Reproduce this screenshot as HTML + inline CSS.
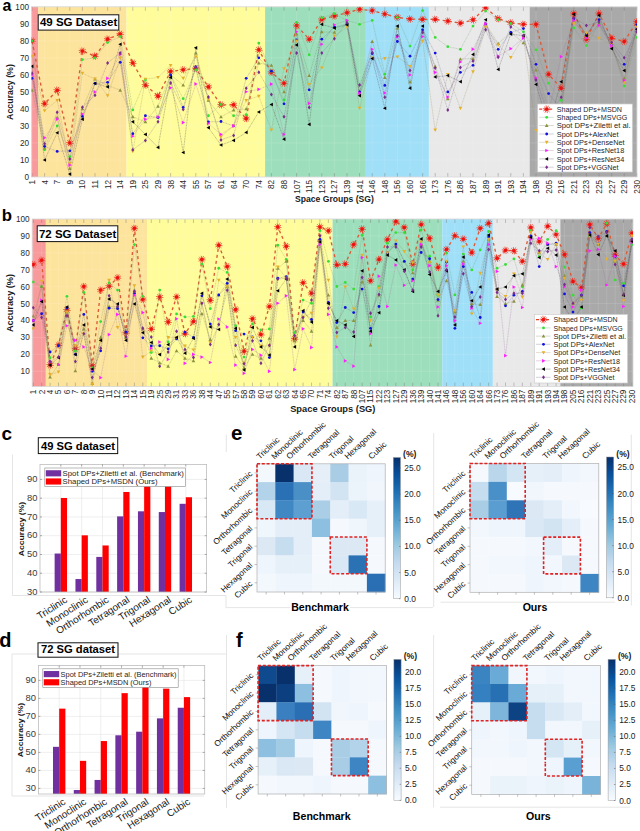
<!DOCTYPE html><html><head><meta charset="utf-8"><style>html,body{margin:0;padding:0;background:#fff;width:640px;height:831px;overflow:hidden}svg{display:block}</style></head><body>
<svg width="640" height="831" viewBox="0 0 640 831" font-family='"Liberation Sans", sans-serif'>
<rect width="640" height="831" fill="#fff"/>
<path d="M12.5 454.5V595.5H226V607.6H290M350 607.6H433M226.3 434.5V452M433.7 433V607M440.6 602.2H615M631.3 434.5V605.5M12 654H226M12 654V796H204M226.5 635V808M433.6 635V807.4M440 807.2H630" fill="none" stroke="#dedede" stroke-width="0.8"/>
<text x="2.5" y="10.8" font-size="16" font-weight="bold" fill="#000">a</text>
<text x="1.8" y="220.6" font-size="16.8" font-weight="bold" fill="#000">b</text>
<clipPath id="clipa"><rect x="31.5" y="6.8" width="605.5" height="170.2"/></clipPath>
<rect x="31.50" y="6.8" width="6.80" height="170.2" fill="#f89a9c"/>
<rect x="38.30" y="6.8" width="88.20" height="170.2" fill="#fde49c"/>
<rect x="126.50" y="6.8" width="138.60" height="170.2" fill="#fefc9b"/>
<rect x="265.10" y="6.8" width="100.80" height="170.2" fill="#9ddfbc"/>
<rect x="365.90" y="6.8" width="63.00" height="170.2" fill="#9fdff8"/>
<rect x="428.90" y="6.8" width="100.80" height="170.2" fill="#e9e9e9"/>
<rect x="529.70" y="6.8" width="107.30" height="170.2" fill="#a9a9a9"/>
<path d="M32.00 6.8V177M44.60 6.8V177M57.20 6.8V177M69.80 6.8V177M82.40 6.8V177M95.00 6.8V177M107.60 6.8V177M120.20 6.8V177M132.80 6.8V177M145.40 6.8V177M158.00 6.8V177M170.60 6.8V177M183.20 6.8V177M195.80 6.8V177M208.40 6.8V177M221.00 6.8V177M233.60 6.8V177M246.20 6.8V177M258.80 6.8V177M271.40 6.8V177M284.00 6.8V177M296.60 6.8V177M309.20 6.8V177M321.80 6.8V177M334.40 6.8V177M347.00 6.8V177M359.60 6.8V177M372.20 6.8V177M384.80 6.8V177M397.40 6.8V177M410.00 6.8V177M422.60 6.8V177M435.20 6.8V177M447.80 6.8V177M460.40 6.8V177M473.00 6.8V177M485.60 6.8V177M498.20 6.8V177M510.80 6.8V177M523.40 6.8V177M536.00 6.8V177M548.60 6.8V177M561.20 6.8V177M573.80 6.8V177M586.40 6.8V177M599.00 6.8V177M611.60 6.8V177M624.20 6.8V177M636.80 6.8V177M31.5 177.00H637M31.5 159.98H637M31.5 142.96H637M31.5 125.94H637M31.5 108.92H637M31.5 91.90H637M31.5 74.88H637M31.5 57.86H637M31.5 40.84H637M31.5 23.82H637M31.5 6.80H637" stroke="#ffffff" stroke-opacity="0.2" stroke-width="0.6" fill="none"/>
<path d="M32.00 6.8v4M32.00 177v-4M44.60 6.8v4M44.60 177v-4M57.20 6.8v4M57.20 177v-4M69.80 6.8v4M69.80 177v-4M82.40 6.8v4M82.40 177v-4M95.00 6.8v4M95.00 177v-4M107.60 6.8v4M107.60 177v-4M120.20 6.8v4M120.20 177v-4M132.80 6.8v4M132.80 177v-4M145.40 6.8v4M145.40 177v-4M158.00 6.8v4M158.00 177v-4M170.60 6.8v4M170.60 177v-4M183.20 6.8v4M183.20 177v-4M195.80 6.8v4M195.80 177v-4M208.40 6.8v4M208.40 177v-4M221.00 6.8v4M221.00 177v-4M233.60 6.8v4M233.60 177v-4M246.20 6.8v4M246.20 177v-4M258.80 6.8v4M258.80 177v-4M271.40 6.8v4M271.40 177v-4M284.00 6.8v4M284.00 177v-4M296.60 6.8v4M296.60 177v-4M309.20 6.8v4M309.20 177v-4M321.80 6.8v4M321.80 177v-4M334.40 6.8v4M334.40 177v-4M347.00 6.8v4M347.00 177v-4M359.60 6.8v4M359.60 177v-4M372.20 6.8v4M372.20 177v-4M384.80 6.8v4M384.80 177v-4M397.40 6.8v4M397.40 177v-4M410.00 6.8v4M410.00 177v-4M422.60 6.8v4M422.60 177v-4M435.20 6.8v4M435.20 177v-4M447.80 6.8v4M447.80 177v-4M460.40 6.8v4M460.40 177v-4M473.00 6.8v4M473.00 177v-4M485.60 6.8v4M485.60 177v-4M498.20 6.8v4M498.20 177v-4M510.80 6.8v4M510.80 177v-4M523.40 6.8v4M523.40 177v-4M536.00 6.8v4M536.00 177v-4M548.60 6.8v4M548.60 177v-4M561.20 6.8v4M561.20 177v-4M573.80 6.8v4M573.80 177v-4M586.40 6.8v4M586.40 177v-4M599.00 6.8v4M599.00 177v-4M611.60 6.8v4M611.60 177v-4M624.20 6.8v4M624.20 177v-4M636.80 6.8v4M636.80 177v-4" stroke="#555" stroke-opacity="0.55" stroke-width="0.6" fill="none"/>
<rect x="31.5" y="6.8" width="605.5" height="170.2" fill="none" stroke="#d6d6d6" stroke-width="0.8"/>
<g clip-path="url(#clipa)">
<polyline points="32.00,40.84 44.60,103.81 57.20,90.20 69.80,142.96 82.40,51.05 95.00,56.16 107.60,39.14 120.20,34.03 132.80,62.97 145.40,85.09 158.00,96.16 170.60,71.48 183.20,69.77 195.80,68.58 208.40,86.79 221.00,104.84 233.60,104.84 246.20,118.62 258.80,49.86 271.40,72.33 284.00,83.22 296.60,25.52 309.20,39.31 321.80,19.39 334.40,15.99 347.00,12.76 359.60,9.35 372.20,10.54 384.80,14.12 397.40,17.35 410.00,19.05 422.60,19.39 435.20,19.39 447.80,21.10 460.40,23.14 473.00,19.91 485.60,7.65 498.20,18.71 510.80,22.80 523.40,24.33 536.00,24.33 548.60,74.37 561.20,88.16 573.80,13.61 586.40,39.31 599.00,13.61 611.60,38.12 624.20,41.52 636.80,21.78" fill="none" stroke="#dc5a36" stroke-width="1.35" stroke-dasharray="3 3.1"/>
<path d="M32.79 40.96L35.66 41.39M32.57 41.40L34.63 43.44M32.13 41.63L32.60 44.49M31.64 41.56L30.34 44.15M31.29 41.21L28.72 42.54M31.21 40.72L28.34 40.29M31.43 40.28L29.37 38.24M31.87 40.05L31.40 37.19M32.36 40.12L33.66 37.53M32.71 40.47L35.28 39.14" stroke="#ee3a2a" stroke-width="0.95" stroke-opacity="0.85"/><circle cx="32.00" cy="40.84" r="1.80" fill="#ee1010"/>
<path d="M45.39 103.93L48.26 104.37M45.17 104.38L47.23 106.41M44.73 104.60L45.20 107.46M44.24 104.53L42.94 107.12M43.89 104.18L41.32 105.52M43.81 103.69L40.94 103.26M44.03 103.25L41.97 101.22M44.47 103.02L44.00 100.16M44.96 103.10L46.26 100.51M45.31 103.45L47.88 102.11" stroke="#ee3a2a" stroke-width="0.95" stroke-opacity="0.85"/><circle cx="44.60" cy="103.81" r="1.80" fill="#ee1010"/>
<path d="M57.99 90.32L60.86 90.75M57.77 90.76L59.83 92.80M57.33 90.99L57.80 93.85M56.84 90.91L55.54 93.51M56.49 90.57L53.92 91.90M56.41 90.08L53.54 89.65M56.63 89.64L54.57 87.60M57.07 89.41L56.60 86.55M57.56 89.48L58.86 86.89M57.91 89.83L60.48 88.49" stroke="#ee3a2a" stroke-width="0.95" stroke-opacity="0.85"/><circle cx="57.20" cy="90.20" r="1.80" fill="#ee1010"/>
<path d="M70.59 143.08L73.46 143.51M70.37 143.52L72.43 145.56M69.93 143.75L70.40 146.61M69.44 143.68L68.14 146.27M69.09 143.33L66.52 144.66M69.01 142.84L66.14 142.41M69.23 142.40L67.17 140.36M69.67 142.17L69.20 139.31M70.16 142.24L71.46 139.65M70.51 142.59L73.08 141.26" stroke="#ee3a2a" stroke-width="0.95" stroke-opacity="0.85"/><circle cx="69.80" cy="142.96" r="1.80" fill="#ee1010"/>
<path d="M83.19 51.17L86.06 51.60M82.97 51.61L85.03 53.65M82.53 51.84L83.00 54.70M82.04 51.77L80.74 54.36M81.69 51.42L79.12 52.76M81.61 50.93L78.74 50.50M81.83 50.49L79.77 48.45M82.27 50.26L81.80 47.40M82.76 50.34L84.06 47.74M83.11 50.68L85.68 49.35" stroke="#ee3a2a" stroke-width="0.95" stroke-opacity="0.85"/><circle cx="82.40" cy="51.05" r="1.80" fill="#ee1010"/>
<path d="M95.79 56.28L98.66 56.71M95.57 56.72L97.63 58.76M95.13 56.95L95.60 59.81M94.64 56.87L93.34 59.47M94.29 56.53L91.72 57.86M94.21 56.04L91.34 55.61M94.43 55.60L92.37 53.56M94.87 55.37L94.40 52.51M95.36 55.44L96.66 52.85M95.71 55.79L98.28 54.45" stroke="#ee3a2a" stroke-width="0.95" stroke-opacity="0.85"/><circle cx="95.00" cy="56.16" r="1.80" fill="#ee1010"/>
<path d="M108.39 39.26L111.26 39.69M108.17 39.70L110.23 41.74M107.73 39.93L108.20 42.79M107.24 39.85L105.94 42.45M106.89 39.51L104.32 40.84M106.81 39.02L103.94 38.59M107.03 38.58L104.97 36.54M107.47 38.35L107.00 35.49M107.96 38.42L109.26 35.83M108.31 38.77L110.88 37.43" stroke="#ee3a2a" stroke-width="0.95" stroke-opacity="0.85"/><circle cx="107.60" cy="39.14" r="1.80" fill="#ee1010"/>
<path d="M120.99 34.15L123.86 34.58M120.77 34.59L122.83 36.63M120.33 34.82L120.80 37.68M119.84 34.75L118.54 37.34M119.49 34.40L116.92 35.74M119.41 33.91L116.54 33.48M119.63 33.47L117.57 31.43M120.07 33.24L119.60 30.38M120.56 33.32L121.86 30.72M120.91 33.66L123.48 32.33" stroke="#ee3a2a" stroke-width="0.95" stroke-opacity="0.85"/><circle cx="120.20" cy="34.03" r="1.80" fill="#ee1010"/>
<path d="M133.59 63.09L136.46 63.52M133.37 63.53L135.43 65.56M132.93 63.76L133.40 66.62M132.44 63.68L131.14 66.27M132.09 63.33L129.52 64.67M132.01 62.85L129.14 62.41M132.23 62.40L130.17 60.37M132.67 62.18L132.20 59.32M133.16 62.25L134.46 59.66M133.51 62.60L136.08 61.26" stroke="#ee3a2a" stroke-width="0.95" stroke-opacity="0.85"/><circle cx="132.80" cy="62.97" r="1.80" fill="#ee1010"/>
<path d="M146.19 85.21L149.06 85.64M145.97 85.65L148.03 87.69M145.53 85.88L146.00 88.74M145.04 85.81L143.74 88.40M144.69 85.46L142.12 86.80M144.61 84.97L141.74 84.54M144.83 84.53L142.77 82.49M145.27 84.30L144.80 81.44M145.76 84.38L147.06 81.78M146.11 84.72L148.68 83.39" stroke="#ee3a2a" stroke-width="0.95" stroke-opacity="0.85"/><circle cx="145.40" cy="85.09" r="1.80" fill="#ee1010"/>
<path d="M158.79 96.27L161.66 96.71M158.57 96.72L160.63 98.75M158.13 96.94L158.60 99.81M157.64 96.87L156.34 99.46M157.29 96.52L154.72 97.86M157.21 96.04L154.34 95.60M157.43 95.59L155.37 93.56M157.87 95.37L157.40 92.50M158.36 95.44L159.66 92.85M158.71 95.79L161.28 94.45" stroke="#ee3a2a" stroke-width="0.95" stroke-opacity="0.85"/><circle cx="158.00" cy="96.16" r="1.80" fill="#ee1010"/>
<path d="M171.39 71.60L174.26 72.03M171.17 72.04L173.23 74.07M170.73 72.27L171.20 75.13M170.24 72.19L168.94 74.78M169.89 71.84L167.32 73.18M169.81 71.36L166.94 70.92M170.03 70.91L167.97 68.88M170.47 70.69L170.00 67.83M170.96 70.76L172.26 68.17M171.31 71.11L173.88 69.77" stroke="#ee3a2a" stroke-width="0.95" stroke-opacity="0.85"/><circle cx="170.60" cy="71.48" r="1.80" fill="#ee1010"/>
<path d="M183.99 69.89L186.86 70.33M183.77 70.34L185.83 72.37M183.33 70.56L183.80 73.42M182.84 70.49L181.54 73.08M182.49 70.14L179.92 71.48M182.41 69.65L179.54 69.22M182.63 69.21L180.57 67.18M183.07 68.98L182.60 66.12M183.56 69.06L184.86 66.47M183.91 69.41L186.48 68.07" stroke="#ee3a2a" stroke-width="0.95" stroke-opacity="0.85"/><circle cx="183.20" cy="69.77" r="1.80" fill="#ee1010"/>
<path d="M196.59 68.70L199.46 69.14M196.37 69.14L198.43 71.18M195.93 69.37L196.40 72.23M195.44 69.30L194.14 71.89M195.09 68.95L192.52 70.29M195.01 68.46L192.14 68.03M195.23 68.02L193.17 65.98M195.67 67.79L195.20 64.93M196.16 67.87L197.46 65.27M196.51 68.21L199.08 66.88" stroke="#ee3a2a" stroke-width="0.95" stroke-opacity="0.85"/><circle cx="195.80" cy="68.58" r="1.80" fill="#ee1010"/>
<path d="M209.19 86.91L212.06 87.35M208.97 87.36L211.03 89.39M208.53 87.58L209.00 90.44M208.04 87.51L206.74 90.10M207.69 87.16L205.12 88.50M207.61 86.67L204.74 86.24M207.83 86.23L205.77 84.20M208.27 86.00L207.80 83.14M208.76 86.08L210.06 83.49M209.11 86.43L211.68 85.09" stroke="#ee3a2a" stroke-width="0.95" stroke-opacity="0.85"/><circle cx="208.40" cy="86.79" r="1.80" fill="#ee1010"/>
<path d="M221.79 104.95L224.66 105.39M221.57 105.40L223.63 107.43M221.13 105.62L221.60 108.49M220.64 105.55L219.34 108.14M220.29 105.20L217.72 106.54M220.21 104.72L217.34 104.28M220.43 104.27L218.37 102.24M220.87 104.05L220.40 101.18M221.36 104.12L222.66 101.53M221.71 104.47L224.28 103.13" stroke="#ee3a2a" stroke-width="0.95" stroke-opacity="0.85"/><circle cx="221.00" cy="104.84" r="1.80" fill="#ee1010"/>
<path d="M234.39 104.95L237.26 105.39M234.17 105.40L236.23 107.43M233.73 105.62L234.20 108.49M233.24 105.55L231.94 108.14M232.89 105.20L230.32 106.54M232.81 104.72L229.94 104.28M233.03 104.27L230.97 102.24M233.47 104.05L233.00 101.18M233.96 104.12L235.26 101.53M234.31 104.47L236.88 103.13" stroke="#ee3a2a" stroke-width="0.95" stroke-opacity="0.85"/><circle cx="233.60" cy="104.84" r="1.80" fill="#ee1010"/>
<path d="M246.99 118.74L249.86 119.17M246.77 119.18L248.83 121.22M246.33 119.41L246.80 122.27M245.84 119.34L244.54 121.93M245.49 118.99L242.92 120.32M245.41 118.50L242.54 118.07M245.63 118.06L243.57 116.02M246.07 117.83L245.60 114.97M246.56 117.91L247.86 115.31M246.91 118.25L249.48 116.92" stroke="#ee3a2a" stroke-width="0.95" stroke-opacity="0.85"/><circle cx="246.20" cy="118.62" r="1.80" fill="#ee1010"/>
<path d="M259.59 49.98L262.46 50.41M259.37 50.42L261.43 52.46M258.93 50.65L259.40 53.51M258.44 50.58L257.14 53.17M258.09 50.23L255.52 51.56M258.01 49.74L255.14 49.31M258.23 49.30L256.17 47.26M258.67 49.07L258.20 46.21M259.16 49.15L260.46 46.55M259.51 49.49L262.08 48.16" stroke="#ee3a2a" stroke-width="0.95" stroke-opacity="0.85"/><circle cx="258.80" cy="49.86" r="1.80" fill="#ee1010"/>
<path d="M272.19 72.45L275.06 72.88M271.97 72.89L274.03 74.92M271.53 73.12L272.00 75.98M271.04 73.04L269.74 75.64M270.69 72.70L268.12 74.03M270.61 72.21L267.74 71.77M270.83 71.77L268.77 69.73M271.27 71.54L270.80 68.68M271.76 71.61L273.06 69.02M272.11 71.96L274.68 70.62" stroke="#ee3a2a" stroke-width="0.95" stroke-opacity="0.85"/><circle cx="271.40" cy="72.33" r="1.80" fill="#ee1010"/>
<path d="M284.79 83.34L287.66 83.77M284.57 83.78L286.63 85.82M284.13 84.01L284.60 86.87M283.64 83.94L282.34 86.53M283.29 83.59L280.72 84.92M283.21 83.10L280.34 82.67M283.43 82.66L281.37 80.62M283.87 82.43L283.40 79.57M284.36 82.50L285.66 79.91M284.71 82.85L287.28 81.52" stroke="#ee3a2a" stroke-width="0.95" stroke-opacity="0.85"/><circle cx="284.00" cy="83.22" r="1.80" fill="#ee1010"/>
<path d="M297.39 25.64L300.26 26.07M297.17 26.08L299.23 28.12M296.73 26.31L297.20 29.17M296.24 26.24L294.94 28.83M295.89 25.89L293.32 27.23M295.81 25.40L292.94 24.97M296.03 24.96L293.97 22.92M296.47 24.73L296.00 21.87M296.96 24.81L298.26 22.21M297.31 25.15L299.88 23.82" stroke="#ee3a2a" stroke-width="0.95" stroke-opacity="0.85"/><circle cx="296.60" cy="25.52" r="1.80" fill="#ee1010"/>
<path d="M309.99 39.43L312.86 39.86M309.77 39.87L311.83 41.91M309.33 40.10L309.80 42.96M308.84 40.02L307.54 42.62M308.49 39.68L305.92 41.01M308.41 39.19L305.54 38.76M308.63 38.75L306.57 36.71M309.07 38.52L308.60 35.66M309.56 38.59L310.86 36.00M309.91 38.94L312.48 37.61" stroke="#ee3a2a" stroke-width="0.95" stroke-opacity="0.85"/><circle cx="309.20" cy="39.31" r="1.80" fill="#ee1010"/>
<path d="M322.59 19.51L325.46 19.95M322.37 19.96L324.43 21.99M321.93 20.18L322.40 23.05M321.44 20.11L320.14 22.70M321.09 19.76L318.52 21.10M321.01 19.28L318.14 18.84M321.23 18.83L319.17 16.80M321.67 18.61L321.20 15.74M322.16 18.68L323.46 16.09M322.51 19.03L325.08 17.69" stroke="#ee3a2a" stroke-width="0.95" stroke-opacity="0.85"/><circle cx="321.80" cy="19.39" r="1.80" fill="#ee1010"/>
<path d="M335.19 16.11L338.06 16.54M334.97 16.55L337.03 18.59M334.53 16.78L335.00 19.64M334.04 16.71L332.74 19.30M333.69 16.36L331.12 17.69M333.61 15.87L330.74 15.44M333.83 15.43L331.77 13.39M334.27 15.20L333.80 12.34M334.76 15.28L336.06 12.68M335.11 15.62L337.68 14.29" stroke="#ee3a2a" stroke-width="0.95" stroke-opacity="0.85"/><circle cx="334.40" cy="15.99" r="1.80" fill="#ee1010"/>
<path d="M347.79 12.88L350.66 13.31M347.57 13.32L349.63 15.35M347.13 13.55L347.60 16.41M346.64 13.47L345.34 16.07M346.29 13.13L343.72 14.46M346.21 12.64L343.34 12.20M346.43 12.20L344.37 10.16M346.87 11.97L346.40 9.11M347.36 12.04L348.66 9.45M347.71 12.39L350.28 11.05" stroke="#ee3a2a" stroke-width="0.95" stroke-opacity="0.85"/><circle cx="347.00" cy="12.76" r="1.80" fill="#ee1010"/>
<path d="M360.39 9.47L363.26 9.91M360.17 9.91L362.23 11.95M359.73 10.14L360.20 13.00M359.24 10.07L357.94 12.66M358.89 9.72L356.32 11.06M358.81 9.23L355.94 8.80M359.03 8.79L356.97 6.76M359.47 8.56L359.00 5.70M359.96 8.64L361.26 6.04M360.31 8.98L362.88 7.65" stroke="#ee3a2a" stroke-width="0.95" stroke-opacity="0.85"/><circle cx="359.60" cy="9.35" r="1.80" fill="#ee1010"/>
<path d="M372.99 10.66L375.86 11.10M372.77 11.11L374.83 13.14M372.33 11.33L372.80 14.19M371.84 11.26L370.54 13.85M371.49 10.91L368.92 12.25M371.41 10.42L368.54 9.99M371.63 9.98L369.57 7.95M372.07 9.76L371.60 6.89M372.56 9.83L373.86 7.24M372.91 10.18L375.48 8.84" stroke="#ee3a2a" stroke-width="0.95" stroke-opacity="0.85"/><circle cx="372.20" cy="10.54" r="1.80" fill="#ee1010"/>
<path d="M385.59 14.24L388.46 14.67M385.37 14.68L387.43 16.72M384.93 14.91L385.40 17.77M384.44 14.83L383.14 17.43M384.09 14.49L381.52 15.82M384.01 14.00L381.14 13.57M384.23 13.56L382.17 11.52M384.67 13.33L384.20 10.47M385.16 13.40L386.46 10.81M385.51 13.75L388.08 12.42" stroke="#ee3a2a" stroke-width="0.95" stroke-opacity="0.85"/><circle cx="384.80" cy="14.12" r="1.80" fill="#ee1010"/>
<path d="M398.19 17.47L401.06 17.91M397.97 17.91L400.03 19.95M397.53 18.14L398.00 21.00M397.04 18.07L395.74 20.66M396.69 17.72L394.12 19.06M396.61 17.23L393.74 16.80M396.83 16.79L394.77 14.75M397.27 16.56L396.80 13.70M397.76 16.64L399.06 14.04M398.11 16.98L400.68 15.65" stroke="#ee3a2a" stroke-width="0.95" stroke-opacity="0.85"/><circle cx="397.40" cy="17.35" r="1.80" fill="#ee1010"/>
<path d="M410.79 19.17L413.66 19.61M410.57 19.62L412.63 21.65M410.13 19.84L410.60 22.70M409.64 19.77L408.34 22.36M409.29 19.42L406.72 20.76M409.21 18.93L406.34 18.50M409.43 18.49L407.37 16.46M409.87 18.27L409.40 15.40M410.36 18.34L411.66 15.75M410.71 18.69L413.28 17.35" stroke="#ee3a2a" stroke-width="0.95" stroke-opacity="0.85"/><circle cx="410.00" cy="19.05" r="1.80" fill="#ee1010"/>
<path d="M423.39 19.51L426.26 19.95M423.17 19.96L425.23 21.99M422.73 20.18L423.20 23.05M422.24 20.11L420.94 22.70M421.89 19.76L419.32 21.10M421.81 19.28L418.94 18.84M422.03 18.83L419.97 16.80M422.47 18.61L422.00 15.74M422.96 18.68L424.26 16.09M423.31 19.03L425.88 17.69" stroke="#ee3a2a" stroke-width="0.95" stroke-opacity="0.85"/><circle cx="422.60" cy="19.39" r="1.80" fill="#ee1010"/>
<path d="M435.99 19.51L438.86 19.95M435.77 19.96L437.83 21.99M435.33 20.18L435.80 23.05M434.84 20.11L433.54 22.70M434.49 19.76L431.92 21.10M434.41 19.28L431.54 18.84M434.63 18.83L432.57 16.80M435.07 18.61L434.60 15.74M435.56 18.68L436.86 16.09M435.91 19.03L438.48 17.69" stroke="#ee3a2a" stroke-width="0.95" stroke-opacity="0.85"/><circle cx="435.20" cy="19.39" r="1.80" fill="#ee1010"/>
<path d="M448.59 21.22L451.46 21.65M448.37 21.66L450.43 23.69M447.93 21.89L448.40 24.75M447.44 21.81L446.14 24.41M447.09 21.47L444.52 22.80M447.01 20.98L444.14 20.54M447.23 20.54L445.17 18.50M447.67 20.31L447.20 17.45M448.16 20.38L449.46 17.79M448.51 20.73L451.08 19.39" stroke="#ee3a2a" stroke-width="0.95" stroke-opacity="0.85"/><circle cx="447.80" cy="21.10" r="1.80" fill="#ee1010"/>
<path d="M461.19 23.26L464.06 23.69M460.97 23.70L463.03 25.74M460.53 23.93L461.00 26.79M460.04 23.85L458.74 26.45M459.69 23.51L457.12 24.84M459.61 23.02L456.74 22.59M459.83 22.58L457.77 20.54M460.27 22.35L459.80 19.49M460.76 22.42L462.06 19.83M461.11 22.77L463.68 21.44" stroke="#ee3a2a" stroke-width="0.95" stroke-opacity="0.85"/><circle cx="460.40" cy="23.14" r="1.80" fill="#ee1010"/>
<path d="M473.79 20.02L476.66 20.46M473.57 20.47L475.63 22.50M473.13 20.69L473.60 23.56M472.64 20.62L471.34 23.21M472.29 20.27L469.72 21.61M472.21 19.79L469.34 19.35M472.43 19.34L470.37 17.31M472.87 19.12L472.40 16.26M473.36 19.19L474.66 16.60M473.71 19.54L476.28 18.20" stroke="#ee3a2a" stroke-width="0.95" stroke-opacity="0.85"/><circle cx="473.00" cy="19.91" r="1.80" fill="#ee1010"/>
<path d="M486.39 7.77L489.26 8.20M486.17 8.21L488.23 10.25M485.73 8.44L486.20 11.30M485.24 8.37L483.94 10.96M484.89 8.02L482.32 9.35M484.81 7.53L481.94 7.10M485.03 7.09L482.97 5.05M485.47 6.86L485.00 4.00M485.96 6.94L487.26 4.34M486.31 7.28L488.88 5.95" stroke="#ee3a2a" stroke-width="0.95" stroke-opacity="0.85"/><circle cx="485.60" cy="7.65" r="1.80" fill="#ee1010"/>
<path d="M498.99 18.83L501.86 19.27M498.77 19.28L500.83 21.31M498.33 19.50L498.80 22.36M497.84 19.43L496.54 22.02M497.49 19.08L494.92 20.42M497.41 18.59L494.54 18.16M497.63 18.15L495.57 16.12M498.07 17.92L497.60 15.06M498.56 18.00L499.86 15.41M498.91 18.35L501.48 17.01" stroke="#ee3a2a" stroke-width="0.95" stroke-opacity="0.85"/><circle cx="498.20" cy="18.71" r="1.80" fill="#ee1010"/>
<path d="M511.59 22.92L514.46 23.35M511.37 23.36L513.43 25.40M510.93 23.59L511.40 26.45M510.44 23.51L509.14 26.11M510.09 23.17L507.52 24.50M510.01 22.68L507.14 22.25M510.23 22.24L508.17 20.20M510.67 22.01L510.20 19.15M511.16 22.08L512.46 19.49M511.51 22.43L514.08 21.10" stroke="#ee3a2a" stroke-width="0.95" stroke-opacity="0.85"/><circle cx="510.80" cy="22.80" r="1.80" fill="#ee1010"/>
<path d="M524.19 24.45L527.06 24.88M523.97 24.89L526.03 26.93M523.53 25.12L524.00 27.98M523.04 25.05L521.74 27.64M522.69 24.70L520.12 26.03M522.61 24.21L519.74 23.78M522.83 23.77L520.77 21.73M523.27 23.54L522.80 20.68M523.76 23.62L525.06 21.02M524.11 23.96L526.68 22.63" stroke="#ee3a2a" stroke-width="0.95" stroke-opacity="0.85"/><circle cx="523.40" cy="24.33" r="1.80" fill="#ee1010"/>
<path d="M536.79 24.45L539.66 24.88M536.57 24.89L538.63 26.93M536.13 25.12L536.60 27.98M535.64 25.05L534.34 27.64M535.29 24.70L532.72 26.03M535.21 24.21L532.34 23.78M535.43 23.77L533.37 21.73M535.87 23.54L535.40 20.68M536.36 23.62L537.66 21.02M536.71 23.96L539.28 22.63" stroke="#ee3a2a" stroke-width="0.95" stroke-opacity="0.85"/><circle cx="536.00" cy="24.33" r="1.80" fill="#ee1010"/>
<path d="M549.39 74.49L552.26 74.92M549.17 74.93L551.23 76.97M548.73 75.16L549.20 78.02M548.24 75.08L546.94 77.68M547.89 74.74L545.32 76.07M547.81 74.25L544.94 73.82M548.03 73.81L545.97 71.77M548.47 73.58L548.00 70.72M548.96 73.65L550.26 71.06M549.31 74.00L551.88 72.67" stroke="#ee3a2a" stroke-width="0.95" stroke-opacity="0.85"/><circle cx="548.60" cy="74.37" r="1.80" fill="#ee1010"/>
<path d="M561.99 88.28L564.86 88.71M561.77 88.72L563.83 90.75M561.33 88.94L561.80 91.81M560.84 88.87L559.54 91.46M560.49 88.52L557.92 89.86M560.41 88.04L557.54 87.60M560.63 87.59L558.57 85.56M561.07 87.37L560.60 84.51M561.56 87.44L562.86 84.85M561.91 87.79L564.48 86.45" stroke="#ee3a2a" stroke-width="0.95" stroke-opacity="0.85"/><circle cx="561.20" cy="88.16" r="1.80" fill="#ee1010"/>
<path d="M574.59 13.73L577.46 14.16M574.37 14.17L576.43 16.21M573.93 14.40L574.40 17.26M573.44 14.32L572.14 16.92M573.09 13.98L570.52 15.31M573.01 13.49L570.14 13.06M573.23 13.05L571.17 11.01M573.67 12.82L573.20 9.96M574.16 12.89L575.46 10.30M574.51 13.24L577.08 11.90" stroke="#ee3a2a" stroke-width="0.95" stroke-opacity="0.85"/><circle cx="573.80" cy="13.61" r="1.80" fill="#ee1010"/>
<path d="M587.19 39.43L590.06 39.86M586.97 39.87L589.03 41.91M586.53 40.10L587.00 42.96M586.04 40.02L584.74 42.62M585.69 39.68L583.12 41.01M585.61 39.19L582.74 38.76M585.83 38.75L583.77 36.71M586.27 38.52L585.80 35.66M586.76 38.59L588.06 36.00M587.11 38.94L589.68 37.61" stroke="#ee3a2a" stroke-width="0.95" stroke-opacity="0.85"/><circle cx="586.40" cy="39.31" r="1.80" fill="#ee1010"/>
<path d="M599.79 13.73L602.66 14.16M599.57 14.17L601.63 16.21M599.13 14.40L599.60 17.26M598.64 14.32L597.34 16.92M598.29 13.98L595.72 15.31M598.21 13.49L595.34 13.06M598.43 13.05L596.37 11.01M598.87 12.82L598.40 9.96M599.36 12.89L600.66 10.30M599.71 13.24L602.28 11.90" stroke="#ee3a2a" stroke-width="0.95" stroke-opacity="0.85"/><circle cx="599.00" cy="13.61" r="1.80" fill="#ee1010"/>
<path d="M612.39 38.24L615.26 38.67M612.17 38.68L614.23 40.71M611.73 38.91L612.20 41.77M611.24 38.83L609.94 41.43M610.89 38.49L608.32 39.82M610.81 38.00L607.94 37.56M611.03 37.56L608.97 35.52M611.47 37.33L611.00 34.47M611.96 37.40L613.26 34.81M612.31 37.75L614.88 36.41" stroke="#ee3a2a" stroke-width="0.95" stroke-opacity="0.85"/><circle cx="611.60" cy="38.12" r="1.80" fill="#ee1010"/>
<path d="M624.99 41.64L627.86 42.07M624.77 42.08L626.83 44.12M624.33 42.31L624.80 45.17M623.84 42.24L622.54 44.83M623.49 41.89L620.92 43.22M623.41 41.40L620.54 40.97M623.63 40.96L621.57 38.92M624.07 40.73L623.60 37.87M624.56 40.81L625.86 38.21M624.91 41.15L627.48 39.82" stroke="#ee3a2a" stroke-width="0.95" stroke-opacity="0.85"/><circle cx="624.20" cy="41.52" r="1.80" fill="#ee1010"/>
<path d="M637.59 21.90L640.46 22.33M637.37 22.34L639.43 24.38M636.93 22.57L637.40 25.43M636.44 22.49L635.14 25.09M636.09 22.15L633.52 23.48M636.01 21.66L633.14 21.22M636.23 21.22L634.17 19.18M636.67 20.99L636.20 18.13M637.16 21.06L638.46 18.47M637.51 21.41L640.08 20.07" stroke="#ee3a2a" stroke-width="0.95" stroke-opacity="0.85"/><circle cx="636.80" cy="21.78" r="1.80" fill="#ee1010"/>
<polyline points="32.00,40.84 44.60,149.77 57.20,125.94 69.80,156.58 82.40,59.56 95.00,57.86 107.60,42.54 120.20,36.59 132.80,109.94 145.40,79.99 158.00,117.43 170.60,74.88 183.20,98.71 195.80,69.77 208.40,115.73 221.00,104.49 233.60,115.73 246.20,114.54 258.80,43.05 271.40,71.48 284.00,99.90 296.60,22.29 309.20,54.80 321.80,17.86 334.40,13.61 347.00,20.42 359.60,24.33 372.20,20.42 384.80,74.20 397.40,17.35 410.00,46.12 422.60,10.54 435.20,37.44 447.80,46.63 460.40,49.35 473.00,26.03 485.60,11.06 498.20,19.74 510.80,23.48 523.40,31.82 536.00,49.86 548.60,83.22 561.20,100.41 573.80,27.90 586.40,45.61 599.00,23.82 611.60,44.24 624.20,86.11 636.80,37.44" fill="none" stroke="#70a070" stroke-width="0.5" stroke-opacity="0.7" stroke-dasharray="1 0.6"/>
<polyline points="32.00,90.20 44.60,148.07 57.20,117.43 69.80,168.49 82.40,108.92 95.00,79.14 107.60,85.43 120.20,90.20 132.80,116.75 145.40,121.86 158.00,106.20 170.60,74.88 183.20,85.09 195.80,53.09 208.40,100.41 221.00,116.92 233.60,109.94 246.20,108.92 258.80,62.97 271.40,65.35 284.00,91.90 296.60,34.03 309.20,75.56 321.80,31.82 334.40,32.33 347.00,23.82 359.60,91.90 372.20,41.52 384.80,77.43 397.40,28.08 410.00,81.86 422.60,32.33 435.20,66.37 447.80,98.71 460.40,59.05 473.00,58.54 485.60,23.82 498.20,43.56 510.80,32.33 523.40,42.88 536.00,69.94 548.60,108.92 561.20,105.52 573.80,20.42 586.40,37.44 599.00,23.82 611.60,45.95 624.20,78.28 636.80,30.63" fill="none" stroke="#808060" stroke-width="0.5" stroke-opacity="0.7" stroke-dasharray="1 0.6"/>
<polyline points="32.00,78.28 44.60,146.36 57.20,151.47 69.80,150.79 82.40,116.41 95.00,83.39 107.60,82.37 120.20,62.29 132.80,133.77 145.40,115.73 158.00,117.43 170.60,74.88 183.20,107.39 195.80,66.88 208.40,121.86 221.00,121.51 233.60,125.94 246.20,78.28 258.80,57.86 271.40,71.14 284.00,103.81 296.60,39.82 309.20,89.86 321.80,39.14 334.40,27.22 347.00,23.82 359.60,91.90 372.20,53.61 384.80,85.43 397.40,41.52 410.00,56.16 422.60,29.78 435.20,53.09 447.80,91.90 460.40,72.33 473.00,65.35 485.60,23.82 498.20,49.35 510.80,32.33 523.40,28.59 536.00,64.33 548.60,93.60 561.20,108.92 573.80,18.71 586.40,34.03 599.00,19.74 611.60,44.24 624.20,64.33 636.80,24.84" fill="none" stroke="#606090" stroke-width="0.5" stroke-opacity="0.7" stroke-dasharray="1 0.6"/>
<polyline points="32.00,56.16 44.60,110.62 57.20,100.41 69.80,163.38 82.40,73.18 95.00,78.96 107.60,95.64 120.20,57.86 132.80,151.47 145.40,79.14 158.00,77.43 170.60,65.35 183.20,78.28 195.80,56.84 208.40,99.22 221.00,136.66 233.60,125.94 246.20,100.41 258.80,96.16 271.40,130.02 284.00,68.58 296.60,40.84 309.20,84.41 321.80,67.90 334.40,36.07 347.00,27.22 359.60,108.24 372.20,57.86 384.80,58.54 397.40,56.84 410.00,66.37 422.60,41.01 435.20,130.02 447.80,74.37 460.40,108.24 473.00,71.82 485.60,27.22 498.20,44.92 510.80,57.35 523.40,37.44 536.00,130.37 548.60,117.43 561.20,112.32 573.80,23.82 586.40,32.84 599.00,38.12 611.60,44.24 624.20,82.54 636.80,27.22" fill="none" stroke="#a09060" stroke-width="0.5" stroke-opacity="0.7" stroke-dasharray="1 0.6"/>
<polyline points="32.00,74.88 44.60,137.85 57.20,119.13 69.80,165.09 82.40,114.03 95.00,91.90 107.60,78.28 120.20,54.46 132.80,136.15 145.40,119.13 158.00,116.92 170.60,87.82 183.20,122.54 195.80,83.90 208.40,123.39 221.00,134.45 233.60,125.94 246.20,91.73 258.80,89.35 271.40,84.07 284.00,134.28 296.60,31.82 309.20,103.47 321.80,44.24 334.40,24.84 347.00,20.42 359.60,93.09 372.20,49.35 384.80,92.92 397.40,36.76 410.00,74.88 422.60,36.59 435.20,72.33 447.80,97.01 460.40,61.94 473.00,49.18 485.60,23.82 498.20,56.16 510.80,48.67 523.40,38.12 536.00,77.94 548.60,112.32 561.20,56.67 573.80,20.42 586.40,38.12 599.00,25.52 611.60,45.95 624.20,80.33 636.80,28.93" fill="none" stroke="#a070a0" stroke-width="0.5" stroke-opacity="0.7" stroke-dasharray="1 0.6"/>
<polyline points="32.00,66.37 44.60,159.98 57.20,132.75 69.80,174.11 82.40,119.13 95.00,83.39 107.60,86.96 120.20,44.24 132.80,121.86 145.40,134.45 158.00,147.39 170.60,77.43 183.20,152.49 195.80,47.82 208.40,127.64 221.00,145.00 233.60,140.41 246.20,132.41 258.80,111.98 271.40,104.49 284.00,139.22 296.60,44.92 309.20,124.41 321.80,24.33 334.40,28.08 347.00,24.84 359.60,95.64 372.20,58.54 384.80,108.24 397.40,26.03 410.00,88.16 422.60,26.03 435.20,76.92 447.80,75.56 460.40,81.69 473.00,54.46 485.60,19.74 498.20,69.43 510.80,34.03 523.40,35.73 536.00,84.41 548.60,125.94 561.20,81.69 573.80,14.29 586.40,35.73 599.00,15.31 611.60,48.67 624.20,70.62 636.80,29.27" fill="none" stroke="#404040" stroke-width="0.5" stroke-opacity="0.7" stroke-dasharray="1 0.6"/>
<polyline points="32.00,73.18 44.60,143.81 57.20,112.32 69.80,158.96 82.40,107.22 95.00,95.30 107.60,62.97 120.20,53.09 132.80,149.77 145.40,140.41 158.00,121.69 170.60,82.88 183.20,109.43 195.80,66.88 208.40,97.01 221.00,139.90 233.60,135.47 246.20,88.16 258.80,72.33 271.40,94.45 284.00,116.75 296.60,52.92 309.20,107.39 321.80,52.92 334.40,38.63 347.00,22.80 359.60,85.09 372.20,52.41 384.80,97.18 397.40,35.73 410.00,70.45 422.60,32.33 435.20,67.90 447.80,109.94 460.40,67.39 473.00,60.92 485.60,29.78 498.20,57.35 510.80,26.88 523.40,35.39 536.00,79.99 548.60,115.73 561.20,97.35 573.80,17.86 586.40,25.52 599.00,22.12 611.60,42.54 624.20,57.86 636.80,31.82" fill="none" stroke="#706080" stroke-width="0.5" stroke-opacity="0.7" stroke-dasharray="1 0.6"/>
<circle cx="32.00" cy="40.84" r="1.40" fill="#35e035"/>
<circle cx="44.60" cy="149.77" r="1.40" fill="#35e035"/>
<circle cx="57.20" cy="125.94" r="1.40" fill="#35e035"/>
<circle cx="69.80" cy="156.58" r="1.40" fill="#35e035"/>
<circle cx="82.40" cy="59.56" r="1.40" fill="#35e035"/>
<circle cx="95.00" cy="57.86" r="1.40" fill="#35e035"/>
<circle cx="107.60" cy="42.54" r="1.40" fill="#35e035"/>
<circle cx="120.20" cy="36.59" r="1.40" fill="#35e035"/>
<circle cx="132.80" cy="109.94" r="1.40" fill="#35e035"/>
<circle cx="145.40" cy="79.99" r="1.40" fill="#35e035"/>
<circle cx="158.00" cy="117.43" r="1.40" fill="#35e035"/>
<circle cx="170.60" cy="74.88" r="1.40" fill="#35e035"/>
<circle cx="183.20" cy="98.71" r="1.40" fill="#35e035"/>
<circle cx="195.80" cy="69.77" r="1.40" fill="#35e035"/>
<circle cx="208.40" cy="115.73" r="1.40" fill="#35e035"/>
<circle cx="221.00" cy="104.49" r="1.40" fill="#35e035"/>
<circle cx="233.60" cy="115.73" r="1.40" fill="#35e035"/>
<circle cx="246.20" cy="114.54" r="1.40" fill="#35e035"/>
<circle cx="258.80" cy="43.05" r="1.40" fill="#35e035"/>
<circle cx="271.40" cy="71.48" r="1.40" fill="#35e035"/>
<circle cx="284.00" cy="99.90" r="1.40" fill="#35e035"/>
<circle cx="296.60" cy="22.29" r="1.40" fill="#35e035"/>
<circle cx="309.20" cy="54.80" r="1.40" fill="#35e035"/>
<circle cx="321.80" cy="17.86" r="1.40" fill="#35e035"/>
<circle cx="334.40" cy="13.61" r="1.40" fill="#35e035"/>
<circle cx="347.00" cy="20.42" r="1.40" fill="#35e035"/>
<circle cx="359.60" cy="24.33" r="1.40" fill="#35e035"/>
<circle cx="372.20" cy="20.42" r="1.40" fill="#35e035"/>
<circle cx="384.80" cy="74.20" r="1.40" fill="#35e035"/>
<circle cx="397.40" cy="17.35" r="1.40" fill="#35e035"/>
<circle cx="410.00" cy="46.12" r="1.40" fill="#35e035"/>
<circle cx="422.60" cy="10.54" r="1.40" fill="#35e035"/>
<circle cx="435.20" cy="37.44" r="1.40" fill="#35e035"/>
<circle cx="447.80" cy="46.63" r="1.40" fill="#35e035"/>
<circle cx="460.40" cy="49.35" r="1.40" fill="#35e035"/>
<circle cx="473.00" cy="26.03" r="1.40" fill="#35e035"/>
<circle cx="485.60" cy="11.06" r="1.40" fill="#35e035"/>
<circle cx="498.20" cy="19.74" r="1.40" fill="#35e035"/>
<circle cx="510.80" cy="23.48" r="1.40" fill="#35e035"/>
<circle cx="523.40" cy="31.82" r="1.40" fill="#35e035"/>
<circle cx="536.00" cy="49.86" r="1.40" fill="#35e035"/>
<circle cx="548.60" cy="83.22" r="1.40" fill="#35e035"/>
<circle cx="561.20" cy="100.41" r="1.40" fill="#35e035"/>
<circle cx="573.80" cy="27.90" r="1.40" fill="#35e035"/>
<circle cx="586.40" cy="45.61" r="1.40" fill="#35e035"/>
<circle cx="599.00" cy="23.82" r="1.40" fill="#35e035"/>
<circle cx="611.60" cy="44.24" r="1.40" fill="#35e035"/>
<circle cx="624.20" cy="86.11" r="1.40" fill="#35e035"/>
<circle cx="636.80" cy="37.44" r="1.40" fill="#35e035"/>
<polygon points="32.00,88.30 30.15,91.65 33.85,91.65" fill="#8c9440"/>
<polygon points="44.60,146.17 42.75,149.52 46.45,149.52" fill="#8c9440"/>
<polygon points="57.20,115.53 55.35,118.88 59.05,118.88" fill="#8c9440"/>
<polygon points="69.80,166.59 67.95,169.94 71.65,169.94" fill="#8c9440"/>
<polygon points="82.40,107.02 80.55,110.37 84.25,110.37" fill="#8c9440"/>
<polygon points="95.00,77.23 93.15,80.59 96.85,80.59" fill="#8c9440"/>
<polygon points="107.60,83.53 105.75,86.88 109.45,86.88" fill="#8c9440"/>
<polygon points="120.20,88.30 118.35,91.65 122.05,91.65" fill="#8c9440"/>
<polygon points="132.80,114.85 130.95,118.20 134.65,118.20" fill="#8c9440"/>
<polygon points="145.40,119.96 143.55,123.31 147.25,123.31" fill="#8c9440"/>
<polygon points="158.00,104.30 156.15,107.65 159.85,107.65" fill="#8c9440"/>
<polygon points="170.60,72.98 168.75,76.33 172.45,76.33" fill="#8c9440"/>
<polygon points="183.20,83.19 181.35,86.54 185.05,86.54" fill="#8c9440"/>
<polygon points="195.80,51.19 193.95,54.54 197.65,54.54" fill="#8c9440"/>
<polygon points="208.40,98.51 206.55,101.86 210.25,101.86" fill="#8c9440"/>
<polygon points="221.00,115.02 219.15,118.37 222.85,118.37" fill="#8c9440"/>
<polygon points="233.60,108.04 231.75,111.39 235.45,111.39" fill="#8c9440"/>
<polygon points="246.20,107.02 244.35,110.37 248.05,110.37" fill="#8c9440"/>
<polygon points="258.80,61.07 256.95,64.42 260.65,64.42" fill="#8c9440"/>
<polygon points="271.40,63.45 269.55,66.80 273.25,66.80" fill="#8c9440"/>
<polygon points="284.00,90.00 282.15,93.35 285.85,93.35" fill="#8c9440"/>
<polygon points="296.60,32.13 294.75,35.48 298.45,35.48" fill="#8c9440"/>
<polygon points="309.20,73.66 307.35,77.01 311.05,77.01" fill="#8c9440"/>
<polygon points="321.80,29.92 319.95,33.27 323.65,33.27" fill="#8c9440"/>
<polygon points="334.40,30.43 332.55,33.78 336.25,33.78" fill="#8c9440"/>
<polygon points="347.00,21.92 345.15,25.27 348.85,25.27" fill="#8c9440"/>
<polygon points="359.60,90.00 357.75,93.35 361.45,93.35" fill="#8c9440"/>
<polygon points="372.20,39.62 370.35,42.97 374.05,42.97" fill="#8c9440"/>
<polygon points="384.80,75.53 382.95,78.88 386.65,78.88" fill="#8c9440"/>
<polygon points="397.40,26.18 395.55,29.53 399.25,29.53" fill="#8c9440"/>
<polygon points="410.00,79.96 408.15,83.31 411.85,83.31" fill="#8c9440"/>
<polygon points="422.60,30.43 420.75,33.78 424.45,33.78" fill="#8c9440"/>
<polygon points="435.20,64.47 433.35,67.82 437.05,67.82" fill="#8c9440"/>
<polygon points="447.80,96.81 445.95,100.16 449.65,100.16" fill="#8c9440"/>
<polygon points="460.40,57.15 458.55,60.50 462.25,60.50" fill="#8c9440"/>
<polygon points="473.00,56.64 471.15,59.99 474.85,59.99" fill="#8c9440"/>
<polygon points="485.60,21.92 483.75,25.27 487.45,25.27" fill="#8c9440"/>
<polygon points="498.20,41.66 496.35,45.01 500.05,45.01" fill="#8c9440"/>
<polygon points="510.80,30.43 508.95,33.78 512.65,33.78" fill="#8c9440"/>
<polygon points="523.40,40.98 521.55,44.33 525.25,44.33" fill="#8c9440"/>
<polygon points="536.00,68.04 534.15,71.39 537.85,71.39" fill="#8c9440"/>
<polygon points="548.60,107.02 546.75,110.37 550.45,110.37" fill="#8c9440"/>
<polygon points="561.20,103.62 559.35,106.97 563.05,106.97" fill="#8c9440"/>
<polygon points="573.80,18.52 571.95,21.87 575.65,21.87" fill="#8c9440"/>
<polygon points="586.40,35.54 584.55,38.89 588.25,38.89" fill="#8c9440"/>
<polygon points="599.00,21.92 597.15,25.27 600.85,25.27" fill="#8c9440"/>
<polygon points="611.60,44.05 609.75,47.40 613.45,47.40" fill="#8c9440"/>
<polygon points="624.20,76.38 622.35,79.73 626.05,79.73" fill="#8c9440"/>
<polygon points="636.80,28.73 634.95,32.08 638.65,32.08" fill="#8c9440"/>
<circle cx="32.00" cy="78.28" r="1.40" fill="#1010e0"/>
<circle cx="44.60" cy="146.36" r="1.40" fill="#1010e0"/>
<circle cx="57.20" cy="151.47" r="1.40" fill="#1010e0"/>
<circle cx="69.80" cy="150.79" r="1.40" fill="#1010e0"/>
<circle cx="82.40" cy="116.41" r="1.40" fill="#1010e0"/>
<circle cx="95.00" cy="83.39" r="1.40" fill="#1010e0"/>
<circle cx="107.60" cy="82.37" r="1.40" fill="#1010e0"/>
<circle cx="120.20" cy="62.29" r="1.40" fill="#1010e0"/>
<circle cx="132.80" cy="133.77" r="1.40" fill="#1010e0"/>
<circle cx="145.40" cy="115.73" r="1.40" fill="#1010e0"/>
<circle cx="158.00" cy="117.43" r="1.40" fill="#1010e0"/>
<circle cx="170.60" cy="74.88" r="1.40" fill="#1010e0"/>
<circle cx="183.20" cy="107.39" r="1.40" fill="#1010e0"/>
<circle cx="195.80" cy="66.88" r="1.40" fill="#1010e0"/>
<circle cx="208.40" cy="121.86" r="1.40" fill="#1010e0"/>
<circle cx="221.00" cy="121.51" r="1.40" fill="#1010e0"/>
<circle cx="233.60" cy="125.94" r="1.40" fill="#1010e0"/>
<circle cx="246.20" cy="78.28" r="1.40" fill="#1010e0"/>
<circle cx="258.80" cy="57.86" r="1.40" fill="#1010e0"/>
<circle cx="271.40" cy="71.14" r="1.40" fill="#1010e0"/>
<circle cx="284.00" cy="103.81" r="1.40" fill="#1010e0"/>
<circle cx="296.60" cy="39.82" r="1.40" fill="#1010e0"/>
<circle cx="309.20" cy="89.86" r="1.40" fill="#1010e0"/>
<circle cx="321.80" cy="39.14" r="1.40" fill="#1010e0"/>
<circle cx="334.40" cy="27.22" r="1.40" fill="#1010e0"/>
<circle cx="347.00" cy="23.82" r="1.40" fill="#1010e0"/>
<circle cx="359.60" cy="91.90" r="1.40" fill="#1010e0"/>
<circle cx="372.20" cy="53.61" r="1.40" fill="#1010e0"/>
<circle cx="384.80" cy="85.43" r="1.40" fill="#1010e0"/>
<circle cx="397.40" cy="41.52" r="1.40" fill="#1010e0"/>
<circle cx="410.00" cy="56.16" r="1.40" fill="#1010e0"/>
<circle cx="422.60" cy="29.78" r="1.40" fill="#1010e0"/>
<circle cx="435.20" cy="53.09" r="1.40" fill="#1010e0"/>
<circle cx="447.80" cy="91.90" r="1.40" fill="#1010e0"/>
<circle cx="460.40" cy="72.33" r="1.40" fill="#1010e0"/>
<circle cx="473.00" cy="65.35" r="1.40" fill="#1010e0"/>
<circle cx="485.60" cy="23.82" r="1.40" fill="#1010e0"/>
<circle cx="498.20" cy="49.35" r="1.40" fill="#1010e0"/>
<circle cx="510.80" cy="32.33" r="1.40" fill="#1010e0"/>
<circle cx="523.40" cy="28.59" r="1.40" fill="#1010e0"/>
<circle cx="536.00" cy="64.33" r="1.40" fill="#1010e0"/>
<circle cx="548.60" cy="93.60" r="1.40" fill="#1010e0"/>
<circle cx="561.20" cy="108.92" r="1.40" fill="#1010e0"/>
<circle cx="573.80" cy="18.71" r="1.40" fill="#1010e0"/>
<circle cx="586.40" cy="34.03" r="1.40" fill="#1010e0"/>
<circle cx="599.00" cy="19.74" r="1.40" fill="#1010e0"/>
<circle cx="611.60" cy="44.24" r="1.40" fill="#1010e0"/>
<circle cx="624.20" cy="64.33" r="1.40" fill="#1010e0"/>
<circle cx="636.80" cy="24.84" r="1.40" fill="#1010e0"/>
<polygon points="32.00,58.06 30.15,54.71 33.85,54.71" fill="#e6b02a"/>
<polygon points="44.60,112.52 42.75,109.17 46.45,109.17" fill="#e6b02a"/>
<polygon points="57.20,102.31 55.35,98.96 59.05,98.96" fill="#e6b02a"/>
<polygon points="69.80,165.28 67.95,161.93 71.65,161.93" fill="#e6b02a"/>
<polygon points="82.40,75.08 80.55,71.73 84.25,71.73" fill="#e6b02a"/>
<polygon points="95.00,80.86 93.15,77.51 96.85,77.51" fill="#e6b02a"/>
<polygon points="107.60,97.54 105.75,94.19 109.45,94.19" fill="#e6b02a"/>
<polygon points="120.20,59.76 118.35,56.41 122.05,56.41" fill="#e6b02a"/>
<polygon points="132.80,153.37 130.95,150.02 134.65,150.02" fill="#e6b02a"/>
<polygon points="145.40,81.04 143.55,77.69 147.25,77.69" fill="#e6b02a"/>
<polygon points="158.00,79.33 156.15,75.98 159.85,75.98" fill="#e6b02a"/>
<polygon points="170.60,67.25 168.75,63.90 172.45,63.90" fill="#e6b02a"/>
<polygon points="183.20,80.18 181.35,76.83 185.05,76.83" fill="#e6b02a"/>
<polygon points="195.80,58.74 193.95,55.39 197.65,55.39" fill="#e6b02a"/>
<polygon points="208.40,101.12 206.55,97.77 210.25,97.77" fill="#e6b02a"/>
<polygon points="221.00,138.56 219.15,135.21 222.85,135.21" fill="#e6b02a"/>
<polygon points="233.60,127.84 231.75,124.49 235.45,124.49" fill="#e6b02a"/>
<polygon points="246.20,102.31 244.35,98.96 248.05,98.96" fill="#e6b02a"/>
<polygon points="258.80,98.06 256.95,94.71 260.65,94.71" fill="#e6b02a"/>
<polygon points="271.40,131.92 269.55,128.57 273.25,128.57" fill="#e6b02a"/>
<polygon points="284.00,70.48 282.15,67.13 285.85,67.13" fill="#e6b02a"/>
<polygon points="296.60,42.74 294.75,39.39 298.45,39.39" fill="#e6b02a"/>
<polygon points="309.20,86.31 307.35,82.96 311.05,82.96" fill="#e6b02a"/>
<polygon points="321.80,69.80 319.95,66.45 323.65,66.45" fill="#e6b02a"/>
<polygon points="334.40,37.97 332.55,34.62 336.25,34.62" fill="#e6b02a"/>
<polygon points="347.00,29.12 345.15,25.77 348.85,25.77" fill="#e6b02a"/>
<polygon points="359.60,110.14 357.75,106.79 361.45,106.79" fill="#e6b02a"/>
<polygon points="372.20,59.76 370.35,56.41 374.05,56.41" fill="#e6b02a"/>
<polygon points="384.80,60.44 382.95,57.09 386.65,57.09" fill="#e6b02a"/>
<polygon points="397.40,58.74 395.55,55.39 399.25,55.39" fill="#e6b02a"/>
<polygon points="410.00,68.27 408.15,64.92 411.85,64.92" fill="#e6b02a"/>
<polygon points="422.60,42.91 420.75,39.56 424.45,39.56" fill="#e6b02a"/>
<polygon points="435.20,131.92 433.35,128.57 437.05,128.57" fill="#e6b02a"/>
<polygon points="447.80,76.27 445.95,72.92 449.65,72.92" fill="#e6b02a"/>
<polygon points="460.40,110.14 458.55,106.79 462.25,106.79" fill="#e6b02a"/>
<polygon points="473.00,73.72 471.15,70.37 474.85,70.37" fill="#e6b02a"/>
<polygon points="485.60,29.12 483.75,25.77 487.45,25.77" fill="#e6b02a"/>
<polygon points="498.20,46.82 496.35,43.47 500.05,43.47" fill="#e6b02a"/>
<polygon points="510.80,59.25 508.95,55.90 512.65,55.90" fill="#e6b02a"/>
<polygon points="523.40,39.34 521.55,35.99 525.25,35.99" fill="#e6b02a"/>
<polygon points="536.00,132.27 534.15,128.92 537.85,128.92" fill="#e6b02a"/>
<polygon points="548.60,119.33 546.75,115.98 550.45,115.98" fill="#e6b02a"/>
<polygon points="561.20,114.22 559.35,110.87 563.05,110.87" fill="#e6b02a"/>
<polygon points="573.80,25.72 571.95,22.37 575.65,22.37" fill="#e6b02a"/>
<polygon points="586.40,34.74 584.55,31.39 588.25,31.39" fill="#e6b02a"/>
<polygon points="599.00,40.02 597.15,36.67 600.85,36.67" fill="#e6b02a"/>
<polygon points="611.60,46.14 609.75,42.79 613.45,42.79" fill="#e6b02a"/>
<polygon points="624.20,84.44 622.35,81.09 626.05,81.09" fill="#e6b02a"/>
<polygon points="636.80,29.12 634.95,25.77 638.65,25.77" fill="#e6b02a"/>
<polygon points="33.90,74.88 30.55,73.03 30.55,76.73" fill="#ff20ff"/>
<polygon points="46.50,137.85 43.15,136.00 43.15,139.70" fill="#ff20ff"/>
<polygon points="59.10,119.13 55.75,117.28 55.75,120.98" fill="#ff20ff"/>
<polygon points="71.70,165.09 68.35,163.24 68.35,166.94" fill="#ff20ff"/>
<polygon points="84.30,114.03 80.95,112.18 80.95,115.88" fill="#ff20ff"/>
<polygon points="96.90,91.90 93.55,90.05 93.55,93.75" fill="#ff20ff"/>
<polygon points="109.50,78.28 106.15,76.43 106.15,80.13" fill="#ff20ff"/>
<polygon points="122.10,54.46 118.75,52.61 118.75,56.31" fill="#ff20ff"/>
<polygon points="134.70,136.15 131.35,134.30 131.35,138.00" fill="#ff20ff"/>
<polygon points="147.30,119.13 143.95,117.28 143.95,120.98" fill="#ff20ff"/>
<polygon points="159.90,116.92 156.55,115.07 156.55,118.77" fill="#ff20ff"/>
<polygon points="172.50,87.82 169.15,85.97 169.15,89.67" fill="#ff20ff"/>
<polygon points="185.10,122.54 181.75,120.69 181.75,124.39" fill="#ff20ff"/>
<polygon points="197.70,83.90 194.35,82.05 194.35,85.75" fill="#ff20ff"/>
<polygon points="210.30,123.39 206.95,121.54 206.95,125.24" fill="#ff20ff"/>
<polygon points="222.90,134.45 219.55,132.60 219.55,136.30" fill="#ff20ff"/>
<polygon points="235.50,125.94 232.15,124.09 232.15,127.79" fill="#ff20ff"/>
<polygon points="248.10,91.73 244.75,89.88 244.75,93.58" fill="#ff20ff"/>
<polygon points="260.70,89.35 257.35,87.50 257.35,91.20" fill="#ff20ff"/>
<polygon points="273.30,84.07 269.95,82.22 269.95,85.92" fill="#ff20ff"/>
<polygon points="285.90,134.28 282.55,132.43 282.55,136.13" fill="#ff20ff"/>
<polygon points="298.50,31.82 295.15,29.97 295.15,33.67" fill="#ff20ff"/>
<polygon points="311.10,103.47 307.75,101.62 307.75,105.32" fill="#ff20ff"/>
<polygon points="323.70,44.24 320.35,42.39 320.35,46.09" fill="#ff20ff"/>
<polygon points="336.30,24.84 332.95,22.99 332.95,26.69" fill="#ff20ff"/>
<polygon points="348.90,20.42 345.55,18.57 345.55,22.27" fill="#ff20ff"/>
<polygon points="361.50,93.09 358.15,91.24 358.15,94.94" fill="#ff20ff"/>
<polygon points="374.10,49.35 370.75,47.50 370.75,51.20" fill="#ff20ff"/>
<polygon points="386.70,92.92 383.35,91.07 383.35,94.77" fill="#ff20ff"/>
<polygon points="399.30,36.76 395.95,34.91 395.95,38.61" fill="#ff20ff"/>
<polygon points="411.90,74.88 408.55,73.03 408.55,76.73" fill="#ff20ff"/>
<polygon points="424.50,36.59 421.15,34.74 421.15,38.44" fill="#ff20ff"/>
<polygon points="437.10,72.33 433.75,70.48 433.75,74.18" fill="#ff20ff"/>
<polygon points="449.70,97.01 446.35,95.16 446.35,98.86" fill="#ff20ff"/>
<polygon points="462.30,61.94 458.95,60.09 458.95,63.79" fill="#ff20ff"/>
<polygon points="474.90,49.18 471.55,47.33 471.55,51.03" fill="#ff20ff"/>
<polygon points="487.50,23.82 484.15,21.97 484.15,25.67" fill="#ff20ff"/>
<polygon points="500.10,56.16 496.75,54.31 496.75,58.01" fill="#ff20ff"/>
<polygon points="512.70,48.67 509.35,46.82 509.35,50.52" fill="#ff20ff"/>
<polygon points="525.30,38.12 521.95,36.27 521.95,39.97" fill="#ff20ff"/>
<polygon points="537.90,77.94 534.55,76.09 534.55,79.79" fill="#ff20ff"/>
<polygon points="550.50,112.32 547.15,110.47 547.15,114.17" fill="#ff20ff"/>
<polygon points="563.10,56.67 559.75,54.82 559.75,58.52" fill="#ff20ff"/>
<polygon points="575.70,20.42 572.35,18.57 572.35,22.27" fill="#ff20ff"/>
<polygon points="588.30,38.12 584.95,36.27 584.95,39.97" fill="#ff20ff"/>
<polygon points="600.90,25.52 597.55,23.67 597.55,27.37" fill="#ff20ff"/>
<polygon points="613.50,45.95 610.15,44.10 610.15,47.80" fill="#ff20ff"/>
<polygon points="626.10,80.33 622.75,78.48 622.75,82.18" fill="#ff20ff"/>
<polygon points="638.70,28.93 635.35,27.08 635.35,30.78" fill="#ff20ff"/>
<polygon points="30.10,66.37 33.45,64.52 33.45,68.22" fill="#000"/>
<polygon points="42.70,159.98 46.05,158.13 46.05,161.83" fill="#000"/>
<polygon points="55.30,132.75 58.65,130.90 58.65,134.60" fill="#000"/>
<polygon points="67.90,174.11 71.25,172.26 71.25,175.96" fill="#000"/>
<polygon points="80.50,119.13 83.85,117.28 83.85,120.98" fill="#000"/>
<polygon points="93.10,83.39 96.45,81.54 96.45,85.24" fill="#000"/>
<polygon points="105.70,86.96 109.05,85.11 109.05,88.81" fill="#000"/>
<polygon points="118.30,44.24 121.65,42.39 121.65,46.09" fill="#000"/>
<polygon points="130.90,121.86 134.25,120.01 134.25,123.71" fill="#000"/>
<polygon points="143.50,134.45 146.85,132.60 146.85,136.30" fill="#000"/>
<polygon points="156.10,147.39 159.45,145.54 159.45,149.24" fill="#000"/>
<polygon points="168.70,77.43 172.05,75.58 172.05,79.28" fill="#000"/>
<polygon points="181.30,152.49 184.65,150.64 184.65,154.34" fill="#000"/>
<polygon points="193.90,47.82 197.25,45.97 197.25,49.67" fill="#000"/>
<polygon points="206.50,127.64 209.85,125.79 209.85,129.49" fill="#000"/>
<polygon points="219.10,145.00 222.45,143.15 222.45,146.85" fill="#000"/>
<polygon points="231.70,140.41 235.05,138.56 235.05,142.26" fill="#000"/>
<polygon points="244.30,132.41 247.65,130.56 247.65,134.26" fill="#000"/>
<polygon points="256.90,111.98 260.25,110.13 260.25,113.83" fill="#000"/>
<polygon points="269.50,104.49 272.85,102.64 272.85,106.34" fill="#000"/>
<polygon points="282.10,139.22 285.45,137.37 285.45,141.07" fill="#000"/>
<polygon points="294.70,44.92 298.05,43.07 298.05,46.77" fill="#000"/>
<polygon points="307.30,124.41 310.65,122.56 310.65,126.26" fill="#000"/>
<polygon points="319.90,24.33 323.25,22.48 323.25,26.18" fill="#000"/>
<polygon points="332.50,28.08 335.85,26.23 335.85,29.93" fill="#000"/>
<polygon points="345.10,24.84 348.45,22.99 348.45,26.69" fill="#000"/>
<polygon points="357.70,95.64 361.05,93.79 361.05,97.49" fill="#000"/>
<polygon points="370.30,58.54 373.65,56.69 373.65,60.39" fill="#000"/>
<polygon points="382.90,108.24 386.25,106.39 386.25,110.09" fill="#000"/>
<polygon points="395.50,26.03 398.85,24.18 398.85,27.88" fill="#000"/>
<polygon points="408.10,88.16 411.45,86.31 411.45,90.01" fill="#000"/>
<polygon points="420.70,26.03 424.05,24.18 424.05,27.88" fill="#000"/>
<polygon points="433.30,76.92 436.65,75.07 436.65,78.77" fill="#000"/>
<polygon points="445.90,75.56 449.25,73.71 449.25,77.41" fill="#000"/>
<polygon points="458.50,81.69 461.85,79.84 461.85,83.54" fill="#000"/>
<polygon points="471.10,54.46 474.45,52.61 474.45,56.31" fill="#000"/>
<polygon points="483.70,19.74 487.05,17.89 487.05,21.59" fill="#000"/>
<polygon points="496.30,69.43 499.65,67.58 499.65,71.28" fill="#000"/>
<polygon points="508.90,34.03 512.25,32.18 512.25,35.88" fill="#000"/>
<polygon points="521.50,35.73 524.85,33.88 524.85,37.58" fill="#000"/>
<polygon points="534.10,84.41 537.45,82.56 537.45,86.26" fill="#000"/>
<polygon points="546.70,125.94 550.05,124.09 550.05,127.79" fill="#000"/>
<polygon points="559.30,81.69 562.65,79.84 562.65,83.54" fill="#000"/>
<polygon points="571.90,14.29 575.25,12.44 575.25,16.14" fill="#000"/>
<polygon points="584.50,35.73 587.85,33.88 587.85,37.58" fill="#000"/>
<polygon points="597.10,15.31 600.45,13.46 600.45,17.16" fill="#000"/>
<polygon points="609.70,48.67 613.05,46.82 613.05,50.52" fill="#000"/>
<polygon points="622.30,70.62 625.65,68.78 625.65,72.47" fill="#000"/>
<polygon points="634.90,29.27 638.25,27.42 638.25,31.12" fill="#000"/>
<polygon points="32.00,71.18 33.50,73.18 32.00,75.18 30.50,73.18" fill="#7a2e8c"/>
<polygon points="44.60,141.81 46.10,143.81 44.60,145.81 43.10,143.81" fill="#7a2e8c"/>
<polygon points="57.20,110.32 58.70,112.32 57.20,114.32 55.70,112.32" fill="#7a2e8c"/>
<polygon points="69.80,156.96 71.30,158.96 69.80,160.96 68.30,158.96" fill="#7a2e8c"/>
<polygon points="82.40,105.22 83.90,107.22 82.40,109.22 80.90,107.22" fill="#7a2e8c"/>
<polygon points="95.00,93.30 96.50,95.30 95.00,97.30 93.50,95.30" fill="#7a2e8c"/>
<polygon points="107.60,60.97 109.10,62.97 107.60,64.97 106.10,62.97" fill="#7a2e8c"/>
<polygon points="120.20,51.09 121.70,53.09 120.20,55.09 118.70,53.09" fill="#7a2e8c"/>
<polygon points="132.80,147.77 134.30,149.77 132.80,151.77 131.30,149.77" fill="#7a2e8c"/>
<polygon points="145.40,138.41 146.90,140.41 145.40,142.41 143.90,140.41" fill="#7a2e8c"/>
<polygon points="158.00,119.69 159.50,121.69 158.00,123.69 156.50,121.69" fill="#7a2e8c"/>
<polygon points="170.60,80.88 172.10,82.88 170.60,84.88 169.10,82.88" fill="#7a2e8c"/>
<polygon points="183.20,107.43 184.70,109.43 183.20,111.43 181.70,109.43" fill="#7a2e8c"/>
<polygon points="195.80,64.88 197.30,66.88 195.80,68.88 194.30,66.88" fill="#7a2e8c"/>
<polygon points="208.40,95.01 209.90,97.01 208.40,99.01 206.90,97.01" fill="#7a2e8c"/>
<polygon points="221.00,137.90 222.50,139.90 221.00,141.90 219.50,139.90" fill="#7a2e8c"/>
<polygon points="233.60,133.47 235.10,135.47 233.60,137.47 232.10,135.47" fill="#7a2e8c"/>
<polygon points="246.20,86.16 247.70,88.16 246.20,90.16 244.70,88.16" fill="#7a2e8c"/>
<polygon points="258.80,70.33 260.30,72.33 258.80,74.33 257.30,72.33" fill="#7a2e8c"/>
<polygon points="271.40,92.45 272.90,94.45 271.40,96.45 269.90,94.45" fill="#7a2e8c"/>
<polygon points="284.00,114.75 285.50,116.75 284.00,118.75 282.50,116.75" fill="#7a2e8c"/>
<polygon points="296.60,50.92 298.10,52.92 296.60,54.92 295.10,52.92" fill="#7a2e8c"/>
<polygon points="309.20,105.39 310.70,107.39 309.20,109.39 307.70,107.39" fill="#7a2e8c"/>
<polygon points="321.80,50.92 323.30,52.92 321.80,54.92 320.30,52.92" fill="#7a2e8c"/>
<polygon points="334.40,36.63 335.90,38.63 334.40,40.63 332.90,38.63" fill="#7a2e8c"/>
<polygon points="347.00,20.80 348.50,22.80 347.00,24.80 345.50,22.80" fill="#7a2e8c"/>
<polygon points="359.60,83.09 361.10,85.09 359.60,87.09 358.10,85.09" fill="#7a2e8c"/>
<polygon points="372.20,50.41 373.70,52.41 372.20,54.41 370.70,52.41" fill="#7a2e8c"/>
<polygon points="384.80,95.18 386.30,97.18 384.80,99.18 383.30,97.18" fill="#7a2e8c"/>
<polygon points="397.40,33.73 398.90,35.73 397.40,37.73 395.90,35.73" fill="#7a2e8c"/>
<polygon points="410.00,68.45 411.50,70.45 410.00,72.45 408.50,70.45" fill="#7a2e8c"/>
<polygon points="422.60,30.33 424.10,32.33 422.60,34.33 421.10,32.33" fill="#7a2e8c"/>
<polygon points="435.20,65.90 436.70,67.90 435.20,69.90 433.70,67.90" fill="#7a2e8c"/>
<polygon points="447.80,107.94 449.30,109.94 447.80,111.94 446.30,109.94" fill="#7a2e8c"/>
<polygon points="460.40,65.39 461.90,67.39 460.40,69.39 458.90,67.39" fill="#7a2e8c"/>
<polygon points="473.00,58.92 474.50,60.92 473.00,62.92 471.50,60.92" fill="#7a2e8c"/>
<polygon points="485.60,27.78 487.10,29.78 485.60,31.78 484.10,29.78" fill="#7a2e8c"/>
<polygon points="498.20,55.35 499.70,57.35 498.20,59.35 496.70,57.35" fill="#7a2e8c"/>
<polygon points="510.80,24.88 512.30,26.88 510.80,28.88 509.30,26.88" fill="#7a2e8c"/>
<polygon points="523.40,33.39 524.90,35.39 523.40,37.39 521.90,35.39" fill="#7a2e8c"/>
<polygon points="536.00,77.99 537.50,79.99 536.00,81.99 534.50,79.99" fill="#7a2e8c"/>
<polygon points="548.60,113.73 550.10,115.73 548.60,117.73 547.10,115.73" fill="#7a2e8c"/>
<polygon points="561.20,95.35 562.70,97.35 561.20,99.35 559.70,97.35" fill="#7a2e8c"/>
<polygon points="573.80,15.86 575.30,17.86 573.80,19.86 572.30,17.86" fill="#7a2e8c"/>
<polygon points="586.40,23.52 587.90,25.52 586.40,27.52 584.90,25.52" fill="#7a2e8c"/>
<polygon points="599.00,20.12 600.50,22.12 599.00,24.12 597.50,22.12" fill="#7a2e8c"/>
<polygon points="611.60,40.54 613.10,42.54 611.60,44.54 610.10,42.54" fill="#7a2e8c"/>
<polygon points="624.20,55.86 625.70,57.86 624.20,59.86 622.70,57.86" fill="#7a2e8c"/>
<polygon points="636.80,29.82 638.30,31.82 636.80,33.82 635.30,31.82" fill="#7a2e8c"/>
</g>
<text x="29.0" y="179.90" font-size="8.2" fill="#2a2a2a" text-anchor="end">0</text>
<text x="29.0" y="162.88" font-size="8.2" fill="#2a2a2a" text-anchor="end">10</text>
<text x="29.0" y="145.86" font-size="8.2" fill="#2a2a2a" text-anchor="end">20</text>
<text x="29.0" y="128.84" font-size="8.2" fill="#2a2a2a" text-anchor="end">30</text>
<text x="29.0" y="111.82" font-size="8.2" fill="#2a2a2a" text-anchor="end">40</text>
<text x="29.0" y="94.80" font-size="8.2" fill="#2a2a2a" text-anchor="end">50</text>
<text x="29.0" y="77.78" font-size="8.2" fill="#2a2a2a" text-anchor="end">60</text>
<text x="29.0" y="60.76" font-size="8.2" fill="#2a2a2a" text-anchor="end">70</text>
<text x="29.0" y="43.74" font-size="8.2" fill="#2a2a2a" text-anchor="end">80</text>
<text x="29.0" y="26.72" font-size="8.2" fill="#2a2a2a" text-anchor="end">90</text>
<text x="29.0" y="9.70" font-size="8.2" fill="#2a2a2a" text-anchor="end">100</text>
<text transform="translate(34.90,180) rotate(-90)" font-size="8.2" fill="#2a2a2a" text-anchor="end">1</text>
<text transform="translate(47.50,180) rotate(-90)" font-size="8.2" fill="#2a2a2a" text-anchor="end">4</text>
<text transform="translate(60.10,180) rotate(-90)" font-size="8.2" fill="#2a2a2a" text-anchor="end">7</text>
<text transform="translate(72.70,180) rotate(-90)" font-size="8.2" fill="#2a2a2a" text-anchor="end">9</text>
<text transform="translate(85.30,180) rotate(-90)" font-size="8.2" fill="#2a2a2a" text-anchor="end">10</text>
<text transform="translate(97.90,180) rotate(-90)" font-size="8.2" fill="#2a2a2a" text-anchor="end">11</text>
<text transform="translate(110.50,180) rotate(-90)" font-size="8.2" fill="#2a2a2a" text-anchor="end">12</text>
<text transform="translate(123.10,180) rotate(-90)" font-size="8.2" fill="#2a2a2a" text-anchor="end">14</text>
<text transform="translate(135.70,180) rotate(-90)" font-size="8.2" fill="#2a2a2a" text-anchor="end">19</text>
<text transform="translate(148.30,180) rotate(-90)" font-size="8.2" fill="#2a2a2a" text-anchor="end">25</text>
<text transform="translate(160.90,180) rotate(-90)" font-size="8.2" fill="#2a2a2a" text-anchor="end">29</text>
<text transform="translate(173.50,180) rotate(-90)" font-size="8.2" fill="#2a2a2a" text-anchor="end">38</text>
<text transform="translate(186.10,180) rotate(-90)" font-size="8.2" fill="#2a2a2a" text-anchor="end">44</text>
<text transform="translate(198.70,180) rotate(-90)" font-size="8.2" fill="#2a2a2a" text-anchor="end">55</text>
<text transform="translate(211.30,180) rotate(-90)" font-size="8.2" fill="#2a2a2a" text-anchor="end">57</text>
<text transform="translate(223.90,180) rotate(-90)" font-size="8.2" fill="#2a2a2a" text-anchor="end">61</text>
<text transform="translate(236.50,180) rotate(-90)" font-size="8.2" fill="#2a2a2a" text-anchor="end">64</text>
<text transform="translate(249.10,180) rotate(-90)" font-size="8.2" fill="#2a2a2a" text-anchor="end">70</text>
<text transform="translate(261.70,180) rotate(-90)" font-size="8.2" fill="#2a2a2a" text-anchor="end">74</text>
<text transform="translate(274.30,180) rotate(-90)" font-size="8.2" fill="#2a2a2a" text-anchor="end">82</text>
<text transform="translate(286.90,180) rotate(-90)" font-size="8.2" fill="#2a2a2a" text-anchor="end">88</text>
<text transform="translate(299.50,180) rotate(-90)" font-size="8.2" fill="#2a2a2a" text-anchor="end">107</text>
<text transform="translate(312.10,180) rotate(-90)" font-size="8.2" fill="#2a2a2a" text-anchor="end">115</text>
<text transform="translate(324.70,180) rotate(-90)" font-size="8.2" fill="#2a2a2a" text-anchor="end">123</text>
<text transform="translate(337.30,180) rotate(-90)" font-size="8.2" fill="#2a2a2a" text-anchor="end">127</text>
<text transform="translate(349.90,180) rotate(-90)" font-size="8.2" fill="#2a2a2a" text-anchor="end">139</text>
<text transform="translate(362.50,180) rotate(-90)" font-size="8.2" fill="#2a2a2a" text-anchor="end">141</text>
<text transform="translate(375.10,180) rotate(-90)" font-size="8.2" fill="#2a2a2a" text-anchor="end">146</text>
<text transform="translate(387.70,180) rotate(-90)" font-size="8.2" fill="#2a2a2a" text-anchor="end">148</text>
<text transform="translate(400.30,180) rotate(-90)" font-size="8.2" fill="#2a2a2a" text-anchor="end">156</text>
<text transform="translate(412.90,180) rotate(-90)" font-size="8.2" fill="#2a2a2a" text-anchor="end">160</text>
<text transform="translate(425.50,180) rotate(-90)" font-size="8.2" fill="#2a2a2a" text-anchor="end">166</text>
<text transform="translate(438.10,180) rotate(-90)" font-size="8.2" fill="#2a2a2a" text-anchor="end">173</text>
<text transform="translate(450.70,180) rotate(-90)" font-size="8.2" fill="#2a2a2a" text-anchor="end">176</text>
<text transform="translate(463.30,180) rotate(-90)" font-size="8.2" fill="#2a2a2a" text-anchor="end">186</text>
<text transform="translate(475.90,180) rotate(-90)" font-size="8.2" fill="#2a2a2a" text-anchor="end">187</text>
<text transform="translate(488.50,180) rotate(-90)" font-size="8.2" fill="#2a2a2a" text-anchor="end">189</text>
<text transform="translate(501.10,180) rotate(-90)" font-size="8.2" fill="#2a2a2a" text-anchor="end">191</text>
<text transform="translate(513.70,180) rotate(-90)" font-size="8.2" fill="#2a2a2a" text-anchor="end">193</text>
<text transform="translate(526.30,180) rotate(-90)" font-size="8.2" fill="#2a2a2a" text-anchor="end">194</text>
<text transform="translate(538.90,180) rotate(-90)" font-size="8.2" fill="#2a2a2a" text-anchor="end">198</text>
<text transform="translate(551.50,180) rotate(-90)" font-size="8.2" fill="#2a2a2a" text-anchor="end">205</text>
<text transform="translate(564.10,180) rotate(-90)" font-size="8.2" fill="#2a2a2a" text-anchor="end">216</text>
<text transform="translate(576.70,180) rotate(-90)" font-size="8.2" fill="#2a2a2a" text-anchor="end">221</text>
<text transform="translate(589.30,180) rotate(-90)" font-size="8.2" fill="#2a2a2a" text-anchor="end">223</text>
<text transform="translate(601.90,180) rotate(-90)" font-size="8.2" fill="#2a2a2a" text-anchor="end">225</text>
<text transform="translate(614.50,180) rotate(-90)" font-size="8.2" fill="#2a2a2a" text-anchor="end">227</text>
<text transform="translate(627.10,180) rotate(-90)" font-size="8.2" fill="#2a2a2a" text-anchor="end">229</text>
<text transform="translate(639.70,180) rotate(-90)" font-size="8.2" fill="#2a2a2a" text-anchor="end">230</text>
<text transform="translate(13.2,92) rotate(-90)" font-size="8.8" font-weight="bold" fill="#1a1a1a" text-anchor="middle">Accuracy (%)</text>
<text x="334.4" y="201.6" font-size="8.6" font-weight="bold" fill="#1a1a1a" text-anchor="middle">Space Groups (SG)</text>
<rect x="38.2" y="14.8" width="80.6" height="15.3" fill="#fff" stroke="#111" stroke-width="1"/>
<text x="78.6" y="26.400000000000002" font-size="11.5" font-weight="bold" fill="#000" text-anchor="middle">49 SG Dataset</text>
<rect x="537.7" y="104" width="94.6" height="68" fill="#fff" stroke="#cfcfcf" stroke-width="0.7"/>
<path d="M539.2 109.2H553.7" stroke="#e0402a" stroke-width="1.3" stroke-dasharray="3 2"/>
<path d="M547.49 109.32L550.56 109.78M547.27 109.76L549.48 111.94M546.83 109.99L547.34 113.05M546.34 109.92L544.95 112.69M545.99 109.57L543.24 111.00M545.91 109.08L542.84 108.62M546.13 108.64L543.92 106.46M546.57 108.41L546.06 105.35M547.06 108.48L548.45 105.71M547.41 108.83L550.16 107.40" stroke="#ee3a2a" stroke-width="0.95" stroke-opacity="0.85"/><circle cx="546.70" cy="109.20" r="1.80" fill="#ee1010"/>
<text x="556.7" y="111.9" font-size="7.6" fill="#262626" textLength="65.3" lengthAdjust="spacingAndGlyphs">Shaped DPs+MSDN</text>
<path d="M539.2 117.3H553.7" stroke="#70a070" stroke-width="0.5" stroke-opacity="0.6"/>
<circle cx="546.70" cy="117.30" r="1.40" fill="#35e035"/>
<text x="556.7" y="120.0" font-size="7.6" fill="#262626" textLength="70.5" lengthAdjust="spacingAndGlyphs">Shaped DPs+MSVGG</text>
<path d="M539.2 125.5H553.7" stroke="#808060" stroke-width="0.5" stroke-opacity="0.6"/>
<polygon points="546.70,123.60 544.85,126.95 548.55,126.95" fill="#8c9440"/>
<text x="556.7" y="128.2" font-size="7.6" fill="#262626" textLength="73.9" lengthAdjust="spacingAndGlyphs">Spot DPs+Ziletti et al.</text>
<path d="M539.2 134.0H553.7" stroke="#606090" stroke-width="0.5" stroke-opacity="0.6"/>
<circle cx="546.70" cy="134.00" r="1.40" fill="#1010e0"/>
<text x="556.7" y="136.7" font-size="7.6" fill="#262626" textLength="61.9" lengthAdjust="spacingAndGlyphs">Spot DPs+AlexNet</text>
<path d="M539.2 142.3H553.7" stroke="#a09060" stroke-width="0.5" stroke-opacity="0.6"/>
<polygon points="546.70,144.20 544.85,140.85 548.55,140.85" fill="#e6b02a"/>
<text x="556.7" y="145.0" font-size="7.6" fill="#262626" textLength="67.9" lengthAdjust="spacingAndGlyphs">Spot DPs+DenseNet</text>
<path d="M539.2 150.5H553.7" stroke="#a070a0" stroke-width="0.5" stroke-opacity="0.6"/>
<polygon points="548.60,150.50 545.25,148.65 545.25,152.35" fill="#ff20ff"/>
<text x="556.7" y="153.2" font-size="7.6" fill="#262626" textLength="67.5" lengthAdjust="spacingAndGlyphs">Spot DPs+ResNet18</text>
<path d="M539.2 158.9H553.7" stroke="#404040" stroke-width="0.5" stroke-opacity="0.6"/>
<polygon points="544.80,158.90 548.15,157.05 548.15,160.75" fill="#000"/>
<text x="556.7" y="161.6" font-size="7.6" fill="#262626" textLength="67.5" lengthAdjust="spacingAndGlyphs">Spot DPs+ResNet34</text>
<path d="M539.2 167.2H553.7" stroke="#706080" stroke-width="0.5" stroke-opacity="0.6"/>
<polygon points="546.70,165.20 548.20,167.20 546.70,169.20 545.20,167.20" fill="#7a2e8c"/>
<text x="556.7" y="169.89999999999998" font-size="7.6" fill="#262626" textLength="61.9" lengthAdjust="spacingAndGlyphs">Spot DPs+VGGNet</text>
<clipPath id="clipb"><rect x="32.2" y="219" width="600.8" height="167.60000000000002"/></clipPath>
<rect x="32.20" y="219" width="13.65" height="167.60000000000002" fill="#f89a9c"/>
<rect x="45.85" y="219" width="101.21" height="167.60000000000002" fill="#fde49c"/>
<rect x="147.06" y="219" width="185.55" height="167.60000000000002" fill="#fefc9b"/>
<rect x="332.61" y="219" width="109.64" height="167.60000000000002" fill="#9ddfbc"/>
<rect x="442.25" y="219" width="50.60" height="167.60000000000002" fill="#9fdff8"/>
<rect x="492.85" y="219" width="67.47" height="167.60000000000002" fill="#e9e9e9"/>
<rect x="560.33" y="219" width="72.67" height="167.60000000000002" fill="#a9a9a9"/>
<path d="M33.20 219V386.6M41.63 219V386.6M50.07 219V386.6M58.50 219V386.6M66.94 219V386.6M75.37 219V386.6M83.80 219V386.6M92.24 219V386.6M100.67 219V386.6M109.11 219V386.6M117.54 219V386.6M125.97 219V386.6M134.41 219V386.6M142.84 219V386.6M151.28 219V386.6M159.71 219V386.6M168.14 219V386.6M176.58 219V386.6M185.01 219V386.6M193.45 219V386.6M201.88 219V386.6M210.31 219V386.6M218.75 219V386.6M227.18 219V386.6M235.62 219V386.6M244.05 219V386.6M252.48 219V386.6M260.92 219V386.6M269.35 219V386.6M277.79 219V386.6M286.22 219V386.6M294.65 219V386.6M303.09 219V386.6M311.52 219V386.6M319.96 219V386.6M328.39 219V386.6M336.82 219V386.6M345.26 219V386.6M353.69 219V386.6M362.13 219V386.6M370.56 219V386.6M378.99 219V386.6M387.43 219V386.6M395.86 219V386.6M404.30 219V386.6M412.73 219V386.6M421.16 219V386.6M429.60 219V386.6M438.03 219V386.6M446.47 219V386.6M454.90 219V386.6M463.33 219V386.6M471.77 219V386.6M480.20 219V386.6M488.64 219V386.6M497.07 219V386.6M505.50 219V386.6M513.94 219V386.6M522.37 219V386.6M530.81 219V386.6M539.24 219V386.6M547.67 219V386.6M556.11 219V386.6M564.54 219V386.6M572.98 219V386.6M581.41 219V386.6M589.84 219V386.6M598.28 219V386.6M606.71 219V386.6M615.15 219V386.6M623.58 219V386.6M632.01 219V386.6M32.2 371.29H633M32.2 354.37H633M32.2 337.45H633M32.2 320.52H633M32.2 303.60H633M32.2 286.68H633M32.2 269.76H633M32.2 252.84H633M32.2 235.92H633M32.2 219.00H633" stroke="#ffffff" stroke-opacity="0.2" stroke-width="0.6" fill="none"/>
<path d="M33.20 219v4M33.20 386.6v-4M41.63 219v4M41.63 386.6v-4M50.07 219v4M50.07 386.6v-4M58.50 219v4M58.50 386.6v-4M66.94 219v4M66.94 386.6v-4M75.37 219v4M75.37 386.6v-4M83.80 219v4M83.80 386.6v-4M92.24 219v4M92.24 386.6v-4M100.67 219v4M100.67 386.6v-4M109.11 219v4M109.11 386.6v-4M117.54 219v4M117.54 386.6v-4M125.97 219v4M125.97 386.6v-4M134.41 219v4M134.41 386.6v-4M142.84 219v4M142.84 386.6v-4M151.28 219v4M151.28 386.6v-4M159.71 219v4M159.71 386.6v-4M168.14 219v4M168.14 386.6v-4M176.58 219v4M176.58 386.6v-4M185.01 219v4M185.01 386.6v-4M193.45 219v4M193.45 386.6v-4M201.88 219v4M201.88 386.6v-4M210.31 219v4M210.31 386.6v-4M218.75 219v4M218.75 386.6v-4M227.18 219v4M227.18 386.6v-4M235.62 219v4M235.62 386.6v-4M244.05 219v4M244.05 386.6v-4M252.48 219v4M252.48 386.6v-4M260.92 219v4M260.92 386.6v-4M269.35 219v4M269.35 386.6v-4M277.79 219v4M277.79 386.6v-4M286.22 219v4M286.22 386.6v-4M294.65 219v4M294.65 386.6v-4M303.09 219v4M303.09 386.6v-4M311.52 219v4M311.52 386.6v-4M319.96 219v4M319.96 386.6v-4M328.39 219v4M328.39 386.6v-4M336.82 219v4M336.82 386.6v-4M345.26 219v4M345.26 386.6v-4M353.69 219v4M353.69 386.6v-4M362.13 219v4M362.13 386.6v-4M370.56 219v4M370.56 386.6v-4M378.99 219v4M378.99 386.6v-4M387.43 219v4M387.43 386.6v-4M395.86 219v4M395.86 386.6v-4M404.30 219v4M404.30 386.6v-4M412.73 219v4M412.73 386.6v-4M421.16 219v4M421.16 386.6v-4M429.60 219v4M429.60 386.6v-4M438.03 219v4M438.03 386.6v-4M446.47 219v4M446.47 386.6v-4M454.90 219v4M454.90 386.6v-4M463.33 219v4M463.33 386.6v-4M471.77 219v4M471.77 386.6v-4M480.20 219v4M480.20 386.6v-4M488.64 219v4M488.64 386.6v-4M497.07 219v4M497.07 386.6v-4M505.50 219v4M505.50 386.6v-4M513.94 219v4M513.94 386.6v-4M522.37 219v4M522.37 386.6v-4M530.81 219v4M530.81 386.6v-4M539.24 219v4M539.24 386.6v-4M547.67 219v4M547.67 386.6v-4M556.11 219v4M556.11 386.6v-4M564.54 219v4M564.54 386.6v-4M572.98 219v4M572.98 386.6v-4M581.41 219v4M581.41 386.6v-4M589.84 219v4M589.84 386.6v-4M598.28 219v4M598.28 386.6v-4M606.71 219v4M606.71 386.6v-4M615.15 219v4M615.15 386.6v-4M623.58 219v4M623.58 386.6v-4M632.01 219v4M632.01 386.6v-4" stroke="#555" stroke-opacity="0.55" stroke-width="0.6" fill="none"/>
<rect x="32.2" y="219" width="600.8" height="167.60000000000002" fill="none" stroke="#d6d6d6" stroke-width="0.8"/>
<g clip-path="url(#clipb)">
<polyline points="33.20,264.52 41.63,260.29 50.07,365.03 58.50,345.06 66.94,310.03 75.37,348.95 83.80,286.51 92.24,365.70 100.67,290.07 109.11,286.18 117.54,277.71 125.97,332.71 134.41,228.31 142.84,299.54 151.28,328.98 159.71,297.00 168.14,322.05 176.58,297.00 185.01,333.72 193.45,321.54 201.88,259.44 210.31,300.22 218.75,245.23 227.18,266.55 235.62,309.53 244.05,351.32 252.48,318.83 260.92,334.57 269.35,306.48 277.79,226.95 286.22,246.24 294.65,338.80 303.09,282.79 311.52,293.28 319.96,226.95 328.39,230.68 336.82,265.02 345.26,264.01 353.69,244.55 362.13,228.98 370.56,280.76 378.99,259.44 387.43,239.47 395.86,221.54 404.30,227.46 412.73,264.01 421.16,224.58 429.60,238.29 438.03,267.56 446.47,249.46 454.90,235.75 463.33,238.97 471.77,252.67 480.20,228.31 488.64,223.23 497.07,258.26 505.50,250.30 513.94,250.81 522.37,261.30 530.81,227.46 539.24,241.50 547.67,226.28 556.11,234.57 564.54,254.53 572.98,281.44 581.41,287.53 589.84,224.58 598.28,238.29 606.71,223.74 615.15,255.04 623.58,264.01 632.01,233.21" fill="none" stroke="#dc5a36" stroke-width="1.35" stroke-dasharray="3 3.1"/>
<path d="M33.99 264.64L36.86 265.07M33.77 265.08L35.83 267.11M33.33 265.31L33.80 268.17M32.84 265.23L31.54 267.83M32.49 264.89L29.92 266.22M32.41 264.40L29.54 263.96M32.63 263.96L30.57 261.92M33.07 263.73L32.60 260.87M33.56 263.80L34.86 261.21M33.91 264.15L36.48 262.81" stroke="#ee3a2a" stroke-width="0.95" stroke-opacity="0.85"/><circle cx="33.20" cy="264.52" r="1.80" fill="#ee1010"/>
<path d="M42.43 260.41L45.29 260.84M42.20 260.85L44.27 262.88M41.76 261.08L42.24 263.94M41.28 261.00L39.98 263.60M40.92 260.65L38.35 261.99M40.84 260.17L37.98 259.73M41.06 259.72L39.00 257.69M41.50 259.50L41.03 256.64M41.99 259.57L43.29 256.98M42.34 259.92L44.92 258.58" stroke="#ee3a2a" stroke-width="0.95" stroke-opacity="0.85"/><circle cx="41.63" cy="260.29" r="1.80" fill="#ee1010"/>
<path d="M50.86 365.15L53.73 365.58M50.64 365.59L52.70 367.62M50.20 365.82L50.67 368.68M49.71 365.74L48.41 368.33M49.36 365.39L46.78 366.73M49.28 364.91L46.41 364.47M49.50 364.46L47.43 362.43M49.94 364.24L49.46 361.38M50.43 364.31L51.72 361.72M50.78 364.66L53.35 363.32" stroke="#ee3a2a" stroke-width="0.95" stroke-opacity="0.85"/><circle cx="50.07" cy="365.03" r="1.80" fill="#ee1010"/>
<path d="M59.29 345.18L62.16 345.61M59.07 345.62L61.14 347.66M58.63 345.85L59.11 348.71M58.14 345.77L56.85 348.37M57.79 345.43L55.22 346.76M57.71 344.94L54.84 344.51M57.93 344.50L55.87 342.46M58.37 344.27L57.90 341.41M58.86 344.34L60.16 341.75M59.21 344.69L61.79 343.36" stroke="#ee3a2a" stroke-width="0.95" stroke-opacity="0.85"/><circle cx="58.50" cy="345.06" r="1.80" fill="#ee1010"/>
<path d="M67.73 310.15L70.59 310.59M67.51 310.60L69.57 312.63M67.07 310.82L67.54 313.68M66.58 310.75L65.28 313.34M66.23 310.40L63.65 311.74M66.14 309.91L63.28 309.48M66.37 309.47L64.30 307.44M66.81 309.24L66.33 306.38M67.29 309.32L68.59 306.73M67.65 309.67L70.22 308.33" stroke="#ee3a2a" stroke-width="0.95" stroke-opacity="0.85"/><circle cx="66.94" cy="310.03" r="1.80" fill="#ee1010"/>
<path d="M76.16 349.07L79.03 349.50M75.94 349.51L78.00 351.55M75.50 349.74L75.97 352.60M75.01 349.67L73.71 352.26M74.66 349.32L72.09 350.65M74.58 348.83L71.71 348.40M74.80 348.39L72.74 346.35M75.24 348.16L74.77 345.30M75.73 348.24L77.03 345.64M76.08 348.58L78.65 347.25" stroke="#ee3a2a" stroke-width="0.95" stroke-opacity="0.85"/><circle cx="75.37" cy="348.95" r="1.80" fill="#ee1010"/>
<path d="M84.60 286.63L87.46 287.07M84.37 287.08L86.44 289.11M83.93 287.30L84.41 290.16M83.45 287.23L82.15 289.82M83.09 286.88L80.52 288.22M83.01 286.39L80.15 285.96M83.23 285.95L81.17 283.92M83.67 285.72L83.20 282.86M84.16 285.80L85.46 283.21M84.51 286.15L87.09 284.81" stroke="#ee3a2a" stroke-width="0.95" stroke-opacity="0.85"/><circle cx="83.80" cy="286.51" r="1.80" fill="#ee1010"/>
<path d="M93.03 365.82L95.90 366.26M92.81 366.26L94.87 368.30M92.37 366.49L92.84 369.35M91.88 366.42L90.58 369.01M91.53 366.07L88.95 367.41M91.45 365.58L88.58 365.15M91.67 365.14L89.60 363.11M92.11 364.91L91.63 362.05M92.60 364.99L93.89 362.39M92.95 365.33L95.52 364.00" stroke="#ee3a2a" stroke-width="0.95" stroke-opacity="0.85"/><circle cx="92.24" cy="365.70" r="1.80" fill="#ee1010"/>
<path d="M101.46 290.19L104.33 290.62M101.24 290.63L103.31 292.66M100.80 290.86L101.28 293.72M100.31 290.78L99.02 293.38M99.96 290.44L97.39 291.77M99.88 289.95L97.01 289.51M100.10 289.51L98.04 287.47M100.54 289.28L100.07 286.42M101.03 289.35L102.33 286.76M101.38 289.70L103.96 288.36" stroke="#ee3a2a" stroke-width="0.95" stroke-opacity="0.85"/><circle cx="100.67" cy="290.07" r="1.80" fill="#ee1010"/>
<path d="M109.90 286.29L112.76 286.73M109.68 286.74L111.74 288.77M109.24 286.96L109.71 289.83M108.75 286.89L107.45 289.48M108.40 286.54L105.82 287.88M108.31 286.06L105.45 285.62M108.54 285.61L106.47 283.58M108.98 285.39L108.50 282.53M109.46 285.46L110.76 282.87M109.82 285.81L112.39 284.47" stroke="#ee3a2a" stroke-width="0.95" stroke-opacity="0.85"/><circle cx="109.11" cy="286.18" r="1.80" fill="#ee1010"/>
<path d="M118.33 277.83L121.20 278.27M118.11 278.28L120.17 280.31M117.67 278.50L118.14 281.37M117.18 278.43L115.88 281.02M116.83 278.08L114.26 279.42M116.75 277.60L113.88 277.16M116.97 277.15L114.91 275.12M117.41 276.93L116.94 274.06M117.90 277.00L119.20 274.41M118.25 277.35L120.82 276.01" stroke="#ee3a2a" stroke-width="0.95" stroke-opacity="0.85"/><circle cx="117.54" cy="277.71" r="1.80" fill="#ee1010"/>
<path d="M126.77 332.83L129.63 333.26M126.54 333.27L128.61 335.31M126.10 333.50L126.58 336.36M125.62 333.42L124.32 336.02M125.26 333.08L122.69 334.41M125.18 332.59L122.32 332.15M125.40 332.15L123.34 330.11M125.84 331.92L125.37 329.06M126.33 331.99L127.63 329.40M126.68 332.34L129.26 331.00" stroke="#ee3a2a" stroke-width="0.95" stroke-opacity="0.85"/><circle cx="125.97" cy="332.71" r="1.80" fill="#ee1010"/>
<path d="M135.20 228.43L138.07 228.86M134.98 228.87L137.04 230.90M134.54 229.10L135.01 231.96M134.05 229.02L132.75 231.61M133.70 228.67L131.12 230.01M133.62 228.19L130.75 227.75M133.84 227.74L131.77 225.71M134.28 227.52L133.80 224.66M134.77 227.59L136.06 225.00M135.12 227.94L137.69 226.60" stroke="#ee3a2a" stroke-width="0.95" stroke-opacity="0.85"/><circle cx="134.41" cy="228.31" r="1.80" fill="#ee1010"/>
<path d="M143.63 299.66L146.50 300.10M143.41 300.10L145.48 302.14M142.97 300.33L143.45 303.19M142.48 300.26L141.19 302.85M142.13 299.91L139.56 301.25M142.05 299.42L139.18 298.99M142.27 298.98L140.21 296.95M142.71 298.75L142.24 295.89M143.20 298.83L144.50 296.23M143.55 299.17L146.13 297.84" stroke="#ee3a2a" stroke-width="0.95" stroke-opacity="0.85"/><circle cx="142.84" cy="299.54" r="1.80" fill="#ee1010"/>
<path d="M152.07 329.10L154.93 329.54M151.85 329.55L153.91 331.58M151.41 329.77L151.88 332.64M150.92 329.70L149.62 332.29M150.57 329.35L147.99 330.69M150.48 328.87L147.62 328.43M150.71 328.42L148.64 326.39M151.15 328.20L150.67 325.33M151.63 328.27L152.93 325.68M151.99 328.62L154.56 327.28" stroke="#ee3a2a" stroke-width="0.95" stroke-opacity="0.85"/><circle cx="151.28" cy="328.98" r="1.80" fill="#ee1010"/>
<path d="M160.50 297.12L163.37 297.56M160.28 297.57L162.34 299.60M159.84 297.79L160.31 300.65M159.35 297.72L158.05 300.31M159.00 297.37L156.43 298.71M158.92 296.89L156.05 296.45M159.14 296.44L157.08 294.41M159.58 296.22L159.11 293.35M160.07 296.29L161.37 293.70M160.42 296.64L162.99 295.30" stroke="#ee3a2a" stroke-width="0.95" stroke-opacity="0.85"/><circle cx="159.71" cy="297.00" r="1.80" fill="#ee1010"/>
<path d="M168.94 322.17L171.80 322.60M168.71 322.61L170.78 324.65M168.27 322.84L168.75 325.70M167.79 322.76L166.49 325.36M167.43 322.42L164.86 323.75M167.35 321.93L164.49 321.49M167.57 321.49L165.51 319.45M168.01 321.26L167.54 318.40M168.50 321.33L169.80 318.74M168.85 321.68L171.43 320.34" stroke="#ee3a2a" stroke-width="0.95" stroke-opacity="0.85"/><circle cx="168.14" cy="322.05" r="1.80" fill="#ee1010"/>
<path d="M177.37 297.12L180.24 297.56M177.15 297.57L179.21 299.60M176.71 297.79L177.18 300.65M176.22 297.72L174.92 300.31M175.87 297.37L173.29 298.71M175.79 296.89L172.92 296.45M176.01 296.44L173.94 294.41M176.45 296.22L175.97 293.35M176.94 296.29L178.23 293.70M177.29 296.64L179.86 295.30" stroke="#ee3a2a" stroke-width="0.95" stroke-opacity="0.85"/><circle cx="176.58" cy="297.00" r="1.80" fill="#ee1010"/>
<path d="M185.80 333.84L188.67 334.28M185.58 334.28L187.65 336.32M185.14 334.51L185.62 337.37M184.65 334.44L183.36 337.03M184.30 334.09L181.73 335.43M184.22 333.60L181.35 333.17M184.44 333.16L182.38 331.12M184.88 332.93L184.41 330.07M185.37 333.01L186.67 330.41M185.72 333.35L188.30 332.02" stroke="#ee3a2a" stroke-width="0.95" stroke-opacity="0.85"/><circle cx="185.01" cy="333.72" r="1.80" fill="#ee1010"/>
<path d="M194.24 321.66L197.10 322.09M194.02 322.10L196.08 324.14M193.58 322.33L194.05 325.19M193.09 322.26L191.79 324.85M192.74 321.91L190.16 323.24M192.65 321.42L189.79 320.99M192.88 320.98L190.81 318.94M193.32 320.75L192.84 317.89M193.80 320.82L195.10 318.23M194.16 321.17L196.73 319.84" stroke="#ee3a2a" stroke-width="0.95" stroke-opacity="0.85"/><circle cx="193.45" cy="321.54" r="1.80" fill="#ee1010"/>
<path d="M202.67 259.56L205.54 259.99M202.45 260.00L204.51 262.04M202.01 260.23L202.48 263.09M201.52 260.16L200.22 262.75M201.17 259.81L198.60 261.14M201.09 259.32L198.22 258.89M201.31 258.88L199.25 256.84M201.75 258.65L201.28 255.79M202.24 258.73L203.54 256.13M202.59 259.07L205.16 257.74" stroke="#ee3a2a" stroke-width="0.95" stroke-opacity="0.85"/><circle cx="201.88" cy="259.44" r="1.80" fill="#ee1010"/>
<path d="M211.11 300.34L213.97 300.77M210.88 300.78L212.95 302.82M210.44 301.01L210.92 303.87M209.96 300.93L208.66 303.53M209.60 300.59L207.03 301.92M209.52 300.10L206.66 299.67M209.74 299.66L207.68 297.62M210.18 299.43L209.71 296.57M210.67 299.50L211.97 296.91M211.02 299.85L213.60 298.52" stroke="#ee3a2a" stroke-width="0.95" stroke-opacity="0.85"/><circle cx="210.31" cy="300.22" r="1.80" fill="#ee1010"/>
<path d="M219.54 245.35L222.41 245.78M219.32 245.79L221.38 247.82M218.88 246.02L219.35 248.88M218.39 245.94L217.09 248.54M218.04 245.60L215.46 246.93M217.96 245.11L215.09 244.67M218.18 244.67L216.11 242.63M218.62 244.44L218.14 241.58M219.11 244.51L220.40 241.92M219.46 244.86L222.03 243.52" stroke="#ee3a2a" stroke-width="0.95" stroke-opacity="0.85"/><circle cx="218.75" cy="245.23" r="1.80" fill="#ee1010"/>
<path d="M227.97 266.67L230.84 267.10M227.75 267.11L229.82 269.15M227.31 267.34L227.79 270.20M226.82 267.26L225.53 269.86M226.47 266.92L223.90 268.25M226.39 266.43L223.52 265.99M226.61 265.99L224.55 263.95M227.05 265.76L226.58 262.90M227.54 265.83L228.84 263.24M227.89 266.18L230.47 264.84" stroke="#ee3a2a" stroke-width="0.95" stroke-opacity="0.85"/><circle cx="227.18" cy="266.55" r="1.80" fill="#ee1010"/>
<path d="M236.41 309.65L239.27 310.08M236.19 310.09L238.25 312.12M235.75 310.32L236.22 313.18M235.26 310.24L233.96 312.83M234.91 309.89L232.33 311.23M234.82 309.41L231.96 308.97M235.05 308.96L232.98 306.93M235.49 308.74L235.01 305.88M235.97 308.81L237.27 306.22M236.33 309.16L238.90 307.82" stroke="#ee3a2a" stroke-width="0.95" stroke-opacity="0.85"/><circle cx="235.62" cy="309.53" r="1.80" fill="#ee1010"/>
<path d="M244.84 351.44L247.71 351.87M244.62 351.88L246.68 353.92M244.18 352.11L244.65 354.97M243.69 352.04L242.39 354.63M243.34 351.69L240.77 353.02M243.26 351.20L240.39 350.77M243.48 350.76L241.42 348.72M243.92 350.53L243.45 347.67M244.41 350.60L245.71 348.01M244.76 350.95L247.33 349.62" stroke="#ee3a2a" stroke-width="0.95" stroke-opacity="0.85"/><circle cx="244.05" cy="351.32" r="1.80" fill="#ee1010"/>
<path d="M253.28 318.95L256.14 319.39M253.05 319.39L255.12 321.43M252.61 319.62L253.09 322.48M252.13 319.55L250.83 322.14M251.77 319.20L249.20 320.54M251.69 318.71L248.83 318.28M251.91 318.27L249.85 316.23M252.35 318.04L251.88 315.18M252.84 318.12L254.14 315.52M253.19 318.46L255.77 317.13" stroke="#ee3a2a" stroke-width="0.95" stroke-opacity="0.85"/><circle cx="252.48" cy="318.83" r="1.80" fill="#ee1010"/>
<path d="M261.71 334.69L264.58 335.12M261.49 335.13L263.55 337.17M261.05 335.36L261.52 338.22M260.56 335.28L259.26 337.88M260.21 334.94L257.63 336.27M260.13 334.45L257.26 334.02M260.35 334.01L258.28 331.97M260.79 333.78L260.31 330.92M261.28 333.85L262.57 331.26M261.63 334.20L264.20 332.87" stroke="#ee3a2a" stroke-width="0.95" stroke-opacity="0.85"/><circle cx="260.92" cy="334.57" r="1.80" fill="#ee1010"/>
<path d="M270.14 306.60L273.01 307.03M269.92 307.04L271.99 309.08M269.48 307.27L269.96 310.13M268.99 307.20L267.70 309.79M268.64 306.85L266.07 308.18M268.56 306.36L265.69 305.93M268.78 305.92L266.72 303.88M269.22 305.69L268.75 302.83M269.71 305.76L271.01 303.17M270.06 306.11L272.64 304.78" stroke="#ee3a2a" stroke-width="0.95" stroke-opacity="0.85"/><circle cx="269.35" cy="306.48" r="1.80" fill="#ee1010"/>
<path d="M278.58 227.07L281.44 227.51M278.36 227.51L280.42 229.55M277.92 227.74L278.39 230.60M277.43 227.67L276.13 230.26M277.08 227.32L274.50 228.66M276.99 226.83L274.13 226.40M277.22 226.39L275.15 224.36M277.66 226.16L277.18 223.30M278.14 226.24L279.44 223.64M278.50 226.58L281.07 225.25" stroke="#ee3a2a" stroke-width="0.95" stroke-opacity="0.85"/><circle cx="277.79" cy="226.95" r="1.80" fill="#ee1010"/>
<path d="M287.01 246.36L289.88 246.80M286.79 246.80L288.85 248.84M286.35 247.03L286.82 249.89M285.86 246.96L284.56 249.55M285.51 246.61L282.94 247.95M285.43 246.12L282.56 245.69M285.65 245.68L283.59 243.64M286.09 245.45L285.62 242.59M286.58 245.53L287.88 242.93M286.93 245.87L289.50 244.54" stroke="#ee3a2a" stroke-width="0.95" stroke-opacity="0.85"/><circle cx="286.22" cy="246.24" r="1.80" fill="#ee1010"/>
<path d="M295.45 338.92L298.31 339.35M295.22 339.36L297.29 341.40M294.78 339.59L295.26 342.45M294.30 339.51L293.00 342.11M293.94 339.17L291.37 340.50M293.86 338.68L291.00 338.25M294.08 338.24L292.02 336.20M294.52 338.01L294.05 335.15M295.01 338.08L296.31 335.49M295.36 338.43L297.94 337.10" stroke="#ee3a2a" stroke-width="0.95" stroke-opacity="0.85"/><circle cx="294.65" cy="338.80" r="1.80" fill="#ee1010"/>
<path d="M303.88 282.91L306.75 283.34M303.66 283.35L305.72 285.39M303.22 283.58L303.69 286.44M302.73 283.51L301.43 286.10M302.38 283.16L299.80 284.49M302.30 282.67L299.43 282.24M302.52 282.23L300.45 280.19M302.96 282.00L302.48 279.14M303.45 282.08L304.74 279.48M303.80 282.42L306.37 281.09" stroke="#ee3a2a" stroke-width="0.95" stroke-opacity="0.85"/><circle cx="303.09" cy="282.79" r="1.80" fill="#ee1010"/>
<path d="M312.31 293.40L315.18 293.84M312.09 293.84L314.16 295.88M311.65 294.07L312.13 296.93M311.16 294.00L309.87 296.59M310.81 293.65L308.24 294.99M310.73 293.16L307.86 292.73M310.95 292.72L308.89 290.68M311.39 292.49L310.92 289.63M311.88 292.57L313.18 289.97M312.23 292.91L314.81 291.58" stroke="#ee3a2a" stroke-width="0.95" stroke-opacity="0.85"/><circle cx="311.52" cy="293.28" r="1.80" fill="#ee1010"/>
<path d="M320.75 227.07L323.61 227.51M320.53 227.51L322.59 229.55M320.09 227.74L320.56 230.60M319.60 227.67L318.30 230.26M319.25 227.32L316.67 228.66M319.16 226.83L316.30 226.40M319.39 226.39L317.32 224.36M319.83 226.16L319.35 223.30M320.31 226.24L321.61 223.64M320.67 226.58L323.24 225.25" stroke="#ee3a2a" stroke-width="0.95" stroke-opacity="0.85"/><circle cx="319.96" cy="226.95" r="1.80" fill="#ee1010"/>
<path d="M329.18 230.79L332.05 231.23M328.96 231.24L331.02 233.27M328.52 231.46L328.99 234.33M328.03 231.39L326.73 233.98M327.68 231.04L325.11 232.38M327.60 230.56L324.73 230.12M327.82 230.11L325.76 228.08M328.26 229.89L327.79 227.03M328.75 229.96L330.05 227.37M329.10 230.31L331.67 228.97" stroke="#ee3a2a" stroke-width="0.95" stroke-opacity="0.85"/><circle cx="328.39" cy="230.68" r="1.80" fill="#ee1010"/>
<path d="M337.62 265.14L340.48 265.58M337.39 265.59L339.46 267.62M336.95 265.81L337.43 268.67M336.47 265.74L335.17 268.33M336.11 265.39L333.54 266.73M336.03 264.90L333.17 264.47M336.25 264.46L334.19 262.43M336.69 264.24L336.22 261.37M337.18 264.31L338.48 261.72M337.53 264.66L340.11 263.32" stroke="#ee3a2a" stroke-width="0.95" stroke-opacity="0.85"/><circle cx="336.82" cy="265.02" r="1.80" fill="#ee1010"/>
<path d="M346.05 264.13L348.92 264.56M345.83 264.57L347.89 266.61M345.39 264.80L345.86 267.66M344.90 264.72L343.60 267.32M344.55 264.38L341.97 265.71M344.47 263.89L341.60 263.46M344.69 263.45L342.62 261.41M345.13 263.22L344.65 260.36M345.62 263.29L346.91 260.70M345.97 263.64L348.54 262.31" stroke="#ee3a2a" stroke-width="0.95" stroke-opacity="0.85"/><circle cx="345.26" cy="264.01" r="1.80" fill="#ee1010"/>
<path d="M354.48 244.67L357.35 245.10M354.26 245.11L356.33 247.15M353.82 245.34L354.30 248.20M353.33 245.27L352.04 247.86M352.98 244.92L350.41 246.25M352.90 244.43L350.03 244.00M353.12 243.99L351.06 241.95M353.56 243.76L353.09 240.90M354.05 243.83L355.35 241.24M354.40 244.18L356.98 242.85" stroke="#ee3a2a" stroke-width="0.95" stroke-opacity="0.85"/><circle cx="353.69" cy="244.55" r="1.80" fill="#ee1010"/>
<path d="M362.92 229.10L365.78 229.54M362.70 229.54L364.76 231.58M362.26 229.77L362.73 232.63M361.77 229.70L360.47 232.29M361.42 229.35L358.84 230.69M361.33 228.86L358.47 228.43M361.56 228.42L359.49 226.39M362.00 228.19L361.52 225.33M362.48 228.27L363.78 225.67M362.84 228.62L365.41 227.28" stroke="#ee3a2a" stroke-width="0.95" stroke-opacity="0.85"/><circle cx="362.13" cy="228.98" r="1.80" fill="#ee1010"/>
<path d="M371.35 280.88L374.22 281.31M371.13 281.32L373.19 283.36M370.69 281.55L371.16 284.41M370.20 281.48L368.90 284.07M369.85 281.13L367.28 282.46M369.77 280.64L366.90 280.21M369.99 280.20L367.93 278.16M370.43 279.97L369.96 277.11M370.92 280.05L372.22 277.45M371.27 280.39L373.84 279.06" stroke="#ee3a2a" stroke-width="0.95" stroke-opacity="0.85"/><circle cx="370.56" cy="280.76" r="1.80" fill="#ee1010"/>
<path d="M379.79 259.56L382.65 259.99M379.56 260.00L381.63 262.04M379.12 260.23L379.60 263.09M378.64 260.16L377.34 262.75M378.28 259.81L375.71 261.14M378.20 259.32L375.34 258.89M378.42 258.88L376.36 256.84M378.86 258.65L378.39 255.79M379.35 258.73L380.65 256.13M379.70 259.07L382.28 257.74" stroke="#ee3a2a" stroke-width="0.95" stroke-opacity="0.85"/><circle cx="378.99" cy="259.44" r="1.80" fill="#ee1010"/>
<path d="M388.22 239.59L391.09 240.03M388.00 240.04L390.06 242.07M387.56 240.26L388.03 243.12M387.07 240.19L385.77 242.78M386.72 239.84L384.14 241.18M386.64 239.35L383.77 238.92M386.86 238.91L384.79 236.88M387.30 238.68L386.82 235.82M387.79 238.76L389.08 236.17M388.14 239.11L390.71 237.77" stroke="#ee3a2a" stroke-width="0.95" stroke-opacity="0.85"/><circle cx="387.43" cy="239.47" r="1.80" fill="#ee1010"/>
<path d="M396.65 221.66L399.52 222.09M396.43 222.10L398.50 224.14M395.99 222.33L396.47 225.19M395.50 222.25L394.21 224.85M395.15 221.91L392.58 223.24M395.07 221.42L392.20 220.99M395.29 220.98L393.23 218.94M395.73 220.75L395.26 217.89M396.22 220.82L397.52 218.23M396.57 221.17L399.15 219.84" stroke="#ee3a2a" stroke-width="0.95" stroke-opacity="0.85"/><circle cx="395.86" cy="221.54" r="1.80" fill="#ee1010"/>
<path d="M405.09 227.58L407.95 228.01M404.87 228.02L406.93 230.06M404.43 228.25L404.90 231.11M403.94 228.18L402.64 230.77M403.59 227.83L401.01 229.16M403.50 227.34L400.64 226.91M403.73 226.90L401.66 224.86M404.17 226.67L403.69 223.81M404.65 226.75L405.95 224.15M405.01 227.09L407.58 225.76" stroke="#ee3a2a" stroke-width="0.95" stroke-opacity="0.85"/><circle cx="404.30" cy="227.46" r="1.80" fill="#ee1010"/>
<path d="M413.52 264.13L416.39 264.56M413.30 264.57L415.36 266.61M412.86 264.80L413.33 267.66M412.37 264.72L411.07 267.32M412.02 264.38L409.45 265.71M411.94 263.89L409.07 263.46M412.16 263.45L410.10 261.41M412.60 263.22L412.13 260.36M413.09 263.29L414.39 260.70M413.44 263.64L416.01 262.31" stroke="#ee3a2a" stroke-width="0.95" stroke-opacity="0.85"/><circle cx="412.73" cy="264.01" r="1.80" fill="#ee1010"/>
<path d="M421.96 224.70L424.82 225.14M421.73 225.15L423.80 227.18M421.29 225.37L421.77 228.23M420.81 225.30L419.51 227.89M420.45 224.95L417.88 226.29M420.37 224.46L417.51 224.03M420.59 224.02L418.53 221.99M421.03 223.79L420.56 220.93M421.52 223.87L422.82 221.28M421.87 224.22L424.45 222.88" stroke="#ee3a2a" stroke-width="0.95" stroke-opacity="0.85"/><circle cx="421.16" cy="224.58" r="1.80" fill="#ee1010"/>
<path d="M430.39 238.41L433.26 238.84M430.17 238.85L432.23 240.89M429.73 239.08L430.20 241.94M429.24 239.01L427.94 241.60M428.89 238.66L426.31 239.99M428.81 238.17L425.94 237.74M429.03 237.73L426.96 235.69M429.47 237.50L428.99 234.64M429.96 237.57L431.25 234.98M430.31 237.92L432.88 236.59" stroke="#ee3a2a" stroke-width="0.95" stroke-opacity="0.85"/><circle cx="429.60" cy="238.29" r="1.80" fill="#ee1010"/>
<path d="M438.82 267.68L441.69 268.12M438.60 268.12L440.67 270.16M438.16 268.35L438.64 271.21M437.67 268.28L436.38 270.87M437.32 267.93L434.75 269.27M437.24 267.44L434.37 267.01M437.46 267.00L435.40 264.96M437.90 266.77L437.43 263.91M438.39 266.85L439.69 264.25M438.74 267.19L441.32 265.86" stroke="#ee3a2a" stroke-width="0.95" stroke-opacity="0.85"/><circle cx="438.03" cy="267.56" r="1.80" fill="#ee1010"/>
<path d="M447.26 249.58L450.12 250.01M447.04 250.02L449.10 252.06M446.60 250.25L447.07 253.11M446.11 250.17L444.81 252.77M445.76 249.83L443.18 251.16M445.67 249.34L442.81 248.90M445.90 248.90L443.83 246.86M446.34 248.67L445.86 245.81M446.82 248.74L448.12 246.15M447.18 249.09L449.75 247.75" stroke="#ee3a2a" stroke-width="0.95" stroke-opacity="0.85"/><circle cx="446.47" cy="249.46" r="1.80" fill="#ee1010"/>
<path d="M455.69 235.87L458.56 236.30M455.47 236.31L457.53 238.35M455.03 236.54L455.50 239.40M454.54 236.47L453.24 239.06M454.19 236.12L451.62 237.45M454.11 235.63L451.24 235.20M454.33 235.19L452.27 233.15M454.77 234.96L454.30 232.10M455.26 235.04L456.56 232.44M455.61 235.38L458.18 234.05" stroke="#ee3a2a" stroke-width="0.95" stroke-opacity="0.85"/><circle cx="454.90" cy="235.75" r="1.80" fill="#ee1010"/>
<path d="M464.13 239.09L466.99 239.52M463.90 239.53L465.97 241.56M463.46 239.76L463.94 242.62M462.98 239.68L461.68 242.28M462.62 239.33L460.05 240.67M462.54 238.85L459.68 238.41M462.76 238.40L460.70 236.37M463.20 238.18L462.73 235.32M463.69 238.25L464.99 235.66M464.04 238.60L466.62 237.26" stroke="#ee3a2a" stroke-width="0.95" stroke-opacity="0.85"/><circle cx="463.33" cy="238.97" r="1.80" fill="#ee1010"/>
<path d="M472.56 252.79L475.43 253.23M472.34 253.23L474.40 255.27M471.90 253.46L472.37 256.32M471.41 253.39L470.11 255.98M471.06 253.04L468.48 254.38M470.98 252.55L468.11 252.12M471.20 252.11L469.13 250.07M471.64 251.88L471.16 249.02M472.13 251.96L473.42 249.36M472.48 252.30L475.05 250.97" stroke="#ee3a2a" stroke-width="0.95" stroke-opacity="0.85"/><circle cx="471.77" cy="252.67" r="1.80" fill="#ee1010"/>
<path d="M480.99 228.43L483.86 228.86M480.77 228.87L482.84 230.90M480.33 229.10L480.81 231.96M479.84 229.02L478.55 231.61M479.49 228.67L476.92 230.01M479.41 228.19L476.54 227.75M479.63 227.74L477.57 225.71M480.07 227.52L479.60 224.66M480.56 227.59L481.86 225.00M480.91 227.94L483.49 226.60" stroke="#ee3a2a" stroke-width="0.95" stroke-opacity="0.85"/><circle cx="480.20" cy="228.31" r="1.80" fill="#ee1010"/>
<path d="M489.43 223.35L492.29 223.78M489.21 223.79L491.27 225.83M488.77 224.02L489.24 226.88M488.28 223.95L486.98 226.54M487.93 223.60L485.35 224.93M487.84 223.11L484.98 222.68M488.07 222.67L486.00 220.63M488.51 222.44L488.03 219.58M488.99 222.51L490.29 219.92M489.35 222.86L491.92 221.53" stroke="#ee3a2a" stroke-width="0.95" stroke-opacity="0.85"/><circle cx="488.64" cy="223.23" r="1.80" fill="#ee1010"/>
<path d="M497.86 258.38L500.73 258.81M497.64 258.82L499.70 260.85M497.20 259.05L497.67 261.91M496.71 258.97L495.41 261.56M496.36 258.62L493.79 259.96M496.28 258.14L493.41 257.70M496.50 257.69L494.44 255.66M496.94 257.47L496.47 254.61M497.43 257.54L498.73 254.95M497.78 257.89L500.35 256.55" stroke="#ee3a2a" stroke-width="0.95" stroke-opacity="0.85"/><circle cx="497.07" cy="258.26" r="1.80" fill="#ee1010"/>
<path d="M506.30 250.42L509.16 250.86M506.07 250.87L508.14 252.90M505.63 251.09L506.11 253.95M505.15 251.02L503.85 253.61M504.79 250.67L502.22 252.01M504.71 250.18L501.85 249.75M504.93 249.74L502.87 247.71M505.37 249.51L504.90 246.65M505.86 249.59L507.16 246.99M506.21 249.94L508.79 248.60" stroke="#ee3a2a" stroke-width="0.95" stroke-opacity="0.85"/><circle cx="505.50" cy="250.30" r="1.80" fill="#ee1010"/>
<path d="M514.73 250.93L517.60 251.36M514.51 251.37L516.57 253.41M514.07 251.60L514.54 254.46M513.58 251.53L512.28 254.12M513.23 251.18L510.65 252.51M513.15 250.69L510.28 250.26M513.37 250.25L511.30 248.21M513.81 250.02L513.33 247.16M514.30 250.10L515.59 247.50M514.65 250.44L517.22 249.11" stroke="#ee3a2a" stroke-width="0.95" stroke-opacity="0.85"/><circle cx="513.94" cy="250.81" r="1.80" fill="#ee1010"/>
<path d="M523.16 261.42L526.03 261.85M522.94 261.86L525.01 263.90M522.50 262.09L522.98 264.95M522.01 262.02L520.72 264.61M521.66 261.67L519.09 263.00M521.58 261.18L518.71 260.75M521.80 260.74L519.74 258.70M522.24 260.51L521.77 257.65M522.73 260.59L524.03 257.99M523.08 260.93L525.66 259.60" stroke="#ee3a2a" stroke-width="0.95" stroke-opacity="0.85"/><circle cx="522.37" cy="261.30" r="1.80" fill="#ee1010"/>
<path d="M531.60 227.58L534.46 228.01M531.38 228.02L533.44 230.06M530.94 228.25L531.41 231.11M530.45 228.18L529.15 230.77M530.10 227.83L527.52 229.16M530.01 227.34L527.15 226.91M530.24 226.90L528.17 224.86M530.68 226.67L530.20 223.81M531.16 226.75L532.46 224.15M531.52 227.09L534.09 225.76" stroke="#ee3a2a" stroke-width="0.95" stroke-opacity="0.85"/><circle cx="530.81" cy="227.46" r="1.80" fill="#ee1010"/>
<path d="M540.03 241.62L542.90 242.06M539.81 242.07L541.87 244.10M539.37 242.29L539.84 245.15M538.88 242.22L537.58 244.81M538.53 241.87L535.96 243.21M538.45 241.39L535.58 240.95M538.67 240.94L536.61 238.91M539.11 240.72L538.64 237.85M539.60 240.79L540.90 238.20M539.95 241.14L542.52 239.80" stroke="#ee3a2a" stroke-width="0.95" stroke-opacity="0.85"/><circle cx="539.24" cy="241.50" r="1.80" fill="#ee1010"/>
<path d="M548.47 226.40L551.33 226.83M548.24 226.84L550.31 228.87M547.80 227.07L548.28 229.93M547.32 226.99L546.02 229.58M546.96 226.64L544.39 227.98M546.88 226.16L544.02 225.72M547.10 225.71L545.04 223.68M547.54 225.49L547.07 222.63M548.03 225.56L549.33 222.97M548.38 225.91L550.96 224.57" stroke="#ee3a2a" stroke-width="0.95" stroke-opacity="0.85"/><circle cx="547.67" cy="226.28" r="1.80" fill="#ee1010"/>
<path d="M556.90 234.69L559.77 235.12M556.68 235.13L558.74 237.16M556.24 235.36L556.71 238.22M555.75 235.28L554.45 237.88M555.40 234.94L552.82 236.27M555.32 234.45L552.45 234.01M555.54 234.01L553.47 231.97M555.98 233.78L555.50 230.92M556.47 233.85L557.76 231.26M556.82 234.20L559.39 232.86" stroke="#ee3a2a" stroke-width="0.95" stroke-opacity="0.85"/><circle cx="556.11" cy="234.57" r="1.80" fill="#ee1010"/>
<path d="M565.33 254.65L568.20 255.09M565.11 255.10L567.18 257.13M564.67 255.32L565.15 258.18M564.18 255.25L562.89 257.84M563.83 254.90L561.26 256.24M563.75 254.41L560.88 253.98M563.97 253.97L561.91 251.94M564.41 253.74L563.94 250.88M564.90 253.82L566.20 251.23M565.25 254.17L567.83 252.83" stroke="#ee3a2a" stroke-width="0.95" stroke-opacity="0.85"/><circle cx="564.54" cy="254.53" r="1.80" fill="#ee1010"/>
<path d="M573.77 281.56L576.63 281.99M573.55 282.00L575.61 284.04M573.11 282.23L573.58 285.09M572.62 282.15L571.32 284.75M572.27 281.81L569.69 283.14M572.18 281.32L569.32 280.88M572.41 280.88L570.34 278.84M572.85 280.65L572.37 277.79M573.33 280.72L574.63 278.13M573.69 281.07L576.26 279.73" stroke="#ee3a2a" stroke-width="0.95" stroke-opacity="0.85"/><circle cx="572.98" cy="281.44" r="1.80" fill="#ee1010"/>
<path d="M582.20 287.65L585.07 288.08M581.98 288.09L584.04 290.13M581.54 288.32L582.01 291.18M581.05 288.24L579.75 290.84M580.70 287.90L578.13 289.23M580.62 287.41L577.75 286.98M580.84 286.97L578.78 284.93M581.28 286.74L580.81 283.88M581.77 286.81L583.07 284.22M582.12 287.16L584.69 285.83" stroke="#ee3a2a" stroke-width="0.95" stroke-opacity="0.85"/><circle cx="581.41" cy="287.53" r="1.80" fill="#ee1010"/>
<path d="M590.64 224.70L593.50 225.14M590.41 225.15L592.48 227.18M589.97 225.37L590.45 228.23M589.49 225.30L588.19 227.89M589.13 224.95L586.56 226.29M589.05 224.46L586.19 224.03M589.27 224.02L587.21 221.99M589.71 223.79L589.24 220.93M590.20 223.87L591.50 221.28M590.55 224.22L593.13 222.88" stroke="#ee3a2a" stroke-width="0.95" stroke-opacity="0.85"/><circle cx="589.84" cy="224.58" r="1.80" fill="#ee1010"/>
<path d="M599.07 238.41L601.94 238.84M598.85 238.85L600.91 240.89M598.41 239.08L598.88 241.94M597.92 239.01L596.62 241.60M597.57 238.66L594.99 239.99M597.49 238.17L594.62 237.74M597.71 237.73L595.64 235.69M598.15 237.50L597.67 234.64M598.64 237.57L599.93 234.98M598.99 237.92L601.56 236.59" stroke="#ee3a2a" stroke-width="0.95" stroke-opacity="0.85"/><circle cx="598.28" cy="238.29" r="1.80" fill="#ee1010"/>
<path d="M607.50 223.86L610.37 224.29M607.28 224.30L609.35 226.34M606.84 224.53L607.32 227.39M606.35 224.45L605.06 227.05M606.00 224.11L603.43 225.44M605.92 223.62L603.05 223.18M606.14 223.18L604.08 221.14M606.58 222.95L606.11 220.09M607.07 223.02L608.37 220.43M607.42 223.37L610.00 222.03" stroke="#ee3a2a" stroke-width="0.95" stroke-opacity="0.85"/><circle cx="606.71" cy="223.74" r="1.80" fill="#ee1010"/>
<path d="M615.94 255.16L618.80 255.59M615.72 255.60L617.78 257.64M615.28 255.83L615.75 258.69M614.79 255.76L613.49 258.35M614.44 255.41L611.86 256.74M614.35 254.92L611.49 254.49M614.58 254.48L612.51 252.44M615.02 254.25L614.54 251.39M615.50 254.33L616.80 251.73M615.86 254.67L618.43 253.34" stroke="#ee3a2a" stroke-width="0.95" stroke-opacity="0.85"/><circle cx="615.15" cy="255.04" r="1.80" fill="#ee1010"/>
<path d="M624.37 264.13L627.24 264.56M624.15 264.57L626.21 266.61M623.71 264.80L624.18 267.66M623.22 264.72L621.92 267.32M622.87 264.38L620.30 265.71M622.79 263.89L619.92 263.46M623.01 263.45L620.95 261.41M623.45 263.22L622.98 260.36M623.94 263.29L625.24 260.70M624.29 263.64L626.86 262.31" stroke="#ee3a2a" stroke-width="0.95" stroke-opacity="0.85"/><circle cx="623.58" cy="264.01" r="1.80" fill="#ee1010"/>
<path d="M632.81 233.33L635.67 233.77M632.58 233.78L634.65 235.81M632.14 234.00L632.62 236.86M631.66 233.93L630.36 236.52M631.30 233.58L628.73 234.92M631.22 233.09L628.36 232.66M631.44 232.65L629.38 230.62M631.88 232.42L631.41 229.56M632.37 232.50L633.67 229.90M632.72 232.85L635.30 231.51" stroke="#ee3a2a" stroke-width="0.95" stroke-opacity="0.85"/><circle cx="632.01" cy="233.21" r="1.80" fill="#ee1010"/>
<polyline points="33.20,281.95 41.63,286.68 50.07,357.75 58.50,345.91 66.94,296.33 75.37,350.98 83.80,292.44 92.24,367.90 100.67,321.54 109.11,282.79 117.54,290.07 125.97,337.45 134.41,244.55 142.84,296.33 151.28,352.50 159.71,290.07 168.14,342.01 176.58,313.93 185.01,316.97 193.45,316.46 201.88,264.01 210.31,308.68 218.75,268.24 227.18,272.47 235.62,325.77 244.05,357.07 252.48,323.91 260.92,330.00 269.35,328.98 277.79,245.23 286.22,259.44 294.65,332.54 303.09,300.05 311.52,303.27 319.96,230.68 328.39,261.30 336.82,286.51 345.26,282.45 353.69,289.05 362.13,235.24 370.56,316.97 378.99,286.68 387.43,243.20 395.86,232.54 404.30,232.54 412.73,269.76 421.16,230.00 429.60,256.23 438.03,295.14 446.47,253.18 454.90,294.97 463.33,254.03 471.77,269.93 480.20,249.96 488.64,231.52 497.07,268.24 505.50,264.52 513.94,258.93 522.37,286.68 530.81,230.68 539.24,256.56 547.67,239.47 556.11,230.68 564.54,267.05 572.98,295.14 581.41,308.17 589.84,235.92 598.28,244.38 606.71,223.23 615.15,280.08 623.58,283.30 632.01,244.38" fill="none" stroke="#70a070" stroke-width="0.5" stroke-opacity="0.7" stroke-dasharray="1 0.6"/>
<polyline points="33.20,316.13 41.63,286.51 50.07,377.04 58.50,364.52 66.94,312.06 75.37,370.78 83.80,328.98 92.24,383.30 100.67,337.45 109.11,306.48 117.54,306.99 125.97,337.45 134.41,290.07 142.84,328.98 151.28,358.26 159.71,362.83 168.14,366.21 176.58,350.81 185.01,358.26 193.45,360.80 201.88,313.76 210.31,339.48 218.75,295.14 227.18,286.68 235.62,356.23 244.05,367.90 252.48,354.37 260.92,358.26 269.35,338.29 277.79,268.24 286.22,261.30 294.65,340.83 303.09,320.52 311.52,331.18 319.96,239.30 328.39,295.14 336.82,327.46 345.26,320.52 353.69,320.52 362.13,281.95 370.56,345.06 378.99,295.14 387.43,252.84 395.86,244.38 404.30,261.30 412.73,272.81 421.16,244.38 429.60,261.30 438.03,300.22 446.47,280.76 454.90,312.06 463.33,261.30 471.77,303.60 480.20,304.45 488.64,239.30 497.07,296.50 505.50,303.60 513.94,301.23 522.37,284.99 530.81,235.92 539.24,252.84 547.67,244.38 556.11,244.38 564.54,275.68 572.98,303.60 581.41,295.82 589.84,235.92 598.28,244.38 606.71,235.92 615.15,261.30 623.58,295.14 632.01,239.30" fill="none" stroke="#808060" stroke-width="0.5" stroke-opacity="0.7" stroke-dasharray="1 0.6"/>
<polyline points="33.20,320.52 41.63,313.76 50.07,352.00 58.50,345.74 66.94,307.83 75.37,354.37 83.80,314.43 92.24,371.29 100.67,350.81 109.11,308.17 117.54,308.68 125.97,332.03 134.41,293.28 142.84,337.78 151.28,345.91 159.71,345.74 168.14,348.78 176.58,338.97 185.01,332.03 193.45,337.45 201.88,295.82 210.31,324.08 218.75,294.97 227.18,283.30 235.62,330.68 244.05,334.06 252.48,336.94 260.92,340.83 269.35,357.58 277.79,278.22 286.22,276.53 294.65,337.45 303.09,312.06 311.52,319.51 319.96,239.30 328.39,302.42 336.82,322.55 345.26,307.50 353.69,312.57 362.13,289.05 370.56,328.31 378.99,306.48 387.43,252.84 395.86,244.04 404.30,261.30 412.73,279.07 421.16,252.50 429.60,258.76 438.03,299.54 446.47,261.98 454.90,328.31 463.33,266.55 471.77,292.44 480.20,317.48 488.64,236.94 497.07,290.07 505.50,305.80 513.94,295.14 522.37,291.42 530.81,235.92 539.24,266.55 547.67,244.38 556.11,243.20 564.54,293.96 572.98,312.06 581.41,295.14 589.84,232.54 598.28,244.04 606.71,231.52 615.15,256.23 623.58,285.84 632.01,239.98" fill="none" stroke="#606090" stroke-width="0.5" stroke-opacity="0.7" stroke-dasharray="1 0.6"/>
<polyline points="33.20,328.82 41.63,281.27 50.07,374.50 58.50,371.96 66.94,312.06 75.37,345.91 83.80,334.06 92.24,383.98 100.67,340.83 109.11,280.08 117.54,327.46 125.97,337.45 134.41,285.67 142.84,357.07 151.28,350.98 159.71,354.37 168.14,337.45 176.58,337.45 185.01,345.91 193.45,349.97 201.88,303.60 210.31,342.52 218.75,280.08 227.18,286.68 235.62,337.45 244.05,362.83 252.48,337.45 260.92,345.91 269.35,345.91 277.79,267.05 286.22,278.22 294.65,337.45 303.09,317.14 311.52,313.25 319.96,235.92 328.39,280.08 336.82,336.94 345.26,287.02 353.69,309.02 362.13,255.21 370.56,320.52 378.99,288.21 387.43,252.84 395.86,240.83 404.30,251.49 412.73,262.82 421.16,242.01 429.60,262.82 438.03,295.14 446.47,261.30 454.90,310.71 463.33,246.92 471.77,313.93 480.20,273.32 488.64,239.30 497.07,290.07 505.50,296.50 513.94,273.99 522.37,297.00 530.81,232.54 539.24,252.84 547.67,259.44 556.11,244.38 564.54,278.22 572.98,303.60 581.41,300.22 589.84,235.92 598.28,244.38 606.71,258.93 615.15,261.30 623.58,300.73 632.01,235.92" fill="none" stroke="#a09060" stroke-width="0.5" stroke-opacity="0.7" stroke-dasharray="1 0.6"/>
<polyline points="33.20,320.52 41.63,300.22 50.07,361.98 58.50,364.52 66.94,325.77 75.37,340.32 83.80,346.92 92.24,369.93 100.67,377.72 109.11,334.57 117.54,314.43 125.97,356.23 134.41,295.14 142.84,312.57 151.28,348.27 159.71,342.01 168.14,359.44 176.58,318.83 185.01,363.33 193.45,354.37 201.88,357.07 210.31,362.49 218.75,319.00 227.18,326.95 235.62,365.03 244.05,373.32 252.48,349.46 260.92,355.21 269.35,371.29 277.79,303.27 286.22,295.82 294.65,369.59 303.09,328.82 311.52,347.60 319.96,244.38 328.39,314.43 336.82,346.92 345.26,360.80 353.69,366.21 362.13,257.58 370.56,333.72 378.99,276.19 387.43,306.48 395.86,265.02 404.30,285.33 412.73,280.76 421.16,244.38 429.60,265.70 438.03,306.99 446.47,265.70 454.90,320.69 463.33,264.01 471.77,308.17 480.20,323.23 488.64,244.38 497.07,271.45 505.50,355.72 513.94,287.02 522.37,307.50 530.81,239.30 539.24,238.29 547.67,243.20 556.11,266.55 564.54,286.68 572.98,306.99 581.41,290.07 589.84,250.81 598.28,249.46 606.71,284.99 615.15,256.23 623.58,306.48 632.01,242.69" fill="none" stroke="#a070a0" stroke-width="0.5" stroke-opacity="0.7" stroke-dasharray="1 0.6"/>
<polyline points="33.20,324.92 41.63,301.57 50.07,365.03 58.50,357.75 66.94,306.99 75.37,354.54 83.80,324.92 92.24,369.09 100.67,340.32 109.11,299.04 117.54,303.94 125.97,340.32 134.41,303.94 142.84,332.71 151.28,342.52 159.71,354.54 168.14,344.55 176.58,337.45 185.01,353.18 193.45,338.29 201.88,293.28 210.31,326.95 218.75,329.49 227.18,279.07 235.62,328.31 244.05,369.93 252.48,327.46 260.92,346.92 269.35,355.04 277.79,290.74 286.22,279.07 294.65,346.92 303.09,310.71 311.52,322.05 319.96,242.01 328.39,303.60 336.82,320.69 345.26,324.92 353.69,336.43 362.13,270.78 370.56,331.18 378.99,312.74 387.43,255.04 395.86,259.95 404.30,269.76 412.73,291.42 421.16,238.97 429.60,274.50 438.03,291.42 446.47,270.78 454.90,324.92 463.33,257.07 471.77,300.73 480.20,287.02 488.64,235.07 497.07,289.05 505.50,287.02 513.94,275.68 522.37,273.82 530.81,237.44 539.24,257.58 547.67,248.27 556.11,255.04 564.54,306.99 572.98,320.52 581.41,306.99 589.84,235.07 598.28,254.53 606.71,235.92 615.15,250.81 623.58,295.14 632.01,241.50" fill="none" stroke="#404040" stroke-width="0.5" stroke-opacity="0.7" stroke-dasharray="1 0.6"/>
<polyline points="33.20,307.66 41.63,317.48 50.07,361.47 58.50,357.07 66.94,315.79 75.37,361.47 83.80,333.72 92.24,377.55 100.67,348.27 109.11,295.82 117.54,306.48 125.97,336.94 134.41,291.42 142.84,328.31 151.28,336.94 159.71,366.21 168.14,352.00 176.58,331.18 185.01,349.46 193.45,357.58 201.88,303.27 210.31,344.55 218.75,324.59 227.18,290.24 235.62,345.23 244.05,363.67 252.48,340.83 260.92,363.33 269.35,345.23 277.79,279.07 286.22,278.22 294.65,335.75 303.09,317.48 311.52,300.05 319.96,235.75 328.39,308.17 336.82,332.54 345.26,327.46 353.69,332.03 362.13,277.55 370.56,313.25 378.99,294.47 387.43,246.92 395.86,246.92 404.30,271.29 412.73,290.07 421.16,246.92 429.60,271.96 438.03,315.79 446.47,269.76 454.90,316.97 463.33,273.82 471.77,306.48 480.20,297.00 488.64,249.46 497.07,292.44 505.50,299.54 513.94,293.28 522.37,293.28 530.81,243.20 539.24,250.81 547.67,251.49 556.11,249.96 564.54,284.48 572.98,303.27 581.41,295.14 589.84,227.46 598.28,236.43 606.71,232.54 615.15,264.52 623.58,294.47 632.01,239.30" fill="none" stroke="#706080" stroke-width="0.5" stroke-opacity="0.7" stroke-dasharray="1 0.6"/>
<circle cx="33.20" cy="281.95" r="1.40" fill="#35e035"/>
<circle cx="41.63" cy="286.68" r="1.40" fill="#35e035"/>
<circle cx="50.07" cy="357.75" r="1.40" fill="#35e035"/>
<circle cx="58.50" cy="345.91" r="1.40" fill="#35e035"/>
<circle cx="66.94" cy="296.33" r="1.40" fill="#35e035"/>
<circle cx="75.37" cy="350.98" r="1.40" fill="#35e035"/>
<circle cx="83.80" cy="292.44" r="1.40" fill="#35e035"/>
<circle cx="92.24" cy="367.90" r="1.40" fill="#35e035"/>
<circle cx="100.67" cy="321.54" r="1.40" fill="#35e035"/>
<circle cx="109.11" cy="282.79" r="1.40" fill="#35e035"/>
<circle cx="117.54" cy="290.07" r="1.40" fill="#35e035"/>
<circle cx="125.97" cy="337.45" r="1.40" fill="#35e035"/>
<circle cx="134.41" cy="244.55" r="1.40" fill="#35e035"/>
<circle cx="142.84" cy="296.33" r="1.40" fill="#35e035"/>
<circle cx="151.28" cy="352.50" r="1.40" fill="#35e035"/>
<circle cx="159.71" cy="290.07" r="1.40" fill="#35e035"/>
<circle cx="168.14" cy="342.01" r="1.40" fill="#35e035"/>
<circle cx="176.58" cy="313.93" r="1.40" fill="#35e035"/>
<circle cx="185.01" cy="316.97" r="1.40" fill="#35e035"/>
<circle cx="193.45" cy="316.46" r="1.40" fill="#35e035"/>
<circle cx="201.88" cy="264.01" r="1.40" fill="#35e035"/>
<circle cx="210.31" cy="308.68" r="1.40" fill="#35e035"/>
<circle cx="218.75" cy="268.24" r="1.40" fill="#35e035"/>
<circle cx="227.18" cy="272.47" r="1.40" fill="#35e035"/>
<circle cx="235.62" cy="325.77" r="1.40" fill="#35e035"/>
<circle cx="244.05" cy="357.07" r="1.40" fill="#35e035"/>
<circle cx="252.48" cy="323.91" r="1.40" fill="#35e035"/>
<circle cx="260.92" cy="330.00" r="1.40" fill="#35e035"/>
<circle cx="269.35" cy="328.98" r="1.40" fill="#35e035"/>
<circle cx="277.79" cy="245.23" r="1.40" fill="#35e035"/>
<circle cx="286.22" cy="259.44" r="1.40" fill="#35e035"/>
<circle cx="294.65" cy="332.54" r="1.40" fill="#35e035"/>
<circle cx="303.09" cy="300.05" r="1.40" fill="#35e035"/>
<circle cx="311.52" cy="303.27" r="1.40" fill="#35e035"/>
<circle cx="319.96" cy="230.68" r="1.40" fill="#35e035"/>
<circle cx="328.39" cy="261.30" r="1.40" fill="#35e035"/>
<circle cx="336.82" cy="286.51" r="1.40" fill="#35e035"/>
<circle cx="345.26" cy="282.45" r="1.40" fill="#35e035"/>
<circle cx="353.69" cy="289.05" r="1.40" fill="#35e035"/>
<circle cx="362.13" cy="235.24" r="1.40" fill="#35e035"/>
<circle cx="370.56" cy="316.97" r="1.40" fill="#35e035"/>
<circle cx="378.99" cy="286.68" r="1.40" fill="#35e035"/>
<circle cx="387.43" cy="243.20" r="1.40" fill="#35e035"/>
<circle cx="395.86" cy="232.54" r="1.40" fill="#35e035"/>
<circle cx="404.30" cy="232.54" r="1.40" fill="#35e035"/>
<circle cx="412.73" cy="269.76" r="1.40" fill="#35e035"/>
<circle cx="421.16" cy="230.00" r="1.40" fill="#35e035"/>
<circle cx="429.60" cy="256.23" r="1.40" fill="#35e035"/>
<circle cx="438.03" cy="295.14" r="1.40" fill="#35e035"/>
<circle cx="446.47" cy="253.18" r="1.40" fill="#35e035"/>
<circle cx="454.90" cy="294.97" r="1.40" fill="#35e035"/>
<circle cx="463.33" cy="254.03" r="1.40" fill="#35e035"/>
<circle cx="471.77" cy="269.93" r="1.40" fill="#35e035"/>
<circle cx="480.20" cy="249.96" r="1.40" fill="#35e035"/>
<circle cx="488.64" cy="231.52" r="1.40" fill="#35e035"/>
<circle cx="497.07" cy="268.24" r="1.40" fill="#35e035"/>
<circle cx="505.50" cy="264.52" r="1.40" fill="#35e035"/>
<circle cx="513.94" cy="258.93" r="1.40" fill="#35e035"/>
<circle cx="522.37" cy="286.68" r="1.40" fill="#35e035"/>
<circle cx="530.81" cy="230.68" r="1.40" fill="#35e035"/>
<circle cx="539.24" cy="256.56" r="1.40" fill="#35e035"/>
<circle cx="547.67" cy="239.47" r="1.40" fill="#35e035"/>
<circle cx="556.11" cy="230.68" r="1.40" fill="#35e035"/>
<circle cx="564.54" cy="267.05" r="1.40" fill="#35e035"/>
<circle cx="572.98" cy="295.14" r="1.40" fill="#35e035"/>
<circle cx="581.41" cy="308.17" r="1.40" fill="#35e035"/>
<circle cx="589.84" cy="235.92" r="1.40" fill="#35e035"/>
<circle cx="598.28" cy="244.38" r="1.40" fill="#35e035"/>
<circle cx="606.71" cy="223.23" r="1.40" fill="#35e035"/>
<circle cx="615.15" cy="280.08" r="1.40" fill="#35e035"/>
<circle cx="623.58" cy="283.30" r="1.40" fill="#35e035"/>
<circle cx="632.01" cy="244.38" r="1.40" fill="#35e035"/>
<polygon points="33.20,314.23 31.35,317.58 35.05,317.58" fill="#8c9440"/>
<polygon points="41.63,284.61 39.78,287.96 43.48,287.96" fill="#8c9440"/>
<polygon points="50.07,375.14 48.22,378.49 51.92,378.49" fill="#8c9440"/>
<polygon points="58.50,362.62 56.65,365.97 60.35,365.97" fill="#8c9440"/>
<polygon points="66.94,310.16 65.09,313.51 68.79,313.51" fill="#8c9440"/>
<polygon points="75.37,368.88 73.52,372.23 77.22,372.23" fill="#8c9440"/>
<polygon points="83.80,327.08 81.95,330.43 85.65,330.43" fill="#8c9440"/>
<polygon points="92.24,381.40 90.39,384.75 94.09,384.75" fill="#8c9440"/>
<polygon points="100.67,335.55 98.82,338.90 102.52,338.90" fill="#8c9440"/>
<polygon points="109.11,304.58 107.26,307.93 110.96,307.93" fill="#8c9440"/>
<polygon points="117.54,305.09 115.69,308.44 119.39,308.44" fill="#8c9440"/>
<polygon points="125.97,335.55 124.12,338.90 127.82,338.90" fill="#8c9440"/>
<polygon points="134.41,288.17 132.56,291.52 136.26,291.52" fill="#8c9440"/>
<polygon points="142.84,327.08 140.99,330.43 144.69,330.43" fill="#8c9440"/>
<polygon points="151.28,356.36 149.43,359.71 153.13,359.71" fill="#8c9440"/>
<polygon points="159.71,360.93 157.86,364.28 161.56,364.28" fill="#8c9440"/>
<polygon points="168.14,364.31 166.29,367.66 169.99,367.66" fill="#8c9440"/>
<polygon points="176.58,348.91 174.73,352.26 178.43,352.26" fill="#8c9440"/>
<polygon points="185.01,356.36 183.16,359.71 186.86,359.71" fill="#8c9440"/>
<polygon points="193.45,358.90 191.60,362.25 195.30,362.25" fill="#8c9440"/>
<polygon points="201.88,311.86 200.03,315.21 203.73,315.21" fill="#8c9440"/>
<polygon points="210.31,337.58 208.46,340.93 212.16,340.93" fill="#8c9440"/>
<polygon points="218.75,293.24 216.90,296.59 220.60,296.59" fill="#8c9440"/>
<polygon points="227.18,284.78 225.33,288.13 229.03,288.13" fill="#8c9440"/>
<polygon points="235.62,354.33 233.77,357.68 237.47,357.68" fill="#8c9440"/>
<polygon points="244.05,366.00 242.20,369.35 245.90,369.35" fill="#8c9440"/>
<polygon points="252.48,352.47 250.63,355.82 254.33,355.82" fill="#8c9440"/>
<polygon points="260.92,356.36 259.07,359.71 262.77,359.71" fill="#8c9440"/>
<polygon points="269.35,336.39 267.50,339.74 271.20,339.74" fill="#8c9440"/>
<polygon points="277.79,266.34 275.94,269.69 279.64,269.69" fill="#8c9440"/>
<polygon points="286.22,259.40 284.37,262.75 288.07,262.75" fill="#8c9440"/>
<polygon points="294.65,338.93 292.80,342.28 296.50,342.28" fill="#8c9440"/>
<polygon points="303.09,318.62 301.24,321.97 304.94,321.97" fill="#8c9440"/>
<polygon points="311.52,329.28 309.67,332.63 313.37,332.63" fill="#8c9440"/>
<polygon points="319.96,237.40 318.11,240.75 321.81,240.75" fill="#8c9440"/>
<polygon points="328.39,293.24 326.54,296.59 330.24,296.59" fill="#8c9440"/>
<polygon points="336.82,325.56 334.97,328.91 338.67,328.91" fill="#8c9440"/>
<polygon points="345.26,318.62 343.41,321.97 347.11,321.97" fill="#8c9440"/>
<polygon points="353.69,318.62 351.84,321.97 355.54,321.97" fill="#8c9440"/>
<polygon points="362.13,280.05 360.28,283.40 363.98,283.40" fill="#8c9440"/>
<polygon points="370.56,343.16 368.71,346.51 372.41,346.51" fill="#8c9440"/>
<polygon points="378.99,293.24 377.14,296.59 380.84,296.59" fill="#8c9440"/>
<polygon points="387.43,250.94 385.58,254.29 389.28,254.29" fill="#8c9440"/>
<polygon points="395.86,242.48 394.01,245.83 397.71,245.83" fill="#8c9440"/>
<polygon points="404.30,259.40 402.45,262.75 406.15,262.75" fill="#8c9440"/>
<polygon points="412.73,270.91 410.88,274.26 414.58,274.26" fill="#8c9440"/>
<polygon points="421.16,242.48 419.31,245.83 423.01,245.83" fill="#8c9440"/>
<polygon points="429.60,259.40 427.75,262.75 431.45,262.75" fill="#8c9440"/>
<polygon points="438.03,298.32 436.18,301.67 439.88,301.67" fill="#8c9440"/>
<polygon points="446.47,278.86 444.62,282.21 448.32,282.21" fill="#8c9440"/>
<polygon points="454.90,310.16 453.05,313.51 456.75,313.51" fill="#8c9440"/>
<polygon points="463.33,259.40 461.48,262.75 465.18,262.75" fill="#8c9440"/>
<polygon points="471.77,301.70 469.92,305.05 473.62,305.05" fill="#8c9440"/>
<polygon points="480.20,302.55 478.35,305.90 482.05,305.90" fill="#8c9440"/>
<polygon points="488.64,237.40 486.79,240.75 490.49,240.75" fill="#8c9440"/>
<polygon points="497.07,294.60 495.22,297.95 498.92,297.95" fill="#8c9440"/>
<polygon points="505.50,301.70 503.65,305.05 507.35,305.05" fill="#8c9440"/>
<polygon points="513.94,299.33 512.09,302.68 515.79,302.68" fill="#8c9440"/>
<polygon points="522.37,283.09 520.52,286.44 524.22,286.44" fill="#8c9440"/>
<polygon points="530.81,234.02 528.96,237.37 532.66,237.37" fill="#8c9440"/>
<polygon points="539.24,250.94 537.39,254.29 541.09,254.29" fill="#8c9440"/>
<polygon points="547.67,242.48 545.82,245.83 549.52,245.83" fill="#8c9440"/>
<polygon points="556.11,242.48 554.26,245.83 557.96,245.83" fill="#8c9440"/>
<polygon points="564.54,273.78 562.69,277.13 566.39,277.13" fill="#8c9440"/>
<polygon points="572.98,301.70 571.13,305.05 574.83,305.05" fill="#8c9440"/>
<polygon points="581.41,293.92 579.56,297.27 583.26,297.27" fill="#8c9440"/>
<polygon points="589.84,234.02 587.99,237.37 591.69,237.37" fill="#8c9440"/>
<polygon points="598.28,242.48 596.43,245.83 600.13,245.83" fill="#8c9440"/>
<polygon points="606.71,234.02 604.86,237.37 608.56,237.37" fill="#8c9440"/>
<polygon points="615.15,259.40 613.30,262.75 617.00,262.75" fill="#8c9440"/>
<polygon points="623.58,293.24 621.73,296.59 625.43,296.59" fill="#8c9440"/>
<polygon points="632.01,237.40 630.16,240.75 633.86,240.75" fill="#8c9440"/>
<circle cx="33.20" cy="320.52" r="1.40" fill="#1010e0"/>
<circle cx="41.63" cy="313.76" r="1.40" fill="#1010e0"/>
<circle cx="50.07" cy="352.00" r="1.40" fill="#1010e0"/>
<circle cx="58.50" cy="345.74" r="1.40" fill="#1010e0"/>
<circle cx="66.94" cy="307.83" r="1.40" fill="#1010e0"/>
<circle cx="75.37" cy="354.37" r="1.40" fill="#1010e0"/>
<circle cx="83.80" cy="314.43" r="1.40" fill="#1010e0"/>
<circle cx="92.24" cy="371.29" r="1.40" fill="#1010e0"/>
<circle cx="100.67" cy="350.81" r="1.40" fill="#1010e0"/>
<circle cx="109.11" cy="308.17" r="1.40" fill="#1010e0"/>
<circle cx="117.54" cy="308.68" r="1.40" fill="#1010e0"/>
<circle cx="125.97" cy="332.03" r="1.40" fill="#1010e0"/>
<circle cx="134.41" cy="293.28" r="1.40" fill="#1010e0"/>
<circle cx="142.84" cy="337.78" r="1.40" fill="#1010e0"/>
<circle cx="151.28" cy="345.91" r="1.40" fill="#1010e0"/>
<circle cx="159.71" cy="345.74" r="1.40" fill="#1010e0"/>
<circle cx="168.14" cy="348.78" r="1.40" fill="#1010e0"/>
<circle cx="176.58" cy="338.97" r="1.40" fill="#1010e0"/>
<circle cx="185.01" cy="332.03" r="1.40" fill="#1010e0"/>
<circle cx="193.45" cy="337.45" r="1.40" fill="#1010e0"/>
<circle cx="201.88" cy="295.82" r="1.40" fill="#1010e0"/>
<circle cx="210.31" cy="324.08" r="1.40" fill="#1010e0"/>
<circle cx="218.75" cy="294.97" r="1.40" fill="#1010e0"/>
<circle cx="227.18" cy="283.30" r="1.40" fill="#1010e0"/>
<circle cx="235.62" cy="330.68" r="1.40" fill="#1010e0"/>
<circle cx="244.05" cy="334.06" r="1.40" fill="#1010e0"/>
<circle cx="252.48" cy="336.94" r="1.40" fill="#1010e0"/>
<circle cx="260.92" cy="340.83" r="1.40" fill="#1010e0"/>
<circle cx="269.35" cy="357.58" r="1.40" fill="#1010e0"/>
<circle cx="277.79" cy="278.22" r="1.40" fill="#1010e0"/>
<circle cx="286.22" cy="276.53" r="1.40" fill="#1010e0"/>
<circle cx="294.65" cy="337.45" r="1.40" fill="#1010e0"/>
<circle cx="303.09" cy="312.06" r="1.40" fill="#1010e0"/>
<circle cx="311.52" cy="319.51" r="1.40" fill="#1010e0"/>
<circle cx="319.96" cy="239.30" r="1.40" fill="#1010e0"/>
<circle cx="328.39" cy="302.42" r="1.40" fill="#1010e0"/>
<circle cx="336.82" cy="322.55" r="1.40" fill="#1010e0"/>
<circle cx="345.26" cy="307.50" r="1.40" fill="#1010e0"/>
<circle cx="353.69" cy="312.57" r="1.40" fill="#1010e0"/>
<circle cx="362.13" cy="289.05" r="1.40" fill="#1010e0"/>
<circle cx="370.56" cy="328.31" r="1.40" fill="#1010e0"/>
<circle cx="378.99" cy="306.48" r="1.40" fill="#1010e0"/>
<circle cx="387.43" cy="252.84" r="1.40" fill="#1010e0"/>
<circle cx="395.86" cy="244.04" r="1.40" fill="#1010e0"/>
<circle cx="404.30" cy="261.30" r="1.40" fill="#1010e0"/>
<circle cx="412.73" cy="279.07" r="1.40" fill="#1010e0"/>
<circle cx="421.16" cy="252.50" r="1.40" fill="#1010e0"/>
<circle cx="429.60" cy="258.76" r="1.40" fill="#1010e0"/>
<circle cx="438.03" cy="299.54" r="1.40" fill="#1010e0"/>
<circle cx="446.47" cy="261.98" r="1.40" fill="#1010e0"/>
<circle cx="454.90" cy="328.31" r="1.40" fill="#1010e0"/>
<circle cx="463.33" cy="266.55" r="1.40" fill="#1010e0"/>
<circle cx="471.77" cy="292.44" r="1.40" fill="#1010e0"/>
<circle cx="480.20" cy="317.48" r="1.40" fill="#1010e0"/>
<circle cx="488.64" cy="236.94" r="1.40" fill="#1010e0"/>
<circle cx="497.07" cy="290.07" r="1.40" fill="#1010e0"/>
<circle cx="505.50" cy="305.80" r="1.40" fill="#1010e0"/>
<circle cx="513.94" cy="295.14" r="1.40" fill="#1010e0"/>
<circle cx="522.37" cy="291.42" r="1.40" fill="#1010e0"/>
<circle cx="530.81" cy="235.92" r="1.40" fill="#1010e0"/>
<circle cx="539.24" cy="266.55" r="1.40" fill="#1010e0"/>
<circle cx="547.67" cy="244.38" r="1.40" fill="#1010e0"/>
<circle cx="556.11" cy="243.20" r="1.40" fill="#1010e0"/>
<circle cx="564.54" cy="293.96" r="1.40" fill="#1010e0"/>
<circle cx="572.98" cy="312.06" r="1.40" fill="#1010e0"/>
<circle cx="581.41" cy="295.14" r="1.40" fill="#1010e0"/>
<circle cx="589.84" cy="232.54" r="1.40" fill="#1010e0"/>
<circle cx="598.28" cy="244.04" r="1.40" fill="#1010e0"/>
<circle cx="606.71" cy="231.52" r="1.40" fill="#1010e0"/>
<circle cx="615.15" cy="256.23" r="1.40" fill="#1010e0"/>
<circle cx="623.58" cy="285.84" r="1.40" fill="#1010e0"/>
<circle cx="632.01" cy="239.98" r="1.40" fill="#1010e0"/>
<polygon points="33.20,330.72 31.35,327.37 35.05,327.37" fill="#e6b02a"/>
<polygon points="41.63,283.17 39.78,279.82 43.48,279.82" fill="#e6b02a"/>
<polygon points="50.07,376.40 48.22,373.05 51.92,373.05" fill="#e6b02a"/>
<polygon points="58.50,373.86 56.65,370.51 60.35,370.51" fill="#e6b02a"/>
<polygon points="66.94,313.96 65.09,310.61 68.79,310.61" fill="#e6b02a"/>
<polygon points="75.37,347.81 73.52,344.46 77.22,344.46" fill="#e6b02a"/>
<polygon points="83.80,335.96 81.95,332.61 85.65,332.61" fill="#e6b02a"/>
<polygon points="92.24,385.88 90.39,382.53 94.09,382.53" fill="#e6b02a"/>
<polygon points="100.67,342.73 98.82,339.38 102.52,339.38" fill="#e6b02a"/>
<polygon points="109.11,281.98 107.26,278.63 110.96,278.63" fill="#e6b02a"/>
<polygon points="117.54,329.36 115.69,326.01 119.39,326.01" fill="#e6b02a"/>
<polygon points="125.97,339.35 124.12,336.00 127.82,336.00" fill="#e6b02a"/>
<polygon points="134.41,287.57 132.56,284.22 136.26,284.22" fill="#e6b02a"/>
<polygon points="142.84,358.97 140.99,355.62 144.69,355.62" fill="#e6b02a"/>
<polygon points="151.28,352.88 149.43,349.53 153.13,349.53" fill="#e6b02a"/>
<polygon points="159.71,356.27 157.86,352.92 161.56,352.92" fill="#e6b02a"/>
<polygon points="168.14,339.35 166.29,336.00 169.99,336.00" fill="#e6b02a"/>
<polygon points="176.58,339.35 174.73,336.00 178.43,336.00" fill="#e6b02a"/>
<polygon points="185.01,347.81 183.16,344.46 186.86,344.46" fill="#e6b02a"/>
<polygon points="193.45,351.87 191.60,348.52 195.30,348.52" fill="#e6b02a"/>
<polygon points="201.88,305.50 200.03,302.15 203.73,302.15" fill="#e6b02a"/>
<polygon points="210.31,344.42 208.46,341.07 212.16,341.07" fill="#e6b02a"/>
<polygon points="218.75,281.98 216.90,278.63 220.60,278.63" fill="#e6b02a"/>
<polygon points="227.18,288.58 225.33,285.23 229.03,285.23" fill="#e6b02a"/>
<polygon points="235.62,339.35 233.77,336.00 237.47,336.00" fill="#e6b02a"/>
<polygon points="244.05,364.73 242.20,361.38 245.90,361.38" fill="#e6b02a"/>
<polygon points="252.48,339.35 250.63,336.00 254.33,336.00" fill="#e6b02a"/>
<polygon points="260.92,347.81 259.07,344.46 262.77,344.46" fill="#e6b02a"/>
<polygon points="269.35,347.81 267.50,344.46 271.20,344.46" fill="#e6b02a"/>
<polygon points="277.79,268.95 275.94,265.60 279.64,265.60" fill="#e6b02a"/>
<polygon points="286.22,280.12 284.37,276.77 288.07,276.77" fill="#e6b02a"/>
<polygon points="294.65,339.35 292.80,336.00 296.50,336.00" fill="#e6b02a"/>
<polygon points="303.09,319.04 301.24,315.69 304.94,315.69" fill="#e6b02a"/>
<polygon points="311.52,315.15 309.67,311.80 313.37,311.80" fill="#e6b02a"/>
<polygon points="319.96,237.82 318.11,234.47 321.81,234.47" fill="#e6b02a"/>
<polygon points="328.39,281.98 326.54,278.63 330.24,278.63" fill="#e6b02a"/>
<polygon points="336.82,338.84 334.97,335.49 338.67,335.49" fill="#e6b02a"/>
<polygon points="345.26,288.92 343.41,285.57 347.11,285.57" fill="#e6b02a"/>
<polygon points="353.69,310.92 351.84,307.57 355.54,307.57" fill="#e6b02a"/>
<polygon points="362.13,257.11 360.28,253.76 363.98,253.76" fill="#e6b02a"/>
<polygon points="370.56,322.42 368.71,319.07 372.41,319.07" fill="#e6b02a"/>
<polygon points="378.99,290.11 377.14,286.76 380.84,286.76" fill="#e6b02a"/>
<polygon points="387.43,254.74 385.58,251.39 389.28,251.39" fill="#e6b02a"/>
<polygon points="395.86,242.73 394.01,239.38 397.71,239.38" fill="#e6b02a"/>
<polygon points="404.30,253.39 402.45,250.04 406.15,250.04" fill="#e6b02a"/>
<polygon points="412.73,264.72 410.88,261.37 414.58,261.37" fill="#e6b02a"/>
<polygon points="421.16,243.91 419.31,240.56 423.01,240.56" fill="#e6b02a"/>
<polygon points="429.60,264.72 427.75,261.37 431.45,261.37" fill="#e6b02a"/>
<polygon points="438.03,297.04 436.18,293.69 439.88,293.69" fill="#e6b02a"/>
<polygon points="446.47,263.20 444.62,259.85 448.32,259.85" fill="#e6b02a"/>
<polygon points="454.90,312.61 453.05,309.26 456.75,309.26" fill="#e6b02a"/>
<polygon points="463.33,248.82 461.48,245.47 465.18,245.47" fill="#e6b02a"/>
<polygon points="471.77,315.83 469.92,312.48 473.62,312.48" fill="#e6b02a"/>
<polygon points="480.20,275.22 478.35,271.87 482.05,271.87" fill="#e6b02a"/>
<polygon points="488.64,241.20 486.79,237.85 490.49,237.85" fill="#e6b02a"/>
<polygon points="497.07,291.97 495.22,288.62 498.92,288.62" fill="#e6b02a"/>
<polygon points="505.50,298.40 503.65,295.05 507.35,295.05" fill="#e6b02a"/>
<polygon points="513.94,275.89 512.09,272.54 515.79,272.54" fill="#e6b02a"/>
<polygon points="522.37,298.90 520.52,295.55 524.22,295.55" fill="#e6b02a"/>
<polygon points="530.81,234.44 528.96,231.09 532.66,231.09" fill="#e6b02a"/>
<polygon points="539.24,254.74 537.39,251.39 541.09,251.39" fill="#e6b02a"/>
<polygon points="547.67,261.34 545.82,257.99 549.52,257.99" fill="#e6b02a"/>
<polygon points="556.11,246.28 554.26,242.93 557.96,242.93" fill="#e6b02a"/>
<polygon points="564.54,280.12 562.69,276.77 566.39,276.77" fill="#e6b02a"/>
<polygon points="572.98,305.50 571.13,302.15 574.83,302.15" fill="#e6b02a"/>
<polygon points="581.41,302.12 579.56,298.77 583.26,298.77" fill="#e6b02a"/>
<polygon points="589.84,237.82 587.99,234.47 591.69,234.47" fill="#e6b02a"/>
<polygon points="598.28,246.28 596.43,242.93 600.13,242.93" fill="#e6b02a"/>
<polygon points="606.71,260.83 604.86,257.48 608.56,257.48" fill="#e6b02a"/>
<polygon points="615.15,263.20 613.30,259.85 617.00,259.85" fill="#e6b02a"/>
<polygon points="623.58,302.63 621.73,299.28 625.43,299.28" fill="#e6b02a"/>
<polygon points="632.01,237.82 630.16,234.47 633.86,234.47" fill="#e6b02a"/>
<polygon points="35.10,320.52 31.75,318.67 31.75,322.37" fill="#ff20ff"/>
<polygon points="43.53,300.22 40.18,298.37 40.18,302.07" fill="#ff20ff"/>
<polygon points="51.97,361.98 48.62,360.13 48.62,363.83" fill="#ff20ff"/>
<polygon points="60.40,364.52 57.05,362.67 57.05,366.37" fill="#ff20ff"/>
<polygon points="68.84,325.77 65.49,323.92 65.49,327.62" fill="#ff20ff"/>
<polygon points="77.27,340.32 73.92,338.47 73.92,342.17" fill="#ff20ff"/>
<polygon points="85.70,346.92 82.35,345.07 82.35,348.77" fill="#ff20ff"/>
<polygon points="94.14,369.93 90.79,368.08 90.79,371.78" fill="#ff20ff"/>
<polygon points="102.57,377.72 99.22,375.87 99.22,379.57" fill="#ff20ff"/>
<polygon points="111.01,334.57 107.66,332.72 107.66,336.42" fill="#ff20ff"/>
<polygon points="119.44,314.43 116.09,312.58 116.09,316.28" fill="#ff20ff"/>
<polygon points="127.87,356.23 124.52,354.38 124.52,358.08" fill="#ff20ff"/>
<polygon points="136.31,295.14 132.96,293.29 132.96,296.99" fill="#ff20ff"/>
<polygon points="144.74,312.57 141.39,310.72 141.39,314.42" fill="#ff20ff"/>
<polygon points="153.18,348.27 149.83,346.42 149.83,350.12" fill="#ff20ff"/>
<polygon points="161.61,342.01 158.26,340.16 158.26,343.86" fill="#ff20ff"/>
<polygon points="170.04,359.44 166.69,357.59 166.69,361.29" fill="#ff20ff"/>
<polygon points="178.48,318.83 175.13,316.98 175.13,320.68" fill="#ff20ff"/>
<polygon points="186.91,363.33 183.56,361.48 183.56,365.18" fill="#ff20ff"/>
<polygon points="195.35,354.37 192.00,352.52 192.00,356.22" fill="#ff20ff"/>
<polygon points="203.78,357.07 200.43,355.22 200.43,358.92" fill="#ff20ff"/>
<polygon points="212.21,362.49 208.86,360.64 208.86,364.34" fill="#ff20ff"/>
<polygon points="220.65,319.00 217.30,317.15 217.30,320.85" fill="#ff20ff"/>
<polygon points="229.08,326.95 225.73,325.10 225.73,328.80" fill="#ff20ff"/>
<polygon points="237.52,365.03 234.17,363.18 234.17,366.88" fill="#ff20ff"/>
<polygon points="245.95,373.32 242.60,371.47 242.60,375.17" fill="#ff20ff"/>
<polygon points="254.38,349.46 251.03,347.61 251.03,351.31" fill="#ff20ff"/>
<polygon points="262.82,355.21 259.47,353.36 259.47,357.06" fill="#ff20ff"/>
<polygon points="271.25,371.29 267.90,369.44 267.90,373.14" fill="#ff20ff"/>
<polygon points="279.69,303.27 276.34,301.42 276.34,305.12" fill="#ff20ff"/>
<polygon points="288.12,295.82 284.77,293.97 284.77,297.67" fill="#ff20ff"/>
<polygon points="296.55,369.59 293.20,367.74 293.20,371.44" fill="#ff20ff"/>
<polygon points="304.99,328.82 301.64,326.97 301.64,330.67" fill="#ff20ff"/>
<polygon points="313.42,347.60 310.07,345.75 310.07,349.45" fill="#ff20ff"/>
<polygon points="321.86,244.38 318.51,242.53 318.51,246.23" fill="#ff20ff"/>
<polygon points="330.29,314.43 326.94,312.58 326.94,316.28" fill="#ff20ff"/>
<polygon points="338.72,346.92 335.37,345.07 335.37,348.77" fill="#ff20ff"/>
<polygon points="347.16,360.80 343.81,358.95 343.81,362.65" fill="#ff20ff"/>
<polygon points="355.59,366.21 352.24,364.36 352.24,368.06" fill="#ff20ff"/>
<polygon points="364.03,257.58 360.68,255.73 360.68,259.43" fill="#ff20ff"/>
<polygon points="372.46,333.72 369.11,331.87 369.11,335.57" fill="#ff20ff"/>
<polygon points="380.89,276.19 377.54,274.34 377.54,278.04" fill="#ff20ff"/>
<polygon points="389.33,306.48 385.98,304.63 385.98,308.33" fill="#ff20ff"/>
<polygon points="397.76,265.02 394.41,263.17 394.41,266.87" fill="#ff20ff"/>
<polygon points="406.20,285.33 402.85,283.48 402.85,287.18" fill="#ff20ff"/>
<polygon points="414.63,280.76 411.28,278.91 411.28,282.61" fill="#ff20ff"/>
<polygon points="423.06,244.38 419.71,242.53 419.71,246.23" fill="#ff20ff"/>
<polygon points="431.50,265.70 428.15,263.85 428.15,267.55" fill="#ff20ff"/>
<polygon points="439.93,306.99 436.58,305.14 436.58,308.84" fill="#ff20ff"/>
<polygon points="448.37,265.70 445.02,263.85 445.02,267.55" fill="#ff20ff"/>
<polygon points="456.80,320.69 453.45,318.84 453.45,322.54" fill="#ff20ff"/>
<polygon points="465.23,264.01 461.88,262.16 461.88,265.86" fill="#ff20ff"/>
<polygon points="473.67,308.17 470.32,306.32 470.32,310.02" fill="#ff20ff"/>
<polygon points="482.10,323.23 478.75,321.38 478.75,325.08" fill="#ff20ff"/>
<polygon points="490.54,244.38 487.19,242.53 487.19,246.23" fill="#ff20ff"/>
<polygon points="498.97,271.45 495.62,269.60 495.62,273.30" fill="#ff20ff"/>
<polygon points="507.40,355.72 504.05,353.87 504.05,357.57" fill="#ff20ff"/>
<polygon points="515.84,287.02 512.49,285.17 512.49,288.87" fill="#ff20ff"/>
<polygon points="524.27,307.50 520.92,305.65 520.92,309.35" fill="#ff20ff"/>
<polygon points="532.71,239.30 529.36,237.45 529.36,241.15" fill="#ff20ff"/>
<polygon points="541.14,238.29 537.79,236.44 537.79,240.14" fill="#ff20ff"/>
<polygon points="549.57,243.20 546.22,241.35 546.22,245.05" fill="#ff20ff"/>
<polygon points="558.01,266.55 554.66,264.70 554.66,268.40" fill="#ff20ff"/>
<polygon points="566.44,286.68 563.09,284.83 563.09,288.53" fill="#ff20ff"/>
<polygon points="574.88,306.99 571.53,305.14 571.53,308.84" fill="#ff20ff"/>
<polygon points="583.31,290.07 579.96,288.22 579.96,291.92" fill="#ff20ff"/>
<polygon points="591.74,250.81 588.39,248.96 588.39,252.66" fill="#ff20ff"/>
<polygon points="600.18,249.46 596.83,247.61 596.83,251.31" fill="#ff20ff"/>
<polygon points="608.61,284.99 605.26,283.14 605.26,286.84" fill="#ff20ff"/>
<polygon points="617.05,256.23 613.70,254.38 613.70,258.08" fill="#ff20ff"/>
<polygon points="625.48,306.48 622.13,304.63 622.13,308.33" fill="#ff20ff"/>
<polygon points="633.91,242.69 630.56,240.84 630.56,244.54" fill="#ff20ff"/>
<polygon points="31.30,324.92 34.65,323.07 34.65,326.77" fill="#000"/>
<polygon points="39.73,301.57 43.08,299.72 43.08,303.42" fill="#000"/>
<polygon points="48.17,365.03 51.52,363.18 51.52,366.88" fill="#000"/>
<polygon points="56.60,357.75 59.95,355.90 59.95,359.60" fill="#000"/>
<polygon points="65.04,306.99 68.39,305.14 68.39,308.84" fill="#000"/>
<polygon points="73.47,354.54 76.82,352.69 76.82,356.39" fill="#000"/>
<polygon points="81.90,324.92 85.25,323.07 85.25,326.77" fill="#000"/>
<polygon points="90.34,369.09 93.69,367.24 93.69,370.94" fill="#000"/>
<polygon points="98.77,340.32 102.12,338.47 102.12,342.17" fill="#000"/>
<polygon points="107.21,299.04 110.56,297.19 110.56,300.89" fill="#000"/>
<polygon points="115.64,303.94 118.99,302.09 118.99,305.79" fill="#000"/>
<polygon points="124.07,340.32 127.42,338.47 127.42,342.17" fill="#000"/>
<polygon points="132.51,303.94 135.86,302.09 135.86,305.79" fill="#000"/>
<polygon points="140.94,332.71 144.29,330.86 144.29,334.56" fill="#000"/>
<polygon points="149.38,342.52 152.73,340.67 152.73,344.37" fill="#000"/>
<polygon points="157.81,354.54 161.16,352.69 161.16,356.39" fill="#000"/>
<polygon points="166.24,344.55 169.59,342.70 169.59,346.40" fill="#000"/>
<polygon points="174.68,337.45 178.03,335.60 178.03,339.30" fill="#000"/>
<polygon points="183.11,353.18 186.46,351.33 186.46,355.03" fill="#000"/>
<polygon points="191.55,338.29 194.90,336.44 194.90,340.14" fill="#000"/>
<polygon points="199.98,293.28 203.33,291.43 203.33,295.13" fill="#000"/>
<polygon points="208.41,326.95 211.76,325.10 211.76,328.80" fill="#000"/>
<polygon points="216.85,329.49 220.20,327.64 220.20,331.34" fill="#000"/>
<polygon points="225.28,279.07 228.63,277.22 228.63,280.92" fill="#000"/>
<polygon points="233.72,328.31 237.07,326.46 237.07,330.16" fill="#000"/>
<polygon points="242.15,369.93 245.50,368.08 245.50,371.78" fill="#000"/>
<polygon points="250.58,327.46 253.93,325.61 253.93,329.31" fill="#000"/>
<polygon points="259.02,346.92 262.37,345.07 262.37,348.77" fill="#000"/>
<polygon points="267.45,355.04 270.80,353.19 270.80,356.89" fill="#000"/>
<polygon points="275.89,290.74 279.24,288.89 279.24,292.59" fill="#000"/>
<polygon points="284.32,279.07 287.67,277.22 287.67,280.92" fill="#000"/>
<polygon points="292.75,346.92 296.10,345.07 296.10,348.77" fill="#000"/>
<polygon points="301.19,310.71 304.54,308.86 304.54,312.56" fill="#000"/>
<polygon points="309.62,322.05 312.97,320.20 312.97,323.90" fill="#000"/>
<polygon points="318.06,242.01 321.41,240.16 321.41,243.86" fill="#000"/>
<polygon points="326.49,303.60 329.84,301.75 329.84,305.45" fill="#000"/>
<polygon points="334.92,320.69 338.27,318.84 338.27,322.54" fill="#000"/>
<polygon points="343.36,324.92 346.71,323.07 346.71,326.77" fill="#000"/>
<polygon points="351.79,336.43 355.14,334.58 355.14,338.28" fill="#000"/>
<polygon points="360.23,270.78 363.58,268.93 363.58,272.63" fill="#000"/>
<polygon points="368.66,331.18 372.01,329.33 372.01,333.03" fill="#000"/>
<polygon points="377.09,312.74 380.44,310.89 380.44,314.59" fill="#000"/>
<polygon points="385.53,255.04 388.88,253.19 388.88,256.89" fill="#000"/>
<polygon points="393.96,259.95 397.31,258.10 397.31,261.80" fill="#000"/>
<polygon points="402.40,269.76 405.75,267.91 405.75,271.61" fill="#000"/>
<polygon points="410.83,291.42 414.18,289.57 414.18,293.27" fill="#000"/>
<polygon points="419.26,238.97 422.61,237.12 422.61,240.82" fill="#000"/>
<polygon points="427.70,274.50 431.05,272.65 431.05,276.35" fill="#000"/>
<polygon points="436.13,291.42 439.48,289.57 439.48,293.27" fill="#000"/>
<polygon points="444.57,270.78 447.92,268.93 447.92,272.63" fill="#000"/>
<polygon points="453.00,324.92 456.35,323.07 456.35,326.77" fill="#000"/>
<polygon points="461.43,257.07 464.78,255.22 464.78,258.92" fill="#000"/>
<polygon points="469.87,300.73 473.22,298.88 473.22,302.58" fill="#000"/>
<polygon points="478.30,287.02 481.65,285.17 481.65,288.87" fill="#000"/>
<polygon points="486.74,235.07 490.09,233.22 490.09,236.92" fill="#000"/>
<polygon points="495.17,289.05 498.52,287.20 498.52,290.90" fill="#000"/>
<polygon points="503.60,287.02 506.95,285.17 506.95,288.87" fill="#000"/>
<polygon points="512.04,275.68 515.39,273.83 515.39,277.53" fill="#000"/>
<polygon points="520.47,273.82 523.82,271.97 523.82,275.67" fill="#000"/>
<polygon points="528.91,237.44 532.26,235.59 532.26,239.29" fill="#000"/>
<polygon points="537.34,257.58 540.69,255.73 540.69,259.43" fill="#000"/>
<polygon points="545.77,248.27 549.12,246.42 549.12,250.12" fill="#000"/>
<polygon points="554.21,255.04 557.56,253.19 557.56,256.89" fill="#000"/>
<polygon points="562.64,306.99 565.99,305.14 565.99,308.84" fill="#000"/>
<polygon points="571.08,320.52 574.43,318.67 574.43,322.37" fill="#000"/>
<polygon points="579.51,306.99 582.86,305.14 582.86,308.84" fill="#000"/>
<polygon points="587.94,235.07 591.29,233.22 591.29,236.92" fill="#000"/>
<polygon points="596.38,254.53 599.73,252.68 599.73,256.38" fill="#000"/>
<polygon points="604.81,235.92 608.16,234.07 608.16,237.77" fill="#000"/>
<polygon points="613.25,250.81 616.60,248.96 616.60,252.66" fill="#000"/>
<polygon points="621.68,295.14 625.03,293.29 625.03,296.99" fill="#000"/>
<polygon points="630.11,241.50 633.46,239.65 633.46,243.35" fill="#000"/>
<polygon points="33.20,305.66 34.70,307.66 33.20,309.66 31.70,307.66" fill="#7a2e8c"/>
<polygon points="41.63,315.48 43.13,317.48 41.63,319.48 40.13,317.48" fill="#7a2e8c"/>
<polygon points="50.07,359.47 51.57,361.47 50.07,363.47 48.57,361.47" fill="#7a2e8c"/>
<polygon points="58.50,355.07 60.00,357.07 58.50,359.07 57.00,357.07" fill="#7a2e8c"/>
<polygon points="66.94,313.79 68.44,315.79 66.94,317.79 65.44,315.79" fill="#7a2e8c"/>
<polygon points="75.37,359.47 76.87,361.47 75.37,363.47 73.87,361.47" fill="#7a2e8c"/>
<polygon points="83.80,331.72 85.30,333.72 83.80,335.72 82.30,333.72" fill="#7a2e8c"/>
<polygon points="92.24,375.55 93.74,377.55 92.24,379.55 90.74,377.55" fill="#7a2e8c"/>
<polygon points="100.67,346.27 102.17,348.27 100.67,350.27 99.17,348.27" fill="#7a2e8c"/>
<polygon points="109.11,293.82 110.61,295.82 109.11,297.82 107.61,295.82" fill="#7a2e8c"/>
<polygon points="117.54,304.48 119.04,306.48 117.54,308.48 116.04,306.48" fill="#7a2e8c"/>
<polygon points="125.97,334.94 127.47,336.94 125.97,338.94 124.47,336.94" fill="#7a2e8c"/>
<polygon points="134.41,289.42 135.91,291.42 134.41,293.42 132.91,291.42" fill="#7a2e8c"/>
<polygon points="142.84,326.31 144.34,328.31 142.84,330.31 141.34,328.31" fill="#7a2e8c"/>
<polygon points="151.28,334.94 152.78,336.94 151.28,338.94 149.78,336.94" fill="#7a2e8c"/>
<polygon points="159.71,364.21 161.21,366.21 159.71,368.21 158.21,366.21" fill="#7a2e8c"/>
<polygon points="168.14,350.00 169.64,352.00 168.14,354.00 166.64,352.00" fill="#7a2e8c"/>
<polygon points="176.58,329.18 178.08,331.18 176.58,333.18 175.08,331.18" fill="#7a2e8c"/>
<polygon points="185.01,347.46 186.51,349.46 185.01,351.46 183.51,349.46" fill="#7a2e8c"/>
<polygon points="193.45,355.58 194.95,357.58 193.45,359.58 191.95,357.58" fill="#7a2e8c"/>
<polygon points="201.88,301.27 203.38,303.27 201.88,305.27 200.38,303.27" fill="#7a2e8c"/>
<polygon points="210.31,342.55 211.81,344.55 210.31,346.55 208.81,344.55" fill="#7a2e8c"/>
<polygon points="218.75,322.59 220.25,324.59 218.75,326.59 217.25,324.59" fill="#7a2e8c"/>
<polygon points="227.18,288.24 228.68,290.24 227.18,292.24 225.68,290.24" fill="#7a2e8c"/>
<polygon points="235.62,343.23 237.12,345.23 235.62,347.23 234.12,345.23" fill="#7a2e8c"/>
<polygon points="244.05,361.67 245.55,363.67 244.05,365.67 242.55,363.67" fill="#7a2e8c"/>
<polygon points="252.48,338.83 253.98,340.83 252.48,342.83 250.98,340.83" fill="#7a2e8c"/>
<polygon points="260.92,361.33 262.42,363.33 260.92,365.33 259.42,363.33" fill="#7a2e8c"/>
<polygon points="269.35,343.23 270.85,345.23 269.35,347.23 267.85,345.23" fill="#7a2e8c"/>
<polygon points="277.79,277.07 279.29,279.07 277.79,281.07 276.29,279.07" fill="#7a2e8c"/>
<polygon points="286.22,276.22 287.72,278.22 286.22,280.22 284.72,278.22" fill="#7a2e8c"/>
<polygon points="294.65,333.75 296.15,335.75 294.65,337.75 293.15,335.75" fill="#7a2e8c"/>
<polygon points="303.09,315.48 304.59,317.48 303.09,319.48 301.59,317.48" fill="#7a2e8c"/>
<polygon points="311.52,298.05 313.02,300.05 311.52,302.05 310.02,300.05" fill="#7a2e8c"/>
<polygon points="319.96,233.75 321.46,235.75 319.96,237.75 318.46,235.75" fill="#7a2e8c"/>
<polygon points="328.39,306.17 329.89,308.17 328.39,310.17 326.89,308.17" fill="#7a2e8c"/>
<polygon points="336.82,330.54 338.32,332.54 336.82,334.54 335.32,332.54" fill="#7a2e8c"/>
<polygon points="345.26,325.46 346.76,327.46 345.26,329.46 343.76,327.46" fill="#7a2e8c"/>
<polygon points="353.69,330.03 355.19,332.03 353.69,334.03 352.19,332.03" fill="#7a2e8c"/>
<polygon points="362.13,275.55 363.63,277.55 362.13,279.55 360.63,277.55" fill="#7a2e8c"/>
<polygon points="370.56,311.25 372.06,313.25 370.56,315.25 369.06,313.25" fill="#7a2e8c"/>
<polygon points="378.99,292.47 380.49,294.47 378.99,296.47 377.49,294.47" fill="#7a2e8c"/>
<polygon points="387.43,244.92 388.93,246.92 387.43,248.92 385.93,246.92" fill="#7a2e8c"/>
<polygon points="395.86,244.92 397.36,246.92 395.86,248.92 394.36,246.92" fill="#7a2e8c"/>
<polygon points="404.30,269.29 405.80,271.29 404.30,273.29 402.80,271.29" fill="#7a2e8c"/>
<polygon points="412.73,288.07 414.23,290.07 412.73,292.07 411.23,290.07" fill="#7a2e8c"/>
<polygon points="421.16,244.92 422.66,246.92 421.16,248.92 419.66,246.92" fill="#7a2e8c"/>
<polygon points="429.60,269.96 431.10,271.96 429.60,273.96 428.10,271.96" fill="#7a2e8c"/>
<polygon points="438.03,313.79 439.53,315.79 438.03,317.79 436.53,315.79" fill="#7a2e8c"/>
<polygon points="446.47,267.76 447.97,269.76 446.47,271.76 444.97,269.76" fill="#7a2e8c"/>
<polygon points="454.90,314.97 456.40,316.97 454.90,318.97 453.40,316.97" fill="#7a2e8c"/>
<polygon points="463.33,271.82 464.83,273.82 463.33,275.82 461.83,273.82" fill="#7a2e8c"/>
<polygon points="471.77,304.48 473.27,306.48 471.77,308.48 470.27,306.48" fill="#7a2e8c"/>
<polygon points="480.20,295.00 481.70,297.00 480.20,299.00 478.70,297.00" fill="#7a2e8c"/>
<polygon points="488.64,247.46 490.14,249.46 488.64,251.46 487.14,249.46" fill="#7a2e8c"/>
<polygon points="497.07,290.44 498.57,292.44 497.07,294.44 495.57,292.44" fill="#7a2e8c"/>
<polygon points="505.50,297.54 507.00,299.54 505.50,301.54 504.00,299.54" fill="#7a2e8c"/>
<polygon points="513.94,291.28 515.44,293.28 513.94,295.28 512.44,293.28" fill="#7a2e8c"/>
<polygon points="522.37,291.28 523.87,293.28 522.37,295.28 520.87,293.28" fill="#7a2e8c"/>
<polygon points="530.81,241.20 532.31,243.20 530.81,245.20 529.31,243.20" fill="#7a2e8c"/>
<polygon points="539.24,248.81 540.74,250.81 539.24,252.81 537.74,250.81" fill="#7a2e8c"/>
<polygon points="547.67,249.49 549.17,251.49 547.67,253.49 546.17,251.49" fill="#7a2e8c"/>
<polygon points="556.11,247.96 557.61,249.96 556.11,251.96 554.61,249.96" fill="#7a2e8c"/>
<polygon points="564.54,282.48 566.04,284.48 564.54,286.48 563.04,284.48" fill="#7a2e8c"/>
<polygon points="572.98,301.27 574.48,303.27 572.98,305.27 571.48,303.27" fill="#7a2e8c"/>
<polygon points="581.41,293.14 582.91,295.14 581.41,297.14 579.91,295.14" fill="#7a2e8c"/>
<polygon points="589.84,225.46 591.34,227.46 589.84,229.46 588.34,227.46" fill="#7a2e8c"/>
<polygon points="598.28,234.43 599.78,236.43 598.28,238.43 596.78,236.43" fill="#7a2e8c"/>
<polygon points="606.71,230.54 608.21,232.54 606.71,234.54 605.21,232.54" fill="#7a2e8c"/>
<polygon points="615.15,262.52 616.65,264.52 615.15,266.52 613.65,264.52" fill="#7a2e8c"/>
<polygon points="623.58,292.47 625.08,294.47 623.58,296.47 622.08,294.47" fill="#7a2e8c"/>
<polygon points="632.01,237.30 633.51,239.30 632.01,241.30 630.51,239.30" fill="#7a2e8c"/>
</g>
<text x="29.700000000000003" y="374.19" font-size="8.2" fill="#2a2a2a" text-anchor="end">10</text>
<text x="29.700000000000003" y="357.27" font-size="8.2" fill="#2a2a2a" text-anchor="end">20</text>
<text x="29.700000000000003" y="340.35" font-size="8.2" fill="#2a2a2a" text-anchor="end">30</text>
<text x="29.700000000000003" y="323.42" font-size="8.2" fill="#2a2a2a" text-anchor="end">40</text>
<text x="29.700000000000003" y="306.50" font-size="8.2" fill="#2a2a2a" text-anchor="end">50</text>
<text x="29.700000000000003" y="289.58" font-size="8.2" fill="#2a2a2a" text-anchor="end">60</text>
<text x="29.700000000000003" y="272.66" font-size="8.2" fill="#2a2a2a" text-anchor="end">70</text>
<text x="29.700000000000003" y="255.74" font-size="8.2" fill="#2a2a2a" text-anchor="end">80</text>
<text x="29.700000000000003" y="238.82" font-size="8.2" fill="#2a2a2a" text-anchor="end">90</text>
<text x="29.700000000000003" y="221.90" font-size="8.2" fill="#2a2a2a" text-anchor="end">100</text>
<text transform="translate(36.10,389.6) rotate(-90)" font-size="8.2" fill="#2a2a2a" text-anchor="end">1</text>
<text transform="translate(44.53,389.6) rotate(-90)" font-size="8.2" fill="#2a2a2a" text-anchor="end">2</text>
<text transform="translate(52.97,389.6) rotate(-90)" font-size="8.2" fill="#2a2a2a" text-anchor="end">4</text>
<text transform="translate(61.40,389.6) rotate(-90)" font-size="8.2" fill="#2a2a2a" text-anchor="end">5</text>
<text transform="translate(69.84,389.6) rotate(-90)" font-size="8.2" fill="#2a2a2a" text-anchor="end">6</text>
<text transform="translate(78.27,389.6) rotate(-90)" font-size="8.2" fill="#2a2a2a" text-anchor="end">7</text>
<text transform="translate(86.70,389.6) rotate(-90)" font-size="8.2" fill="#2a2a2a" text-anchor="end">8</text>
<text transform="translate(95.14,389.6) rotate(-90)" font-size="8.2" fill="#2a2a2a" text-anchor="end">9</text>
<text transform="translate(103.57,389.6) rotate(-90)" font-size="8.2" fill="#2a2a2a" text-anchor="end">10</text>
<text transform="translate(112.01,389.6) rotate(-90)" font-size="8.2" fill="#2a2a2a" text-anchor="end">11</text>
<text transform="translate(120.44,389.6) rotate(-90)" font-size="8.2" fill="#2a2a2a" text-anchor="end">12</text>
<text transform="translate(128.87,389.6) rotate(-90)" font-size="8.2" fill="#2a2a2a" text-anchor="end">13</text>
<text transform="translate(137.31,389.6) rotate(-90)" font-size="8.2" fill="#2a2a2a" text-anchor="end">14</text>
<text transform="translate(145.74,389.6) rotate(-90)" font-size="8.2" fill="#2a2a2a" text-anchor="end">15</text>
<text transform="translate(154.18,389.6) rotate(-90)" font-size="8.2" fill="#2a2a2a" text-anchor="end">19</text>
<text transform="translate(162.61,389.6) rotate(-90)" font-size="8.2" fill="#2a2a2a" text-anchor="end">25</text>
<text transform="translate(171.04,389.6) rotate(-90)" font-size="8.2" fill="#2a2a2a" text-anchor="end">29</text>
<text transform="translate(179.48,389.6) rotate(-90)" font-size="8.2" fill="#2a2a2a" text-anchor="end">31</text>
<text transform="translate(187.91,389.6) rotate(-90)" font-size="8.2" fill="#2a2a2a" text-anchor="end">33</text>
<text transform="translate(196.35,389.6) rotate(-90)" font-size="8.2" fill="#2a2a2a" text-anchor="end">36</text>
<text transform="translate(204.78,389.6) rotate(-90)" font-size="8.2" fill="#2a2a2a" text-anchor="end">38</text>
<text transform="translate(213.21,389.6) rotate(-90)" font-size="8.2" fill="#2a2a2a" text-anchor="end">44</text>
<text transform="translate(221.65,389.6) rotate(-90)" font-size="8.2" fill="#2a2a2a" text-anchor="end">47</text>
<text transform="translate(230.08,389.6) rotate(-90)" font-size="8.2" fill="#2a2a2a" text-anchor="end">55</text>
<text transform="translate(238.52,389.6) rotate(-90)" font-size="8.2" fill="#2a2a2a" text-anchor="end">57</text>
<text transform="translate(246.95,389.6) rotate(-90)" font-size="8.2" fill="#2a2a2a" text-anchor="end">58</text>
<text transform="translate(255.38,389.6) rotate(-90)" font-size="8.2" fill="#2a2a2a" text-anchor="end">59</text>
<text transform="translate(263.82,389.6) rotate(-90)" font-size="8.2" fill="#2a2a2a" text-anchor="end">60</text>
<text transform="translate(272.25,389.6) rotate(-90)" font-size="8.2" fill="#2a2a2a" text-anchor="end">61</text>
<text transform="translate(280.69,389.6) rotate(-90)" font-size="8.2" fill="#2a2a2a" text-anchor="end">62</text>
<text transform="translate(289.12,389.6) rotate(-90)" font-size="8.2" fill="#2a2a2a" text-anchor="end">63</text>
<text transform="translate(297.55,389.6) rotate(-90)" font-size="8.2" fill="#2a2a2a" text-anchor="end">64</text>
<text transform="translate(305.99,389.6) rotate(-90)" font-size="8.2" fill="#2a2a2a" text-anchor="end">65</text>
<text transform="translate(314.42,389.6) rotate(-90)" font-size="8.2" fill="#2a2a2a" text-anchor="end">70</text>
<text transform="translate(322.86,389.6) rotate(-90)" font-size="8.2" fill="#2a2a2a" text-anchor="end">71</text>
<text transform="translate(331.29,389.6) rotate(-90)" font-size="8.2" fill="#2a2a2a" text-anchor="end">74</text>
<text transform="translate(339.72,389.6) rotate(-90)" font-size="8.2" fill="#2a2a2a" text-anchor="end">82</text>
<text transform="translate(348.16,389.6) rotate(-90)" font-size="8.2" fill="#2a2a2a" text-anchor="end">87</text>
<text transform="translate(356.59,389.6) rotate(-90)" font-size="8.2" fill="#2a2a2a" text-anchor="end">88</text>
<text transform="translate(365.03,389.6) rotate(-90)" font-size="8.2" fill="#2a2a2a" text-anchor="end">107</text>
<text transform="translate(373.46,389.6) rotate(-90)" font-size="8.2" fill="#2a2a2a" text-anchor="end">115</text>
<text transform="translate(381.89,389.6) rotate(-90)" font-size="8.2" fill="#2a2a2a" text-anchor="end">122</text>
<text transform="translate(390.33,389.6) rotate(-90)" font-size="8.2" fill="#2a2a2a" text-anchor="end">123</text>
<text transform="translate(398.76,389.6) rotate(-90)" font-size="8.2" fill="#2a2a2a" text-anchor="end">127</text>
<text transform="translate(407.20,389.6) rotate(-90)" font-size="8.2" fill="#2a2a2a" text-anchor="end">129</text>
<text transform="translate(415.63,389.6) rotate(-90)" font-size="8.2" fill="#2a2a2a" text-anchor="end">136</text>
<text transform="translate(424.06,389.6) rotate(-90)" font-size="8.2" fill="#2a2a2a" text-anchor="end">139</text>
<text transform="translate(432.50,389.6) rotate(-90)" font-size="8.2" fill="#2a2a2a" text-anchor="end">140</text>
<text transform="translate(440.93,389.6) rotate(-90)" font-size="8.2" fill="#2a2a2a" text-anchor="end">141</text>
<text transform="translate(449.37,389.6) rotate(-90)" font-size="8.2" fill="#2a2a2a" text-anchor="end">146</text>
<text transform="translate(457.80,389.6) rotate(-90)" font-size="8.2" fill="#2a2a2a" text-anchor="end">148</text>
<text transform="translate(466.23,389.6) rotate(-90)" font-size="8.2" fill="#2a2a2a" text-anchor="end">156</text>
<text transform="translate(474.67,389.6) rotate(-90)" font-size="8.2" fill="#2a2a2a" text-anchor="end">160</text>
<text transform="translate(483.10,389.6) rotate(-90)" font-size="8.2" fill="#2a2a2a" text-anchor="end">164</text>
<text transform="translate(491.54,389.6) rotate(-90)" font-size="8.2" fill="#2a2a2a" text-anchor="end">166</text>
<text transform="translate(499.97,389.6) rotate(-90)" font-size="8.2" fill="#2a2a2a" text-anchor="end">173</text>
<text transform="translate(508.40,389.6) rotate(-90)" font-size="8.2" fill="#2a2a2a" text-anchor="end">176</text>
<text transform="translate(516.84,389.6) rotate(-90)" font-size="8.2" fill="#2a2a2a" text-anchor="end">186</text>
<text transform="translate(525.27,389.6) rotate(-90)" font-size="8.2" fill="#2a2a2a" text-anchor="end">187</text>
<text transform="translate(533.71,389.6) rotate(-90)" font-size="8.2" fill="#2a2a2a" text-anchor="end">189</text>
<text transform="translate(542.14,389.6) rotate(-90)" font-size="8.2" fill="#2a2a2a" text-anchor="end">191</text>
<text transform="translate(550.57,389.6) rotate(-90)" font-size="8.2" fill="#2a2a2a" text-anchor="end">193</text>
<text transform="translate(559.01,389.6) rotate(-90)" font-size="8.2" fill="#2a2a2a" text-anchor="end">194</text>
<text transform="translate(567.44,389.6) rotate(-90)" font-size="8.2" fill="#2a2a2a" text-anchor="end">198</text>
<text transform="translate(575.88,389.6) rotate(-90)" font-size="8.2" fill="#2a2a2a" text-anchor="end">205</text>
<text transform="translate(584.31,389.6) rotate(-90)" font-size="8.2" fill="#2a2a2a" text-anchor="end">216</text>
<text transform="translate(592.74,389.6) rotate(-90)" font-size="8.2" fill="#2a2a2a" text-anchor="end">221</text>
<text transform="translate(601.18,389.6) rotate(-90)" font-size="8.2" fill="#2a2a2a" text-anchor="end">223</text>
<text transform="translate(609.61,389.6) rotate(-90)" font-size="8.2" fill="#2a2a2a" text-anchor="end">225</text>
<text transform="translate(618.05,389.6) rotate(-90)" font-size="8.2" fill="#2a2a2a" text-anchor="end">227</text>
<text transform="translate(626.48,389.6) rotate(-90)" font-size="8.2" fill="#2a2a2a" text-anchor="end">229</text>
<text transform="translate(634.91,389.6) rotate(-90)" font-size="8.2" fill="#2a2a2a" text-anchor="end">230</text>
<text transform="translate(13.2,303) rotate(-90)" font-size="9.2" font-weight="bold" fill="#1a1a1a" text-anchor="middle">Accuracy (%)</text>
<text x="332.8" y="411.6" font-size="9.3" font-weight="bold" fill="#1a1a1a" text-anchor="middle">Space Groups (SG)</text>
<rect x="37.2" y="225.8" width="80.6" height="15.8" fill="#fff" stroke="#111" stroke-width="1"/>
<text x="77.6" y="237.90000000000003" font-size="11.5" font-weight="bold" fill="#000" text-anchor="middle">72 SG Dataset</text>
<rect x="534.5" y="314.5" width="93" height="68.5" fill="#fff" stroke="#cfcfcf" stroke-width="0.7"/>
<path d="M536.0 319.6H550.5" stroke="#e0402a" stroke-width="1.3" stroke-dasharray="3 2"/>
<path d="M544.29 319.72L547.36 320.18M544.07 320.16L546.28 322.34M543.63 320.39L544.14 323.45M543.14 320.32L541.75 323.09M542.79 319.97L540.04 321.40M542.71 319.48L539.64 319.02M542.93 319.04L540.72 316.86M543.37 318.81L542.86 315.75M543.86 318.88L545.25 316.11M544.21 319.23L546.96 317.80" stroke="#ee3a2a" stroke-width="0.95" stroke-opacity="0.85"/><circle cx="543.50" cy="319.60" r="1.80" fill="#ee1010"/>
<text x="553.5" y="322.3" font-size="7.6" fill="#262626" textLength="64.2" lengthAdjust="spacingAndGlyphs">Shaped DPs+MSDN</text>
<path d="M536.0 327.9H550.5" stroke="#70a070" stroke-width="0.5" stroke-opacity="0.6"/>
<circle cx="543.50" cy="327.90" r="1.40" fill="#35e035"/>
<text x="553.5" y="330.59999999999997" font-size="7.6" fill="#262626" textLength="69.3" lengthAdjust="spacingAndGlyphs">Shaped DPs+MSVGG</text>
<path d="M536.0 336.1H550.5" stroke="#808060" stroke-width="0.5" stroke-opacity="0.6"/>
<polygon points="543.50,334.20 541.65,337.55 545.35,337.55" fill="#8c9440"/>
<text x="553.5" y="338.8" font-size="7.6" fill="#262626" textLength="72.7" lengthAdjust="spacingAndGlyphs">Spot DPs+Ziletti et al.</text>
<path d="M536.0 344.3H550.5" stroke="#606090" stroke-width="0.5" stroke-opacity="0.6"/>
<circle cx="543.50" cy="344.30" r="1.40" fill="#1010e0"/>
<text x="553.5" y="347.0" font-size="7.6" fill="#262626" textLength="60.9" lengthAdjust="spacingAndGlyphs">Spot DPs+AlexNet</text>
<path d="M536.0 352.6H550.5" stroke="#a09060" stroke-width="0.5" stroke-opacity="0.6"/>
<polygon points="543.50,354.50 541.65,351.15 545.35,351.15" fill="#e6b02a"/>
<text x="553.5" y="355.3" font-size="7.6" fill="#262626" textLength="66.8" lengthAdjust="spacingAndGlyphs">Spot DPs+DenseNet</text>
<path d="M536.0 360.8H550.5" stroke="#a070a0" stroke-width="0.5" stroke-opacity="0.6"/>
<polygon points="545.40,360.80 542.05,358.95 542.05,362.65" fill="#ff20ff"/>
<text x="553.5" y="363.5" font-size="7.6" fill="#262626" textLength="66.4" lengthAdjust="spacingAndGlyphs">Spot DPs+ResNet18</text>
<path d="M536.0 369.1H550.5" stroke="#404040" stroke-width="0.5" stroke-opacity="0.6"/>
<polygon points="541.60,369.10 544.95,367.25 544.95,370.95" fill="#000"/>
<text x="553.5" y="371.8" font-size="7.6" fill="#262626" textLength="66.4" lengthAdjust="spacingAndGlyphs">Spot DPs+ResNet34</text>
<path d="M536.0 377.3H550.5" stroke="#706080" stroke-width="0.5" stroke-opacity="0.6"/>
<polygon points="543.50,375.30 545.00,377.30 543.50,379.30 542.00,377.30" fill="#7a2e8c"/>
<text x="553.5" y="380.0" font-size="7.6" fill="#262626" textLength="60.9" lengthAdjust="spacingAndGlyphs">Spot DPs+VGGNet</text>
<text x="1.5" y="440" font-size="19" font-weight="bold" fill="#000">c</text>
<rect x="38.3" y="437.7" width="79.4" height="15.9" fill="#fff" stroke="#111" stroke-width="1"/>
<text x="78.0" y="449.7" font-size="11.2" font-weight="bold" fill="#000" text-anchor="middle">49 SG dataset</text>
<rect x="40" y="464.4" width="166.6" height="127.60000000000002" fill="#fff"/>
<path d="M60.83 464.4V592M81.66 464.4V592M102.49 464.4V592M123.32 464.4V592M144.15 464.4V592M164.98 464.4V592M185.81 464.4V592M40 592.00H206.6M40 573.24H206.6M40 554.47H206.6M40 535.71H206.6M40 516.94H206.6M40 498.18H206.6M40 479.41H206.6" stroke="#e4e4e4" stroke-width="0.6" fill="none"/>
<clipPath id="clipc"><rect x="40" y="464.4" width="166.6" height="127.60000000000002"/></clipPath>
<g clip-path="url(#clipc)">
<rect x="54.63" y="553.53" width="6.2" height="38.47" fill="#7030a0"/>
<rect x="60.83" y="497.99" width="6.2" height="94.01" fill="#ff0000"/>
<rect x="75.46" y="579.05" width="6.2" height="12.95" fill="#7030a0"/>
<rect x="81.66" y="535.33" width="6.2" height="56.67" fill="#ff0000"/>
<rect x="96.29" y="556.91" width="6.2" height="35.09" fill="#7030a0"/>
<rect x="102.49" y="545.46" width="6.2" height="46.54" fill="#ff0000"/>
<rect x="117.12" y="516.38" width="6.2" height="75.62" fill="#7030a0"/>
<rect x="123.32" y="491.98" width="6.2" height="100.02" fill="#ff0000"/>
<rect x="137.95" y="511.31" width="6.2" height="80.69" fill="#7030a0"/>
<rect x="144.15" y="468.15" width="6.2" height="123.85" fill="#ff0000"/>
<rect x="158.78" y="512.06" width="6.2" height="79.94" fill="#7030a0"/>
<rect x="164.98" y="470.03" width="6.2" height="121.97" fill="#ff0000"/>
<rect x="179.61" y="503.81" width="6.2" height="88.19" fill="#7030a0"/>
<rect x="185.81" y="497.24" width="6.2" height="94.76" fill="#ff0000"/>
</g>
<rect x="40" y="464.4" width="166.6" height="127.60000000000002" fill="none" stroke="#bdbdbd" stroke-width="0.8"/>
<path d="M60.83 464.4v2M60.83 592v-2M81.66 464.4v2M81.66 592v-2M102.49 464.4v2M102.49 592v-2M123.32 464.4v2M123.32 592v-2M144.15 464.4v2M144.15 592v-2M164.98 464.4v2M164.98 592v-2M185.81 464.4v2M185.81 592v-2M40 592.00h2M206.6 592.00h-2M40 573.24h2M206.6 573.24h-2M40 554.47h2M206.6 554.47h-2M40 535.71h2M206.6 535.71h-2M40 516.94h2M206.6 516.94h-2M40 498.18h2M206.6 498.18h-2M40 479.41h2M206.6 479.41h-2" stroke="#777" stroke-width="0.6" fill="none"/>
<text x="37.5" y="594.60" font-size="9.4" fill="#3a3a3a" text-anchor="end">30</text>
<text x="37.5" y="575.84" font-size="9.4" fill="#3a3a3a" text-anchor="end">40</text>
<text x="37.5" y="557.07" font-size="9.4" fill="#3a3a3a" text-anchor="end">50</text>
<text x="37.5" y="538.31" font-size="9.4" fill="#3a3a3a" text-anchor="end">60</text>
<text x="37.5" y="519.54" font-size="9.4" fill="#3a3a3a" text-anchor="end">70</text>
<text x="37.5" y="500.78" font-size="9.4" fill="#3a3a3a" text-anchor="end">80</text>
<text x="37.5" y="482.01" font-size="9.4" fill="#3a3a3a" text-anchor="end">90</text>
<text transform="translate(67.83,601.5) rotate(-33)" font-size="10" fill="#1a1a1a" text-anchor="end">Triclinic</text>
<text transform="translate(88.66,601.5) rotate(-33)" font-size="10" fill="#1a1a1a" text-anchor="end">Monoclinic</text>
<text transform="translate(109.49,601.5) rotate(-33)" font-size="10" fill="#1a1a1a" text-anchor="end">Orthorhombic</text>
<text transform="translate(130.32,601.5) rotate(-33)" font-size="10" fill="#1a1a1a" text-anchor="end">Tetragonal</text>
<text transform="translate(151.15,601.5) rotate(-33)" font-size="10" fill="#1a1a1a" text-anchor="end">Trigonal</text>
<text transform="translate(171.98,601.5) rotate(-33)" font-size="10" fill="#1a1a1a" text-anchor="end">Hexagonal</text>
<text transform="translate(192.81,601.5) rotate(-33)" font-size="10" fill="#1a1a1a" text-anchor="end">Cubic</text>
<text transform="translate(23.8,529) rotate(-90)" font-size="8.1" font-weight="bold" fill="#1a1a1a" text-anchor="middle" textLength="54.3" lengthAdjust="spacingAndGlyphs">Accuracy (%)</text>
<rect x="44.8" y="468" width="140.7" height="18.6" fill="#fff" stroke="#8a8a8a" stroke-width="0.6"/>
<rect x="45.8" y="470.23" width="15.4" height="6.14" fill="#7030a0"/>
<rect x="45.8" y="478.42" width="15.4" height="6.14" fill="#ff0000"/>
<text x="62.599999999999994" y="476.00" font-size="7.76" fill="#262626">Spot DPs+Ziletti et al. (Benchmark)</text>
<text x="62.599999999999994" y="484.19" font-size="7.76" fill="#262626">Shaped DPs+MSDN (Ours)</text>
<text x="-0.8" y="647.2" font-size="20" font-weight="bold" fill="#000">d</text>
<rect x="38" y="642.8" width="80" height="14.4" fill="#fff" stroke="#111" stroke-width="1"/>
<text x="78.0" y="653.3" font-size="11.2" font-weight="bold" fill="#000" text-anchor="middle">72 SG dataset</text>
<rect x="38.4" y="665.6" width="166.29999999999998" height="128.39999999999998" fill="#fff"/>
<path d="M59.19 665.6V794M79.98 665.6V794M100.77 665.6V794M121.56 665.6V794M142.35 665.6V794M163.14 665.6V794M183.93 665.6V794M38.4 788.42H204.7M38.4 770.41H204.7M38.4 752.40H204.7M38.4 734.39H204.7M38.4 716.38H204.7M38.4 698.38H204.7M38.4 680.37H204.7" stroke="#e4e4e4" stroke-width="0.6" fill="none"/>
<clipPath id="clipd"><rect x="38.4" y="665.6" width="166.29999999999998" height="128.39999999999998"/></clipPath>
<g clip-path="url(#clipd)">
<rect x="52.99" y="746.82" width="6.2" height="47.18" fill="#7030a0"/>
<rect x="59.19" y="708.64" width="6.2" height="85.36" fill="#ff0000"/>
<rect x="73.78" y="790.04" width="6.2" height="3.96" fill="#7030a0"/>
<rect x="79.98" y="760.86" width="6.2" height="33.14" fill="#ff0000"/>
<rect x="94.57" y="779.95" width="6.2" height="14.05" fill="#7030a0"/>
<rect x="100.77" y="741.06" width="6.2" height="52.94" fill="#ff0000"/>
<rect x="115.36" y="735.29" width="6.2" height="58.71" fill="#7030a0"/>
<rect x="121.56" y="693.15" width="6.2" height="100.85" fill="#ff0000"/>
<rect x="136.15" y="731.69" width="6.2" height="62.31" fill="#7030a0"/>
<rect x="142.35" y="669.56" width="6.2" height="124.44" fill="#ff0000"/>
<rect x="156.94" y="718.36" width="6.2" height="75.64" fill="#7030a0"/>
<rect x="163.14" y="688.65" width="6.2" height="105.35" fill="#ff0000"/>
<rect x="177.73" y="707.74" width="6.2" height="86.26" fill="#7030a0"/>
<rect x="183.93" y="697.11" width="6.2" height="96.89" fill="#ff0000"/>
</g>
<rect x="38.4" y="665.6" width="166.29999999999998" height="128.39999999999998" fill="none" stroke="#bdbdbd" stroke-width="0.8"/>
<path d="M59.19 665.6v2M59.19 794v-2M79.98 665.6v2M79.98 794v-2M100.77 665.6v2M100.77 794v-2M121.56 665.6v2M121.56 794v-2M142.35 665.6v2M142.35 794v-2M163.14 665.6v2M163.14 794v-2M183.93 665.6v2M183.93 794v-2M38.4 788.42h2M204.7 788.42h-2M38.4 770.41h2M204.7 770.41h-2M38.4 752.40h2M204.7 752.40h-2M38.4 734.39h2M204.7 734.39h-2M38.4 716.38h2M204.7 716.38h-2M38.4 698.38h2M204.7 698.38h-2M38.4 680.37h2M204.7 680.37h-2" stroke="#777" stroke-width="0.6" fill="none"/>
<text x="35.9" y="791.02" font-size="9.4" fill="#3a3a3a" text-anchor="end">30</text>
<text x="35.9" y="773.01" font-size="9.4" fill="#3a3a3a" text-anchor="end">40</text>
<text x="35.9" y="755.00" font-size="9.4" fill="#3a3a3a" text-anchor="end">50</text>
<text x="35.9" y="736.99" font-size="9.4" fill="#3a3a3a" text-anchor="end">60</text>
<text x="35.9" y="718.98" font-size="9.4" fill="#3a3a3a" text-anchor="end">70</text>
<text x="35.9" y="700.98" font-size="9.4" fill="#3a3a3a" text-anchor="end">80</text>
<text x="35.9" y="682.97" font-size="9.4" fill="#3a3a3a" text-anchor="end">90</text>
<text transform="translate(66.19,803.5) rotate(-33)" font-size="10" fill="#1a1a1a" text-anchor="end">Triclinic</text>
<text transform="translate(86.98,803.5) rotate(-33)" font-size="10" fill="#1a1a1a" text-anchor="end">Monoclinic</text>
<text transform="translate(107.77,803.5) rotate(-33)" font-size="10" fill="#1a1a1a" text-anchor="end">Orthorhombic</text>
<text transform="translate(128.56,803.5) rotate(-33)" font-size="10" fill="#1a1a1a" text-anchor="end">Tetragonal</text>
<text transform="translate(149.35,803.5) rotate(-33)" font-size="10" fill="#1a1a1a" text-anchor="end">Trigonal</text>
<text transform="translate(170.14,803.5) rotate(-33)" font-size="10" fill="#1a1a1a" text-anchor="end">Hexagonal</text>
<text transform="translate(190.93,803.5) rotate(-33)" font-size="10" fill="#1a1a1a" text-anchor="end">Cubic</text>
<text transform="translate(22.9,730) rotate(-90)" font-size="8.1" font-weight="bold" fill="#1a1a1a" text-anchor="middle" textLength="54.3" lengthAdjust="spacingAndGlyphs">Accuracy (%)</text>
<rect x="42.8" y="668.8" width="135.4" height="18.6" fill="#fff" stroke="#8a8a8a" stroke-width="0.6"/>
<rect x="43.8" y="671.03" width="15.4" height="6.14" fill="#7030a0"/>
<rect x="43.8" y="679.22" width="15.4" height="6.14" fill="#ff0000"/>
<text x="60.599999999999994" y="676.80" font-size="7.42" fill="#262626">Spot DPs+Ziletti et al. (Benchmark)</text>
<text x="60.599999999999994" y="684.99" font-size="7.42" fill="#262626">Shaped DPs+MSDN (Ours)</text>
<text x="231" y="439.6" font-size="20.5" font-weight="bold" fill="#000">e</text>
<text x="236" y="646.8" font-size="20" font-weight="bold" fill="#000">f</text>
<rect x="257" y="463.8" width="128.2" height="128.2" fill="#fff"/>
<rect x="257.00" y="463.80" width="18.61" height="18.61" fill="#f3f8fd"/>
<rect x="275.31" y="463.80" width="18.61" height="18.61" fill="#08306b"/>
<rect x="293.63" y="463.80" width="18.61" height="18.61" fill="#dae8f5"/>
<rect x="311.94" y="463.80" width="18.61" height="18.61" fill="#e6eff8"/>
<rect x="330.26" y="463.80" width="18.61" height="18.61" fill="#a9cde5"/>
<rect x="348.57" y="463.80" width="18.61" height="18.61" fill="#eaf2fa"/>
<rect x="366.89" y="463.80" width="18.61" height="18.61" fill="#eef5fc"/>
<rect x="257.00" y="482.11" width="18.61" height="18.61" fill="#b3d3ea"/>
<rect x="275.31" y="482.11" width="18.61" height="18.61" fill="#2a70b4"/>
<rect x="293.63" y="482.11" width="18.61" height="18.61" fill="#4a8fc6"/>
<rect x="311.94" y="482.11" width="18.61" height="18.61" fill="#e3eef8"/>
<rect x="330.26" y="482.11" width="18.61" height="18.61" fill="#d2e3f2"/>
<rect x="348.57" y="482.11" width="18.61" height="18.61" fill="#ebf3fb"/>
<rect x="366.89" y="482.11" width="18.61" height="18.61" fill="#f0f6fc"/>
<rect x="257.00" y="500.43" width="18.61" height="18.61" fill="#d9e8f5"/>
<rect x="275.31" y="500.43" width="18.61" height="18.61" fill="#3f88c4"/>
<rect x="293.63" y="500.43" width="18.61" height="18.61" fill="#5c9fd0"/>
<rect x="311.94" y="500.43" width="18.61" height="18.61" fill="#a9cee6"/>
<rect x="330.26" y="500.43" width="18.61" height="18.61" fill="#e3eef8"/>
<rect x="348.57" y="500.43" width="18.61" height="18.61" fill="#d9e8f5"/>
<rect x="366.89" y="500.43" width="18.61" height="18.61" fill="#e6f0f9"/>
<rect x="257.00" y="518.74" width="18.61" height="18.61" fill="#eff6fc"/>
<rect x="275.31" y="518.74" width="18.61" height="18.61" fill="#e3eef8"/>
<rect x="293.63" y="518.74" width="18.61" height="18.61" fill="#e3eef8"/>
<rect x="311.94" y="518.74" width="18.61" height="18.61" fill="#8dbfe0"/>
<rect x="330.26" y="518.74" width="18.61" height="18.61" fill="#f5f9fe"/>
<rect x="348.57" y="518.74" width="18.61" height="18.61" fill="#eff6fc"/>
<rect x="366.89" y="518.74" width="18.61" height="18.61" fill="#e6f0f9"/>
<rect x="257.00" y="537.06" width="18.61" height="18.61" fill="#dce9f5"/>
<rect x="275.31" y="537.06" width="18.61" height="18.61" fill="#c6dcef"/>
<rect x="293.63" y="537.06" width="18.61" height="18.61" fill="#e3eef8"/>
<rect x="311.94" y="537.06" width="18.61" height="18.61" fill="#f5f9fe"/>
<rect x="330.26" y="537.06" width="18.61" height="18.61" fill="#dce9f5"/>
<rect x="348.57" y="537.06" width="18.61" height="18.61" fill="#dce9f5"/>
<rect x="366.89" y="537.06" width="18.61" height="18.61" fill="#f5f9fe"/>
<rect x="257.00" y="555.37" width="18.61" height="18.61" fill="#eef5fc"/>
<rect x="275.31" y="555.37" width="18.61" height="18.61" fill="#e6f0f9"/>
<rect x="293.63" y="555.37" width="18.61" height="18.61" fill="#e6f0f9"/>
<rect x="311.94" y="555.37" width="18.61" height="18.61" fill="#f5f9fe"/>
<rect x="330.26" y="555.37" width="18.61" height="18.61" fill="#dae8f5"/>
<rect x="348.57" y="555.37" width="18.61" height="18.61" fill="#2b72b4"/>
<rect x="366.89" y="555.37" width="18.61" height="18.61" fill="#f5f9fe"/>
<rect x="257.00" y="573.69" width="18.61" height="18.61" fill="#f3f8fd"/>
<rect x="275.31" y="573.69" width="18.61" height="18.61" fill="#eef5fc"/>
<rect x="293.63" y="573.69" width="18.61" height="18.61" fill="#eef5fc"/>
<rect x="311.94" y="573.69" width="18.61" height="18.61" fill="#f3f8fd"/>
<rect x="330.26" y="573.69" width="18.61" height="18.61" fill="#f3f8fd"/>
<rect x="348.57" y="573.69" width="18.61" height="18.61" fill="#f3f8fd"/>
<rect x="366.89" y="573.69" width="18.61" height="18.61" fill="#2a6fb4"/>
<rect x="257" y="463.8" width="128.2" height="128.2" fill="none" stroke="#b0b0b0" stroke-width="0.7"/>
<path d="M266.16 592.0v2.5M257 472.96h-2.5M284.47 592.0v2.5M257 491.27h-2.5M302.79 592.0v2.5M257 509.59h-2.5M321.10 592.0v2.5M257 527.90h-2.5M339.41 592.0v2.5M257 546.21h-2.5M357.73 592.0v2.5M257 564.53h-2.5M376.04 592.0v2.5M257 582.84h-2.5" stroke="#888" stroke-width="0.5"/>
<text transform="translate(259.68,459.80) rotate(-43)" font-size="8.35" fill="#111">Triclinic</text>
<text transform="translate(253.00,474.46) rotate(-43)" font-size="8.3" fill="#111" text-anchor="end">Triclinic</text>
<text transform="translate(274.52,459.80) rotate(-43)" font-size="8.35" fill="#111">Monoclinic</text>
<text transform="translate(253.00,492.77) rotate(-43)" font-size="8.3" fill="#111" text-anchor="end">Monoclinic</text>
<text transform="translate(289.46,459.80) rotate(-43)" font-size="8.35" fill="#111">Orthorhombic</text>
<text transform="translate(253.00,511.09) rotate(-43)" font-size="8.3" fill="#111" text-anchor="end">Orthorhombic</text>
<text transform="translate(311.29,459.80) rotate(-43)" font-size="8.35" fill="#111">Tetragonal</text>
<text transform="translate(253.00,529.40) rotate(-43)" font-size="8.3" fill="#111" text-anchor="end">Tetragonal</text>
<text transform="translate(332.37,459.80) rotate(-43)" font-size="8.35" fill="#111">Trigonal</text>
<text transform="translate(253.00,547.71) rotate(-43)" font-size="8.3" fill="#111" text-anchor="end">Trigonal</text>
<text transform="translate(347.63,459.80) rotate(-43)" font-size="8.35" fill="#111">Hexagonal</text>
<text transform="translate(253.00,566.03) rotate(-43)" font-size="8.3" fill="#111" text-anchor="end">Hexagonal</text>
<text transform="translate(371.57,459.80) rotate(-43)" font-size="8.35" fill="#111">Cubic</text>
<text transform="translate(253.00,584.34) rotate(-43)" font-size="8.3" fill="#111" text-anchor="end">Cubic</text>
<rect x="257.00" y="463.80" width="54.94" height="54.94" fill="none" stroke="#e02222" stroke-width="1.6" stroke-dasharray="3 1.8"/>
<rect x="330.26" y="537.06" width="36.63" height="36.63" fill="none" stroke="#e02222" stroke-width="1.6" stroke-dasharray="3 1.8"/>
<defs><linearGradient id="g257463" x1="0" y1="1" x2="0" y2="0"><stop offset="0.000" stop-color="#f7fbff"/><stop offset="0.062" stop-color="#eaf3fb"/><stop offset="0.125" stop-color="#deebf7"/><stop offset="0.188" stop-color="#d2e3f3"/><stop offset="0.250" stop-color="#c6dbef"/><stop offset="0.312" stop-color="#b2d2e8"/><stop offset="0.375" stop-color="#9ecae1"/><stop offset="0.438" stop-color="#84bcdc"/><stop offset="0.500" stop-color="#6baed6"/><stop offset="0.562" stop-color="#56a0ce"/><stop offset="0.625" stop-color="#4292c6"/><stop offset="0.688" stop-color="#3282be"/><stop offset="0.750" stop-color="#2171b5"/><stop offset="0.812" stop-color="#1461a8"/><stop offset="0.875" stop-color="#08519c"/><stop offset="0.938" stop-color="#084084"/><stop offset="1.000" stop-color="#08306b"/></linearGradient></defs>
<rect x="393.3" y="457.5" width="7.2" height="141.2" fill="url(#g257463)" stroke="#999" stroke-width="0.5"/>
<path d="M400.5 598.70h-1.5" stroke="#555" stroke-width="0.5"/>
<text x="404.3" y="601.70" font-size="8.4" fill="#222">0.0</text>
<path d="M400.5 572.55h-1.5" stroke="#555" stroke-width="0.5"/>
<text x="404.3" y="575.55" font-size="8.4" fill="#222">5.0</text>
<path d="M400.5 546.40h-1.5" stroke="#555" stroke-width="0.5"/>
<text x="404.3" y="549.40" font-size="8.4" fill="#222">10.0</text>
<path d="M400.5 520.26h-1.5" stroke="#555" stroke-width="0.5"/>
<text x="404.3" y="523.26" font-size="8.4" fill="#222">15.0</text>
<path d="M400.5 494.11h-1.5" stroke="#555" stroke-width="0.5"/>
<text x="404.3" y="497.11" font-size="8.4" fill="#222">20.0</text>
<path d="M400.5 467.96h-1.5" stroke="#555" stroke-width="0.5"/>
<text x="404.3" y="470.96" font-size="8.4" fill="#222">25.0</text>
<text x="409.8" y="457.0" font-size="8.6" font-weight="bold" fill="#1a1a1a" text-anchor="middle">(%)</text>
<text x="320" y="611" font-size="10.6" font-weight="bold" fill="#000" text-anchor="middle">Benchmark</text>
<rect x="470" y="463.5" width="128.8" height="128.8" fill="#fff"/>
<rect x="470.00" y="463.50" width="18.70" height="18.70" fill="#f5f9fe"/>
<rect x="488.40" y="463.50" width="18.70" height="18.70" fill="#b9d6eb"/>
<rect x="506.80" y="463.50" width="18.70" height="18.70" fill="#d4e5f3"/>
<rect x="525.20" y="463.50" width="18.70" height="18.70" fill="#e6f0f9"/>
<rect x="543.60" y="463.50" width="18.70" height="18.70" fill="#e3eef8"/>
<rect x="562.00" y="463.50" width="18.70" height="18.70" fill="#eef5fc"/>
<rect x="580.40" y="463.50" width="18.70" height="18.70" fill="#f2f7fd"/>
<rect x="470.00" y="481.90" width="18.70" height="18.70" fill="#c6dcef"/>
<rect x="488.40" y="481.90" width="18.70" height="18.70" fill="#4a90c8"/>
<rect x="506.80" y="481.90" width="18.70" height="18.70" fill="#f7fbff"/>
<rect x="525.20" y="481.90" width="18.70" height="18.70" fill="#f0f6fc"/>
<rect x="543.60" y="481.90" width="18.70" height="18.70" fill="#f5f9fe"/>
<rect x="562.00" y="481.90" width="18.70" height="18.70" fill="#f5f9fe"/>
<rect x="580.40" y="481.90" width="18.70" height="18.70" fill="#f5f9fe"/>
<rect x="470.00" y="500.30" width="18.70" height="18.70" fill="#a9cde5"/>
<rect x="488.40" y="500.30" width="18.70" height="18.70" fill="#5a9dd0"/>
<rect x="506.80" y="500.30" width="18.70" height="18.70" fill="#2e74b7"/>
<rect x="525.20" y="500.30" width="18.70" height="18.70" fill="#dce9f5"/>
<rect x="543.60" y="500.30" width="18.70" height="18.70" fill="#e3eef8"/>
<rect x="562.00" y="500.30" width="18.70" height="18.70" fill="#f2f7fd"/>
<rect x="580.40" y="500.30" width="18.70" height="18.70" fill="#f7fbff"/>
<rect x="470.00" y="518.70" width="18.70" height="18.70" fill="#f2f7fd"/>
<rect x="488.40" y="518.70" width="18.70" height="18.70" fill="#eef5fc"/>
<rect x="506.80" y="518.70" width="18.70" height="18.70" fill="#eef5fc"/>
<rect x="525.20" y="518.70" width="18.70" height="18.70" fill="#dae8f5"/>
<rect x="543.60" y="518.70" width="18.70" height="18.70" fill="#d2e3f2"/>
<rect x="562.00" y="518.70" width="18.70" height="18.70" fill="#e3eef8"/>
<rect x="580.40" y="518.70" width="18.70" height="18.70" fill="#f5f9fe"/>
<rect x="470.00" y="537.10" width="18.70" height="18.70" fill="#f5f9fe"/>
<rect x="488.40" y="537.10" width="18.70" height="18.70" fill="#f5f9fe"/>
<rect x="506.80" y="537.10" width="18.70" height="18.70" fill="#f5f9fe"/>
<rect x="525.20" y="537.10" width="18.70" height="18.70" fill="#f2f7fd"/>
<rect x="543.60" y="537.10" width="18.70" height="18.70" fill="#e3eef8"/>
<rect x="562.00" y="537.10" width="18.70" height="18.70" fill="#f5f9fe"/>
<rect x="580.40" y="537.10" width="18.70" height="18.70" fill="#f5f9fe"/>
<rect x="470.00" y="555.50" width="18.70" height="18.70" fill="#f5f9fe"/>
<rect x="488.40" y="555.50" width="18.70" height="18.70" fill="#f2f7fd"/>
<rect x="506.80" y="555.50" width="18.70" height="18.70" fill="#f2f7fd"/>
<rect x="525.20" y="555.50" width="18.70" height="18.70" fill="#eef5fc"/>
<rect x="543.60" y="555.50" width="18.70" height="18.70" fill="#f2f7fd"/>
<rect x="562.00" y="555.50" width="18.70" height="18.70" fill="#dce9f5"/>
<rect x="580.40" y="555.50" width="18.70" height="18.70" fill="#f5f9fe"/>
<rect x="470.00" y="573.90" width="18.70" height="18.70" fill="#f5f9fe"/>
<rect x="488.40" y="573.90" width="18.70" height="18.70" fill="#f5f9fe"/>
<rect x="506.80" y="573.90" width="18.70" height="18.70" fill="#f5f9fe"/>
<rect x="525.20" y="573.90" width="18.70" height="18.70" fill="#eef5fc"/>
<rect x="543.60" y="573.90" width="18.70" height="18.70" fill="#f2f7fd"/>
<rect x="562.00" y="573.90" width="18.70" height="18.70" fill="#f5f9fe"/>
<rect x="580.40" y="573.90" width="18.70" height="18.70" fill="#3d85c3"/>
<rect x="470" y="463.5" width="128.8" height="128.8" fill="none" stroke="#b0b0b0" stroke-width="0.7"/>
<path d="M479.20 592.3v2.5M470 472.70h-2.5M497.60 592.3v2.5M470 491.10h-2.5M516.00 592.3v2.5M470 509.50h-2.5M534.40 592.3v2.5M470 527.90h-2.5M552.80 592.3v2.5M470 546.30h-2.5M571.20 592.3v2.5M470 564.70h-2.5M589.60 592.3v2.5M470 583.10h-2.5" stroke="#888" stroke-width="0.5"/>
<text transform="translate(472.72,459.50) rotate(-43)" font-size="8.35" fill="#111">Triclinic</text>
<text transform="translate(466.00,474.20) rotate(-43)" font-size="8.3" fill="#111" text-anchor="end">Triclinic</text>
<text transform="translate(487.65,459.50) rotate(-43)" font-size="8.35" fill="#111">Monoclinic</text>
<text transform="translate(466.00,492.60) rotate(-43)" font-size="8.3" fill="#111" text-anchor="end">Monoclinic</text>
<text transform="translate(502.68,459.50) rotate(-43)" font-size="8.35" fill="#111">Orthorhombic</text>
<text transform="translate(466.00,511.00) rotate(-43)" font-size="8.3" fill="#111" text-anchor="end">Orthorhombic</text>
<text transform="translate(524.59,459.50) rotate(-43)" font-size="8.35" fill="#111">Tetragonal</text>
<text transform="translate(466.00,529.40) rotate(-43)" font-size="8.3" fill="#111" text-anchor="end">Tetragonal</text>
<text transform="translate(545.75,459.50) rotate(-43)" font-size="8.35" fill="#111">Trigonal</text>
<text transform="translate(466.00,547.80) rotate(-43)" font-size="8.3" fill="#111" text-anchor="end">Trigonal</text>
<text transform="translate(561.10,459.50) rotate(-43)" font-size="8.35" fill="#111">Hexagonal</text>
<text transform="translate(466.00,566.20) rotate(-43)" font-size="8.3" fill="#111" text-anchor="end">Hexagonal</text>
<text transform="translate(585.13,459.50) rotate(-43)" font-size="8.35" fill="#111">Cubic</text>
<text transform="translate(466.00,584.60) rotate(-43)" font-size="8.3" fill="#111" text-anchor="end">Cubic</text>
<rect x="470.00" y="463.50" width="55.20" height="55.20" fill="none" stroke="#e02222" stroke-width="1.6" stroke-dasharray="3 1.8"/>
<rect x="543.60" y="537.10" width="36.80" height="36.80" fill="none" stroke="#e02222" stroke-width="1.6" stroke-dasharray="3 1.8"/>
<defs><linearGradient id="g470463" x1="0" y1="1" x2="0" y2="0"><stop offset="0.000" stop-color="#f7fbff"/><stop offset="0.062" stop-color="#eaf3fb"/><stop offset="0.125" stop-color="#deebf7"/><stop offset="0.188" stop-color="#d2e3f3"/><stop offset="0.250" stop-color="#c6dbef"/><stop offset="0.312" stop-color="#b2d2e8"/><stop offset="0.375" stop-color="#9ecae1"/><stop offset="0.438" stop-color="#84bcdc"/><stop offset="0.500" stop-color="#6baed6"/><stop offset="0.562" stop-color="#56a0ce"/><stop offset="0.625" stop-color="#4292c6"/><stop offset="0.688" stop-color="#3282be"/><stop offset="0.750" stop-color="#2171b5"/><stop offset="0.812" stop-color="#1461a8"/><stop offset="0.875" stop-color="#08519c"/><stop offset="0.938" stop-color="#084084"/><stop offset="1.000" stop-color="#08306b"/></linearGradient></defs>
<rect x="606.5" y="457" width="7.2" height="140.8" fill="url(#g470463)" stroke="#999" stroke-width="0.5"/>
<path d="M613.7 597.80h-1.5" stroke="#555" stroke-width="0.5"/>
<text x="617.5" y="600.80" font-size="8.4" fill="#222">0.0</text>
<path d="M613.7 571.73h-1.5" stroke="#555" stroke-width="0.5"/>
<text x="617.5" y="574.73" font-size="8.4" fill="#222">5.0</text>
<path d="M613.7 545.65h-1.5" stroke="#555" stroke-width="0.5"/>
<text x="617.5" y="548.65" font-size="8.4" fill="#222">10.0</text>
<path d="M613.7 519.58h-1.5" stroke="#555" stroke-width="0.5"/>
<text x="617.5" y="522.58" font-size="8.4" fill="#222">15.0</text>
<path d="M613.7 493.50h-1.5" stroke="#555" stroke-width="0.5"/>
<text x="617.5" y="496.50" font-size="8.4" fill="#222">20.0</text>
<path d="M613.7 467.43h-1.5" stroke="#555" stroke-width="0.5"/>
<text x="617.5" y="470.43" font-size="8.4" fill="#222">25.0</text>
<text x="623.0" y="456.5" font-size="8.6" font-weight="bold" fill="#1a1a1a" text-anchor="middle">(%)</text>
<text x="535" y="611" font-size="10.6" font-weight="bold" fill="#000" text-anchor="middle">Ours</text>
<rect x="258.1" y="665.6" width="128.4" height="128.4" fill="#fff"/>
<rect x="258.10" y="665.60" width="18.64" height="18.64" fill="#0f4a8f"/>
<rect x="276.44" y="665.60" width="18.64" height="18.64" fill="#08306b"/>
<rect x="294.79" y="665.60" width="18.64" height="18.64" fill="#e6f0f9"/>
<rect x="313.13" y="665.60" width="18.64" height="18.64" fill="#f5f9fe"/>
<rect x="331.47" y="665.60" width="18.64" height="18.64" fill="#eef5fc"/>
<rect x="349.81" y="665.60" width="18.64" height="18.64" fill="#f2f7fd"/>
<rect x="368.16" y="665.60" width="18.64" height="18.64" fill="#f2f7fd"/>
<rect x="258.10" y="683.94" width="18.64" height="18.64" fill="#08306b"/>
<rect x="276.44" y="683.94" width="18.64" height="18.64" fill="#0c3f80"/>
<rect x="294.79" y="683.94" width="18.64" height="18.64" fill="#8dbfe0"/>
<rect x="313.13" y="683.94" width="18.64" height="18.64" fill="#f5f9fe"/>
<rect x="331.47" y="683.94" width="18.64" height="18.64" fill="#eef5fc"/>
<rect x="349.81" y="683.94" width="18.64" height="18.64" fill="#f2f7fd"/>
<rect x="368.16" y="683.94" width="18.64" height="18.64" fill="#f2f7fd"/>
<rect x="258.10" y="702.29" width="18.64" height="18.64" fill="#e3eef8"/>
<rect x="276.44" y="702.29" width="18.64" height="18.64" fill="#3a7fbf"/>
<rect x="294.79" y="702.29" width="18.64" height="18.64" fill="#2a6fb4"/>
<rect x="313.13" y="702.29" width="18.64" height="18.64" fill="#d2e3f2"/>
<rect x="331.47" y="702.29" width="18.64" height="18.64" fill="#f0f6fc"/>
<rect x="349.81" y="702.29" width="18.64" height="18.64" fill="#eef5fc"/>
<rect x="368.16" y="702.29" width="18.64" height="18.64" fill="#f5f9fe"/>
<rect x="258.10" y="720.63" width="18.64" height="18.64" fill="#eef5fc"/>
<rect x="276.44" y="720.63" width="18.64" height="18.64" fill="#d4e5f3"/>
<rect x="294.79" y="720.63" width="18.64" height="18.64" fill="#c6dcef"/>
<rect x="313.13" y="720.63" width="18.64" height="18.64" fill="#3d85c3"/>
<rect x="331.47" y="720.63" width="18.64" height="18.64" fill="#f5f9fe"/>
<rect x="349.81" y="720.63" width="18.64" height="18.64" fill="#f5f9fe"/>
<rect x="368.16" y="720.63" width="18.64" height="18.64" fill="#eef5fc"/>
<rect x="258.10" y="738.97" width="18.64" height="18.64" fill="#8dbfe0"/>
<rect x="276.44" y="738.97" width="18.64" height="18.64" fill="#a1cae4"/>
<rect x="294.79" y="738.97" width="18.64" height="18.64" fill="#eef5fc"/>
<rect x="313.13" y="738.97" width="18.64" height="18.64" fill="#f5f9fe"/>
<rect x="331.47" y="738.97" width="18.64" height="18.64" fill="#a9cde5"/>
<rect x="349.81" y="738.97" width="18.64" height="18.64" fill="#b3d3ea"/>
<rect x="368.16" y="738.97" width="18.64" height="18.64" fill="#f5f9fe"/>
<rect x="258.10" y="757.31" width="18.64" height="18.64" fill="#e6f0f9"/>
<rect x="276.44" y="757.31" width="18.64" height="18.64" fill="#dae8f5"/>
<rect x="294.79" y="757.31" width="18.64" height="18.64" fill="#dce9f5"/>
<rect x="313.13" y="757.31" width="18.64" height="18.64" fill="#f5f9fe"/>
<rect x="331.47" y="757.31" width="18.64" height="18.64" fill="#a9cde5"/>
<rect x="349.81" y="757.31" width="18.64" height="18.64" fill="#3d85c3"/>
<rect x="368.16" y="757.31" width="18.64" height="18.64" fill="#f5f9fe"/>
<rect x="258.10" y="775.66" width="18.64" height="18.64" fill="#f5f9fe"/>
<rect x="276.44" y="775.66" width="18.64" height="18.64" fill="#f2f7fd"/>
<rect x="294.79" y="775.66" width="18.64" height="18.64" fill="#f2f7fd"/>
<rect x="313.13" y="775.66" width="18.64" height="18.64" fill="#eef5fc"/>
<rect x="331.47" y="775.66" width="18.64" height="18.64" fill="#f5f9fe"/>
<rect x="349.81" y="775.66" width="18.64" height="18.64" fill="#f5f9fe"/>
<rect x="368.16" y="775.66" width="18.64" height="18.64" fill="#8dbfe0"/>
<rect x="258.1" y="665.6" width="128.4" height="128.4" fill="none" stroke="#b0b0b0" stroke-width="0.7"/>
<path d="M267.27 794.0v2.5M258.1 674.77h-2.5M285.61 794.0v2.5M258.1 693.11h-2.5M303.96 794.0v2.5M258.1 711.46h-2.5M322.30 794.0v2.5M258.1 729.80h-2.5M340.64 794.0v2.5M258.1 748.14h-2.5M358.99 794.0v2.5M258.1 766.49h-2.5M377.33 794.0v2.5M258.1 784.83h-2.5" stroke="#888" stroke-width="0.5"/>
<text transform="translate(260.79,661.60) rotate(-43)" font-size="8.35" fill="#111">Triclinic</text>
<text transform="translate(254.10,676.27) rotate(-43)" font-size="8.3" fill="#111" text-anchor="end">Triclinic</text>
<text transform="translate(275.66,661.60) rotate(-43)" font-size="8.35" fill="#111">Monoclinic</text>
<text transform="translate(254.10,694.61) rotate(-43)" font-size="8.3" fill="#111" text-anchor="end">Monoclinic</text>
<text transform="translate(290.63,661.60) rotate(-43)" font-size="8.35" fill="#111">Orthorhombic</text>
<text transform="translate(254.10,712.96) rotate(-43)" font-size="8.3" fill="#111" text-anchor="end">Orthorhombic</text>
<text transform="translate(312.49,661.60) rotate(-43)" font-size="8.35" fill="#111">Tetragonal</text>
<text transform="translate(254.10,731.30) rotate(-43)" font-size="8.3" fill="#111" text-anchor="end">Tetragonal</text>
<text transform="translate(333.60,661.60) rotate(-43)" font-size="8.35" fill="#111">Trigonal</text>
<text transform="translate(254.10,749.64) rotate(-43)" font-size="8.3" fill="#111" text-anchor="end">Trigonal</text>
<text transform="translate(348.89,661.60) rotate(-43)" font-size="8.35" fill="#111">Hexagonal</text>
<text transform="translate(254.10,767.99) rotate(-43)" font-size="8.3" fill="#111" text-anchor="end">Hexagonal</text>
<text transform="translate(372.86,661.60) rotate(-43)" font-size="8.35" fill="#111">Cubic</text>
<text transform="translate(254.10,786.33) rotate(-43)" font-size="8.3" fill="#111" text-anchor="end">Cubic</text>
<rect x="258.10" y="665.60" width="55.03" height="55.03" fill="none" stroke="#e02222" stroke-width="1.6" stroke-dasharray="3 1.8"/>
<rect x="331.47" y="738.97" width="36.69" height="36.69" fill="none" stroke="#e02222" stroke-width="1.6" stroke-dasharray="3 1.8"/>
<defs><linearGradient id="g258665" x1="0" y1="1" x2="0" y2="0"><stop offset="0.000" stop-color="#f7fbff"/><stop offset="0.062" stop-color="#eaf3fb"/><stop offset="0.125" stop-color="#deebf7"/><stop offset="0.188" stop-color="#d2e3f3"/><stop offset="0.250" stop-color="#c6dbef"/><stop offset="0.312" stop-color="#b2d2e8"/><stop offset="0.375" stop-color="#9ecae1"/><stop offset="0.438" stop-color="#84bcdc"/><stop offset="0.500" stop-color="#6baed6"/><stop offset="0.562" stop-color="#56a0ce"/><stop offset="0.625" stop-color="#4292c6"/><stop offset="0.688" stop-color="#3282be"/><stop offset="0.750" stop-color="#2171b5"/><stop offset="0.812" stop-color="#1461a8"/><stop offset="0.875" stop-color="#08519c"/><stop offset="0.938" stop-color="#084084"/><stop offset="1.000" stop-color="#08306b"/></linearGradient></defs>
<rect x="393.9" y="659.4" width="7.2" height="140.9" fill="url(#g258665)" stroke="#999" stroke-width="0.5"/>
<path d="M401.09999999999997 800.30h-1.5" stroke="#555" stroke-width="0.5"/>
<text x="404.9" y="803.30" font-size="8.4" fill="#222">0.0</text>
<path d="M401.09999999999997 784.29h-1.5" stroke="#555" stroke-width="0.5"/>
<text x="404.9" y="787.29" font-size="8.4" fill="#222">2.5</text>
<path d="M401.09999999999997 768.28h-1.5" stroke="#555" stroke-width="0.5"/>
<text x="404.9" y="771.28" font-size="8.4" fill="#222">5.0</text>
<path d="M401.09999999999997 752.27h-1.5" stroke="#555" stroke-width="0.5"/>
<text x="404.9" y="755.27" font-size="8.4" fill="#222">7.5</text>
<path d="M401.09999999999997 736.25h-1.5" stroke="#555" stroke-width="0.5"/>
<text x="404.9" y="739.25" font-size="8.4" fill="#222">10.0</text>
<path d="M401.09999999999997 720.24h-1.5" stroke="#555" stroke-width="0.5"/>
<text x="404.9" y="723.24" font-size="8.4" fill="#222">12.5</text>
<path d="M401.09999999999997 704.23h-1.5" stroke="#555" stroke-width="0.5"/>
<text x="404.9" y="707.23" font-size="8.4" fill="#222">15.0</text>
<path d="M401.09999999999997 688.22h-1.5" stroke="#555" stroke-width="0.5"/>
<text x="404.9" y="691.22" font-size="8.4" fill="#222">17.5</text>
<path d="M401.09999999999997 672.21h-1.5" stroke="#555" stroke-width="0.5"/>
<text x="404.9" y="675.21" font-size="8.4" fill="#222">20.0</text>
<text x="410.4" y="658.9" font-size="8.6" font-weight="bold" fill="#1a1a1a" text-anchor="middle">(%)</text>
<text x="321.7" y="819.5" font-size="10.6" font-weight="bold" fill="#000" text-anchor="middle">Benchmark</text>
<rect x="471.7" y="665.6" width="128.8" height="128.8" fill="#fff"/>
<rect x="471.70" y="665.60" width="18.70" height="18.70" fill="#3a84c1"/>
<rect x="490.10" y="665.60" width="18.70" height="18.70" fill="#6aaad6"/>
<rect x="508.50" y="665.60" width="18.70" height="18.70" fill="#f0f6fc"/>
<rect x="526.90" y="665.60" width="18.70" height="18.70" fill="#f2f7fd"/>
<rect x="545.30" y="665.60" width="18.70" height="18.70" fill="#eef5fc"/>
<rect x="563.70" y="665.60" width="18.70" height="18.70" fill="#f2f7fd"/>
<rect x="582.10" y="665.60" width="18.70" height="18.70" fill="#f2f7fd"/>
<rect x="471.70" y="684.00" width="18.70" height="18.70" fill="#3580c0"/>
<rect x="490.10" y="684.00" width="18.70" height="18.70" fill="#2670b3"/>
<rect x="508.50" y="684.00" width="18.70" height="18.70" fill="#6aaad6"/>
<rect x="526.90" y="684.00" width="18.70" height="18.70" fill="#e6f0f9"/>
<rect x="545.30" y="684.00" width="18.70" height="18.70" fill="#e6f0f9"/>
<rect x="563.70" y="684.00" width="18.70" height="18.70" fill="#f2f7fd"/>
<rect x="582.10" y="684.00" width="18.70" height="18.70" fill="#f2f7fd"/>
<rect x="471.70" y="702.40" width="18.70" height="18.70" fill="#e6f0f9"/>
<rect x="490.10" y="702.40" width="18.70" height="18.70" fill="#7db5db"/>
<rect x="508.50" y="702.40" width="18.70" height="18.70" fill="#0d4283"/>
<rect x="526.90" y="702.40" width="18.70" height="18.70" fill="#c6dcef"/>
<rect x="545.30" y="702.40" width="18.70" height="18.70" fill="#dae8f5"/>
<rect x="563.70" y="702.40" width="18.70" height="18.70" fill="#e3eef8"/>
<rect x="582.10" y="702.40" width="18.70" height="18.70" fill="#f2f7fd"/>
<rect x="471.70" y="720.80" width="18.70" height="18.70" fill="#eef5fc"/>
<rect x="490.10" y="720.80" width="18.70" height="18.70" fill="#f2f7fd"/>
<rect x="508.50" y="720.80" width="18.70" height="18.70" fill="#eef5fc"/>
<rect x="526.90" y="720.80" width="18.70" height="18.70" fill="#c6dcef"/>
<rect x="545.30" y="720.80" width="18.70" height="18.70" fill="#f2f7fd"/>
<rect x="563.70" y="720.80" width="18.70" height="18.70" fill="#f2f7fd"/>
<rect x="582.10" y="720.80" width="18.70" height="18.70" fill="#e6f0f9"/>
<rect x="471.70" y="739.20" width="18.70" height="18.70" fill="#f2f7fd"/>
<rect x="490.10" y="739.20" width="18.70" height="18.70" fill="#f2f7fd"/>
<rect x="508.50" y="739.20" width="18.70" height="18.70" fill="#eef5fc"/>
<rect x="526.90" y="739.20" width="18.70" height="18.70" fill="#f2f7fd"/>
<rect x="545.30" y="739.20" width="18.70" height="18.70" fill="#d4e5f3"/>
<rect x="563.70" y="739.20" width="18.70" height="18.70" fill="#e6f0f9"/>
<rect x="582.10" y="739.20" width="18.70" height="18.70" fill="#f2f7fd"/>
<rect x="471.70" y="757.60" width="18.70" height="18.70" fill="#f5f9fe"/>
<rect x="490.10" y="757.60" width="18.70" height="18.70" fill="#f5f9fe"/>
<rect x="508.50" y="757.60" width="18.70" height="18.70" fill="#f5f9fe"/>
<rect x="526.90" y="757.60" width="18.70" height="18.70" fill="#f2f7fd"/>
<rect x="545.30" y="757.60" width="18.70" height="18.70" fill="#eef5fc"/>
<rect x="563.70" y="757.60" width="18.70" height="18.70" fill="#5a9fd1"/>
<rect x="582.10" y="757.60" width="18.70" height="18.70" fill="#f5f9fe"/>
<rect x="471.70" y="776.00" width="18.70" height="18.70" fill="#f5f9fe"/>
<rect x="490.10" y="776.00" width="18.70" height="18.70" fill="#eaf2fa"/>
<rect x="508.50" y="776.00" width="18.70" height="18.70" fill="#eaf2fa"/>
<rect x="526.90" y="776.00" width="18.70" height="18.70" fill="#eef5fc"/>
<rect x="545.30" y="776.00" width="18.70" height="18.70" fill="#eaf2fa"/>
<rect x="563.70" y="776.00" width="18.70" height="18.70" fill="#eef5fc"/>
<rect x="582.10" y="776.00" width="18.70" height="18.70" fill="#79b3d9"/>
<rect x="471.7" y="665.6" width="128.8" height="128.8" fill="none" stroke="#b0b0b0" stroke-width="0.7"/>
<path d="M480.90 794.4000000000001v2.5M471.7 674.80h-2.5M499.30 794.4000000000001v2.5M471.7 693.20h-2.5M517.70 794.4000000000001v2.5M471.7 711.60h-2.5M536.10 794.4000000000001v2.5M471.7 730.00h-2.5M554.50 794.4000000000001v2.5M471.7 748.40h-2.5M572.90 794.4000000000001v2.5M471.7 766.80h-2.5M591.30 794.4000000000001v2.5M471.7 785.20h-2.5" stroke="#888" stroke-width="0.5"/>
<text transform="translate(474.42,661.60) rotate(-43)" font-size="8.35" fill="#111">Triclinic</text>
<text transform="translate(467.70,676.30) rotate(-43)" font-size="8.3" fill="#111" text-anchor="end">Triclinic</text>
<text transform="translate(489.35,661.60) rotate(-43)" font-size="8.35" fill="#111">Monoclinic</text>
<text transform="translate(467.70,694.70) rotate(-43)" font-size="8.3" fill="#111" text-anchor="end">Monoclinic</text>
<text transform="translate(504.38,661.60) rotate(-43)" font-size="8.35" fill="#111">Orthorhombic</text>
<text transform="translate(467.70,713.10) rotate(-43)" font-size="8.3" fill="#111" text-anchor="end">Orthorhombic</text>
<text transform="translate(526.29,661.60) rotate(-43)" font-size="8.35" fill="#111">Tetragonal</text>
<text transform="translate(467.70,731.50) rotate(-43)" font-size="8.3" fill="#111" text-anchor="end">Tetragonal</text>
<text transform="translate(547.45,661.60) rotate(-43)" font-size="8.35" fill="#111">Trigonal</text>
<text transform="translate(467.70,749.90) rotate(-43)" font-size="8.3" fill="#111" text-anchor="end">Trigonal</text>
<text transform="translate(562.80,661.60) rotate(-43)" font-size="8.35" fill="#111">Hexagonal</text>
<text transform="translate(467.70,768.30) rotate(-43)" font-size="8.3" fill="#111" text-anchor="end">Hexagonal</text>
<text transform="translate(586.83,661.60) rotate(-43)" font-size="8.35" fill="#111">Cubic</text>
<text transform="translate(467.70,786.70) rotate(-43)" font-size="8.3" fill="#111" text-anchor="end">Cubic</text>
<rect x="471.70" y="665.60" width="55.20" height="55.20" fill="none" stroke="#e02222" stroke-width="1.6" stroke-dasharray="3 1.8"/>
<rect x="545.30" y="739.20" width="36.80" height="36.80" fill="none" stroke="#e02222" stroke-width="1.6" stroke-dasharray="3 1.8"/>
<defs><linearGradient id="g471665" x1="0" y1="1" x2="0" y2="0"><stop offset="0.000" stop-color="#f7fbff"/><stop offset="0.062" stop-color="#eaf3fb"/><stop offset="0.125" stop-color="#deebf7"/><stop offset="0.188" stop-color="#d2e3f3"/><stop offset="0.250" stop-color="#c6dbef"/><stop offset="0.312" stop-color="#b2d2e8"/><stop offset="0.375" stop-color="#9ecae1"/><stop offset="0.438" stop-color="#84bcdc"/><stop offset="0.500" stop-color="#6baed6"/><stop offset="0.562" stop-color="#56a0ce"/><stop offset="0.625" stop-color="#4292c6"/><stop offset="0.688" stop-color="#3282be"/><stop offset="0.750" stop-color="#2171b5"/><stop offset="0.812" stop-color="#1461a8"/><stop offset="0.875" stop-color="#08519c"/><stop offset="0.938" stop-color="#084084"/><stop offset="1.000" stop-color="#08306b"/></linearGradient></defs>
<rect x="608.1" y="659.4" width="7.3" height="141.1" fill="url(#g471665)" stroke="#999" stroke-width="0.5"/>
<path d="M615.4 800.50h-1.5" stroke="#555" stroke-width="0.5"/>
<text x="619.1999999999999" y="803.50" font-size="8.4" fill="#222">0.0</text>
<path d="M615.4 784.47h-1.5" stroke="#555" stroke-width="0.5"/>
<text x="619.1999999999999" y="787.47" font-size="8.4" fill="#222">2.5</text>
<path d="M615.4 768.43h-1.5" stroke="#555" stroke-width="0.5"/>
<text x="619.1999999999999" y="771.43" font-size="8.4" fill="#222">5.0</text>
<path d="M615.4 752.40h-1.5" stroke="#555" stroke-width="0.5"/>
<text x="619.1999999999999" y="755.40" font-size="8.4" fill="#222">7.5</text>
<path d="M615.4 736.36h-1.5" stroke="#555" stroke-width="0.5"/>
<text x="619.1999999999999" y="739.36" font-size="8.4" fill="#222">10.0</text>
<path d="M615.4 720.33h-1.5" stroke="#555" stroke-width="0.5"/>
<text x="619.1999999999999" y="723.33" font-size="8.4" fill="#222">12.5</text>
<path d="M615.4 704.30h-1.5" stroke="#555" stroke-width="0.5"/>
<text x="619.1999999999999" y="707.30" font-size="8.4" fill="#222">15.0</text>
<path d="M615.4 688.26h-1.5" stroke="#555" stroke-width="0.5"/>
<text x="619.1999999999999" y="691.26" font-size="8.4" fill="#222">17.5</text>
<path d="M615.4 672.23h-1.5" stroke="#555" stroke-width="0.5"/>
<text x="619.1999999999999" y="675.23" font-size="8.4" fill="#222">20.0</text>
<text x="624.6" y="658.9" font-size="8.6" font-weight="bold" fill="#1a1a1a" text-anchor="middle">(%)</text>
<text x="538.3" y="819.7" font-size="10.6" font-weight="bold" fill="#000" text-anchor="middle">Ours</text>
</svg></body></html>
